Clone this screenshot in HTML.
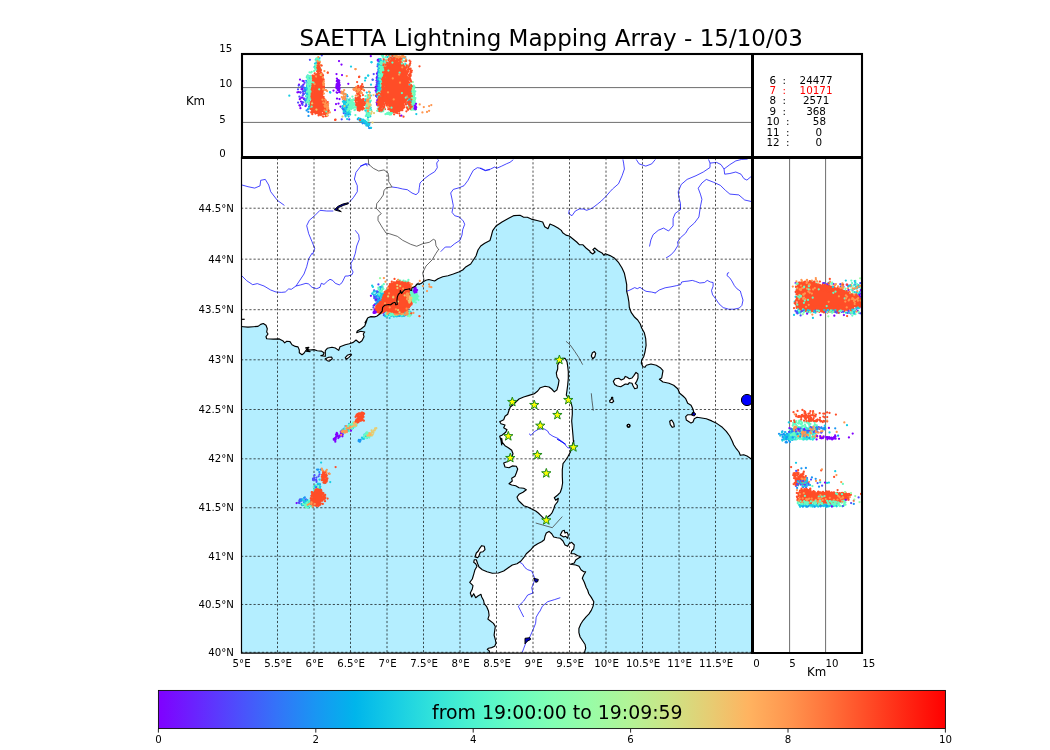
<!DOCTYPE html><html><head><meta charset="utf-8"><title>SAETTA Lightning Mapping Array</title>
<style>html,body{margin:0;padding:0;background:#fff}svg{display:block}text{font-family:"DejaVu Sans","Liberation Sans",sans-serif;fill:#000}.t{font-size:10.2px}.i{font-size:10.35px}.k{font-size:11.8px}</style></head><body>
<svg width="1050" height="750" viewBox="0 0 1050 750">
<defs><clipPath id="cm"><rect x="241" y="157.3" width="511" height="495.9"/></clipPath>
<clipPath id="ct"><rect x="242" y="54" width="510.5" height="103"/></clipPath>
<clipPath id="cr"><rect x="752.5" y="157.5" width="109.5" height="495"/></clipPath>
<linearGradient id="rb" x1="0" x2="1" y1="0" y2="0"><stop offset="0" stop-color="#8000ff"/><stop offset="0.05" stop-color="#6826fe"/><stop offset="0.1" stop-color="#4e4dfc"/><stop offset="0.15" stop-color="#3473f8"/><stop offset="0.2" stop-color="#1996f3"/><stop offset="0.25" stop-color="#00b5eb"/><stop offset="0.3" stop-color="#18cde4"/><stop offset="0.35" stop-color="#32e3da"/><stop offset="0.4" stop-color="#4df3ce"/><stop offset="0.45" stop-color="#67fcc2"/><stop offset="0.5" stop-color="#81ffb4"/><stop offset="0.55" stop-color="#99fca6"/><stop offset="0.6" stop-color="#b3f396"/><stop offset="0.65" stop-color="#cde385"/><stop offset="0.7" stop-color="#e6cd73"/><stop offset="0.75" stop-color="#ffb360"/><stop offset="0.8" stop-color="#ff964f"/><stop offset="0.85" stop-color="#ff733b"/><stop offset="0.9" stop-color="#ff4d27"/><stop offset="0.95" stop-color="#ff2613"/><stop offset="1" stop-color="#ff0000"/></linearGradient></defs>
<rect width="1050" height="750" fill="#fff"/>
<g clip-path="url(#cm)">
<rect x="241" y="157.3" width="511" height="495.9" fill="#b4eeff"/>
<path d="M230 326.4 240 326.4 243.3 326.7 248 327.1 253.3 326.7 258 326.4 260.7 324.4 263.3 323.5 266 325.3 267.3 328.7 266.7 332 268 334 266 336.7 266.7 338.7 273.3 339.1 279.3 338.9 282.7 340.7 284.7 342.9 286.7 341.3 290 341.6 292 344.7 295.3 346.4 298 346.9 299.3 350 299.3 352.7 302 354.7 304 353.3 305.3 351.3 306.7 349.3 310 350 314 349.6 317.3 350.7 321.3 351.1 324 352.7 323.3 354.9 320.7 355.7 325.3 356.3 325.3 350.7 327.3 348.3 332 347.3 335.3 348 338.7 350.4 340 346.7 345.3 344.7 349.3 343.7 353.3 342.4 356 340 359.3 342.7 362 340.7 364 336.7 363.3 334 364.7 332 360.7 331.3 356.7 332.7 357.3 330.9 361.3 328.7 364.7 326 366 322.7 367.3 318.7 365 322.8 367.9 317.7 370.9 316.6 374.5 316.9 376.7 316.2 379.7 314 382.2 311.1 382.6 307.4 384.8 305.2 388.5 304.5 390.7 304.8 392.9 303 395.1 302.3 395.8 304.8 397.3 304.5 396.9 300.8 397.3 297.1 398.4 294.2 400.2 292.7 400.3 290.5 401.7 293.5 403.1 291.3 404.6 289.8 407.5 289.2 409.7 288.7 410.1 290.2 411.6 290.5 411.9 288 415.6 286.1 416.3 284.7 417.8 283.9 419.3 284.3 421.5 283.2 423.7 281.4 425.9 280.3 428.8 279.5 434.6 281 438 278.7 442.7 276.7 448 275.7 453.3 274 458.7 272 462.7 270 465.3 267.3 470.7 264 473.3 260 476 256 478 250 480.7 246 484.7 243.3 490 240.4 491.3 236 492.7 230.7 496 226 502 222 508.7 218.3 514 215.6 520 215.3 523.3 217.1 527.3 217.3 531.3 219.1 538 220.7 542.7 222 544.7 226.7 548 228.7 550 224 554 225.7 558 228 561.3 230.4 562.7 232.7 566 235.1 569.3 236 572.7 238.7 576.7 242 579.3 244.7 582.7 244.7 586 248 590 251.3 590 252 592.7 254 595.1 252 592.9 249.7 594.7 248 598 250.7 602 252.9 604 255.3 605.3 253.7 610 255.6 614.7 258.3 618.7 262.7 622 268 624.4 273.3 625.7 279.3 626.7 284.7 626.7 291.3 628 296.7 628.9 302 629.3 307.3 631.3 312.7 634.7 317.3 637.7 320 640.3 324 641.7 328 644.3 332.7 645.7 338.7 646.1 345.3 645 352 643.7 356.7 641.7 360 641.3 363.3 643 366.7 645 367.3 646.3 365.3 651 364 656.3 365.3 660.3 367.7 663 370.7 662.3 374.7 661.7 378 659.4 379.3 663 382 669 383.3 673.7 385.3 677.7 388.7 678.3 390 679.7 393.3 683 396 685.7 398.7 687.7 403.3 691 405.3 693 409.3 693.7 412 691.7 414.7 687.7 414.7 685.7 416.7 686.3 420 689 421.7 691 423.1 693 422 694.3 418.7 697 417.3 701.7 418 706.3 418.7 711.7 420.9 717 423.6 722.3 427.3 726.3 431.3 729.7 436 732.3 441.3 733.7 444.7 736.3 448.7 739 452 740.3 455.3 743.7 454.7 747 456 753 460 770 460 770 140 230 140Z M501.7 445 501 440.3 499.7 436.3 502.3 435 505.7 432.3 507 429.7 503.7 427.7 505 425 501 423.7 499.7 421.7 503.7 419.7 505 416.3 507.7 414.3 509 410.3 510.3 407 513.7 404.3 516.3 401.7 519 399 523.7 397 529 395.4 534.3 393.7 537.7 391 540.3 387.7 545 386.3 549 387 551.7 389 554.3 391.9 557 389.7 558.3 385 559 380.3 557 377 556.3 373 557.7 369 557.7 365 559.7 361.7 562.3 358.3 565 358.3 567 361.7 567.7 366.3 568.3 371.7 568.3 378.3 567.7 385 567 390.3 566.3 395 568.3 398.3 571 402.3 572.3 407.7 572.3 414.3 571.7 421 572.3 427.7 573 435.7 573.7 445 573.7 440.3 571.7 447 570.3 452.3 567.7 457 565 461 563 463.7 562.3 469.7 562.3 476.3 562.6 483 561.7 488.3 560.3 492.3 557.7 495 554.3 497.7 555.7 500.3 558.3 498.3 557.7 501.7 555 505 553.7 509 552.3 512.3 550.3 515 547.7 517 545.7 519.7 543.7 518.3 541 515.7 538.3 513 535.7 511 531.7 509 527.7 507 523.7 505.7 521 503 518.3 500.3 517 497 519 494.3 523 492.3 526.3 489.7 523.7 488.3 519 487.7 515.7 485.7 511.7 485 509 483.7 512.3 481 511.7 478.3 515 476.3 516.3 473 517.7 469 516.3 466.3 512.3 465.9 509 467.7 505 467 503.7 463 507 461.7 510.3 460.3 513 453.7 511.7 450.3 508.3 447.7 505 445.7 502.3 442.3 501.7 438.3Z M489.8 656.9 489.8 652.5 489.1 650.7 487.3 649.4 488.5 648.2 491.6 647.6 494.7 646.3 496 643.2 495.3 639.5 494.1 635.2 494.7 630.9 495.3 626.5 493.5 623.4 490.4 621 487.9 619.1 489.1 615.4 488.5 611 486.7 606.7 484.2 603.6 483.6 600.5 481.7 597 481 594.3 478.3 595.7 475.7 597.7 473.7 593.7 471.7 597 470.3 593 472.3 589 473 585.7 469.7 582.3 472.3 579 473.7 574.3 475 569.7 477 566.3 475.7 563.7 473.7 562.3 474.3 559.7 476.3 559.7 477.7 563.7 479 567 482.3 569.7 487 571.7 492.3 573.3 498.3 573 503.7 571 508.3 567.7 512.3 565 517 563.7 521 561 523.7 557.7 526.3 553.7 530.3 550.3 533.7 546.3 537.7 543.7 541.7 541.7 544.3 539.7 545 536.3 546.3 533 549 531.4 551.7 533.7 553.7 537 557 537.7 560.3 538.3 563 541 565 545 567.7 546.3 569 543.7 571.7 542.3 574.3 545 573.7 549 571.7 551 571 553.7 574.3 553.7 577.7 555.7 581 556.7 578.3 558.3 575.7 559.9 574.3 563 570.3 564.3 575.7 565 579 566.3 581 569.7 583.7 571.7 585.7 571.7 583.7 575 582.3 578.3 584.3 582.3 586.3 587.7 587.6 590 588.8 593.7 591.3 597.4 593.8 601.8 593.1 606.1 591.3 610.4 588.8 614.1 586.3 616.6 583.2 620.3 580.8 624 578.9 628.4 578.9 632.7 580.1 637 582.6 640.8 585.1 644.5 585.7 648.2 584.5 652.5 584.5 656.9Z M613.3 381.3 615.3 378.7 618.7 378.3 621.3 380 624 378.7 625.3 376.4 627.3 377.3 629.3 378.7 632 378 634 375.3 636 372.4 638 374 638 378 636.7 381.3 635.3 383.3 637.3 385.3 637.3 388 634.7 388.7 633.1 386 632 383.3 629.3 382.7 628 384.4 625.3 384 623.3 385.3 620.7 386.7 617.3 386 614.7 384.4Z M591.3 356 592.4 352.7 594.4 351.6 595.7 353.3 594.9 356.7 592.7 358.7Z M609.6 400.7 611.3 399.3 611.6 397.3 612.7 397.3 612.7 399.3 613.7 401.3 612 402.7 610 402.3Z M669.7 421.3 671.7 420 673.7 423.3 674.3 426.7 672.3 427.3 670.3 424.7Z M475 557 476.3 553 478.3 551 479.7 548.3 481.7 545.7 484.3 546.3 485 549.7 483 551.7 480.3 552.3 479 555.7 477.7 557.7Z M560.3 535 562.3 531 564.3 530.3 565 533 567 532.3 568.3 535 567.7 538.3 565.7 536.3 563.7 537Z M325.3 358.7 328.7 357.3 331.7 357.1 332.3 358.7 329.3 361.1 327.3 360.7Z M345.3 357.6 347.3 355.3 350.7 354 351.5 354.9 348.7 357.6 346.3 359.3Z" fill="#fff"/>
<circle cx="628.5" cy="425.7" r="1.4" fill="#fff"/>
<circle cx="628.6" cy="425.7" r="1.4" fill="#fff"/>
<g fill="none" stroke="#0000ff" stroke-width="0.72" stroke-linejoin="round">
<path d="M242 185 248 186.7 254.7 188.1 260 185.9 260.7 180.3 265.3 179.4 268.7 185 270.7 191.7 277.3 200.3 284.4 205.4"/>
<path d="M370 165 366.7 163.7 360.7 166.3 356 172.3 354.4 179 357.3 185.7 357.3 191.7 353.3 197.7 349.3 202.3"/>
<path d="M333.3 211 326.7 211 320 210.3 314.7 215.7 309.3 220.3 306.7 225.7 308.7 233.7 312 241.7 314.7 248.3 312.7 254.3 312 253.3 308.7 258.7 306.7 266.7 304 274 300 280 296 286"/>
<path d="M242 276 246.7 280.7 252.7 284.7 257.3 283.6 264 286 270.7 290 276 292 281.3 292.4 285.3 292 288.7 288.9 291.3 289.3 296 286 300.7 284.9 306 283.3 308.7 284 312 287.3 316.7 288.7 320 287.3 321.3 283.3 324 284.4 327.3 281.3 330 279.3 332.7 280.4 335.3 283.3 339.3 284.9 342 282.7 345.3 276 348 276 352 274.7 353.1 272 351.3 268.7 350.9 263.3 353.3 259.3 355.3 253.3 356.7 246 359.3 239.3 358.7 234.7 356 231.3 355.3 230.3"/>
<path d="M360 166.3 364 164.3 366 163.7 367.3 166.3"/>
<path d="M392 187 397.3 187.7 402.7 189 407.3 189.7 412 193 416 194.7 418.7 192.3 419.3 187.7 420 183 424 179 429.3 175 434.7 171.7 437.3 167.7 436.7 163 438.7 160.3 437.3 159"/>
<path d="M490 169.7 485.3 170.3 481.3 168.3 477.3 167.7 473.3 170.3 470.7 175 468 180.3 464 185.7 459.3 187.7 453.3 189.4 450.7 193 452 199 453.3 205.7 452 212.3 454.7 215.7 459.3 217 463.3 221 464.7 224.3 462.7 229.7 462 235 460 240.3 454.7 243.7 450.7 247 445.3 247 440.7 251.7"/>
<path d="M480 168.3 485.3 170.7 490.7 169 494.7 167 496.7 168.3 501.3 166.3 506.7 163.7 510 162.3 513.3 159.7"/>
<path d="M569.3 209.7 568.7 213.7 572 215.7 575.3 211 579.3 209 583.3 209 586.7 210.3 592 208.3 597.3 204.3 601.3 201 606 196.3 610 191.7 612.5 189 618.5 183.8 622.1 175.7 624.4 169 623.6 163.1 622.9 159.4"/>
<path d="M636.2 159.4 639.1 163.9 645.8 166.1 651.7 163.9 655.4 159.4"/>
<path d="M708.5 159.4 710 163.1 710 167.5 703.3 172 696 175.7 687.1 179.4 681.2 184.5 678.2 191.9 679 197.8 680.5 203.7 680.5 209.6 675.3 213.3 673.1 218.5 673.1 225.9 668.6 231 663.5 228.1 658.3 230.3 653.1 234.7 650.9 239.9 649.5 246.5"/>
<path d="M710 163.1 716.6 162.4 721 164.6 724 169 729.9 164.6 735.8 160.9 741.7 159.4 747.6 159.1"/>
<path d="M724 169 724.7 174.2 729.9 173.5 735.8 172 741 174.2 743.9 178.6 746.9 180.1 751.3 176.4"/>
<path d="M751.3 201.5 744.7 200 738.8 194.9 729.9 194.1 725.5 190.4 720.3 185.3 713.7 182.3 706.3 179.4 701.9 183 698.2 188.2 700.4 194.1 701.9 199.3 700.4 206.7 698.9 217 694.5 222.9 688.6 228.1 685.6 233.2 680.5 237.7 677.5 242.1 678.2 245 674.5 251 670.9 254.9 666 258"/>
<path d="M626.7 291.3 630 290 634.7 287.6 637.3 288.7 640 287.3 642.7 289.3 646 291.3 651.3 292 655.3 292.9 655 293.2 659.3 290 665.1 287.8 671 286.8 676.3 285.7 680.6 284.6 681.7 282 684.9 281.4 688 281.1 692.3 280.4 695.5 281.4 699.8 283 704.6 282.5 707.2 280.4 710.4 282 713.1 282.5 713.1 286.2 711.5 290.5 712.6 294.8 715.8 299 719 303.8 723.2 307.6 728.6 309.2 733.9 309.2 739.2 308.1 741.9 305.4 743 300.1 741.4 294.8 740.3 291 737.1 288.9 734.4 285.7 731.8 280.9 729.6 277.7 727 275.6 727.5 273.2 729.1 272.6"/>
<path d="M529 433.7 531 435.4 534.3 431.7 538.3 429.3 543.7 428.7 547.7 431 549 433.7 553 436.3 557.7 438.3 562.3 441.7 565.7 444.3 557 439 563.7 443 567.7 447.7 571.7 448.3"/>
<path d="M519.7 562.3 522.3 563.7 525 567.7 527.7 569.7 531.7 571 533.7 575.7 535 579 533 585 531.7 587.7 533 593 527.7 595 523.7 601 518.3 606.3 521 611.7 523.7 617"/>
<path d="M560.3 597.7 554.3 599.7 547.7 601.7 542.3 606.3 539.7 611.7 539.3 611.7 536.2 617.2 535.6 623.4 533.1 629.6 530.6 635.2 528.8 638.9 525.7 643.2 523.8 648.2 522.2 652.5"/>
</g>
<g fill="none" stroke="#444" stroke-width="0.8" stroke-linejoin="round">
<path d="M368.3 159 368.7 164.3 373.3 168.3 378.7 171 384 169.9 388 173 388.7 177 388.7 181.7 392 187 386.7 187.7 384 190.3 383.3 195 380 199.7 376.7 203.7 376.3 208.3 381.3 213.7 378 216.3 378 220.3 382 227 386 233 389.3 233.7 397.3 236.3 402.7 240.3 410.7 244.3 416.7 246.3 422.7 243.7 429.3 242.3 433.3 239.3 435.3 240.3 436 245.7 438.7 249.7 438.7 249.3 436 253.3 432 260 426 266 422.7 272.7 424 280 422.7 282.7"/>
<path d="M416 286 416.7 283.7 418.7 282.9 419.7 284.7"/>
<path d="M566 341.3 570 344.7 574.7 351.3 578.7 357.3 582.7 364.7"/>
<path d="M591.3 393.3 592 400.7 593.3 410.7"/>
<path d="M535.7 523 552.3 527.7 562.3 516.6"/>
</g>
<g fill="#0000c8" stroke="#000" stroke-width="1" stroke-linejoin="round">
<path d="M348.3 202.7 342.7 204.1 338 206.3 334.4 209.7 336 210.3 341.3 211.7 338.7 209.9 336.7 209 339.3 207.3 343.3 205.4 348.3 203.8Z"/>
<path d="M533.7 578.3 538.3 579.4 537.7 581.7 535.7 582.3Z"/>
<path d="M525 638.3 530 637.7 530.6 639.5 526.9 641.4 525 643.9Z"/>
<path d="M692.3 412.7 693.7 412 695.7 414 694.3 416 691.7 415.1Z"/>
<circle cx="747" cy="400" r="5.6" fill="#0000ff"/>
</g>
<g fill="none" stroke="#000" stroke-width="0.68" stroke-dasharray="2.2 1.97">
<path d="M277.50 652.3 V157.3"/>
<path d="M314.00 652.3 V157.3"/>
<path d="M350.50 652.3 V157.3"/>
<path d="M387.00 652.3 V157.3"/>
<path d="M423.50 652.3 V157.3"/>
<path d="M460.00 652.3 V157.3"/>
<path d="M496.50 652.3 V157.3"/>
<path d="M533.00 652.3 V157.3"/>
<path d="M569.50 652.3 V157.3"/>
<path d="M606.00 652.3 V157.3"/>
<path d="M642.50 652.3 V157.3"/>
<path d="M679.00 652.3 V157.3"/>
<path d="M715.50 652.3 V157.3"/>
<path d="M241 652.30 H752"/>
<path d="M241 604.48 H752"/>
<path d="M241 556.30 H752"/>
<path d="M241 507.75 H752"/>
<path d="M241 458.82 H752"/>
<path d="M241 409.51 H752"/>
<path d="M241 359.81 H752"/>
<path d="M241 309.69 H752"/>
<path d="M241 259.17 H752"/>
<path d="M241 208.21 H752"/>
<path d="M241 156.81 H752"/>
</g>
<g fill="none" stroke-width="2.25" stroke-linecap="round"><path d="M384.6 308.4h.01M377.1 303.0h.01M376.4 299.8h.01M380.9 303.6h.01M378.2 295.6h.01M377.0 298.3h.01M376.2 296.0h.01M379.4 298.1h.01M379.7 296.5h.01M374.3 298.2h.01M374.9 297.1h.01M376.5 299.8h.01M380.7 299.7h.01M380.3 301.1h.01M373.4 307.6h.01M374.1 290.3h.01M380.9 306.9h.01M384.0 297.9h.01M378.1 292.1h.01M375.7 298.3h.01M382.2 299.9h.01M377.1 305.6h.01" stroke="#4e4dfc"/><path d="M375.8 300.5h.01M380.5 301.3h.01M380.1 300.0h.01M373.5 305.8h.01M375.3 303.8h.01M381.9 301.4h.01M382.2 293.9h.01M383.6 293.7h.01M381.6 286.7h.01M381.1 301.9h.01M380.1 287.2h.01M384.1 303.0h.01M376.6 308.7h.01M379.1 291.6h.01M381.1 293.8h.01M373.9 295.1h.01M384.5 302.7h.01M376.8 292.8h.01M379.4 297.1h.01M387.6 294.8h.01M376.6 296.4h.01M377.7 305.4h.01M385.4 292.2h.01M375.7 298.3h.01M378.1 299.5h.01M381.6 302.9h.01" stroke="#1996f3"/><path d="M375.3 294.3h.01M384.9 291.9h.01M382.1 293.5h.01M383.9 303.3h.01M380.7 296.3h.01M373.8 291.6h.01M377.8 295.0h.01M383.7 298.4h.01M380.5 288.7h.01M380.2 292.7h.01M387.6 302.7h.01M389.3 298.9h.01M380.2 293.9h.01M388.2 291.6h.01M372.4 293.3h.01M372.1 285.7h.01M383.9 299.4h.01M379.3 296.1h.01M382.7 295.0h.01M382.5 287.1h.01M380.0 290.3h.01M383.1 297.0h.01M381.0 295.6h.01M374.2 291.5h.01M381.3 297.0h.01M381.1 299.4h.01M387.8 290.5h.01M375.8 291.3h.01" stroke="#18cde4"/><path d="M379.3 294.6h.01M378.5 288.9h.01M384.2 294.6h.01M383.4 288.9h.01M382.9 288.4h.01M378.4 287.7h.01M378.8 293.6h.01M381.7 291.7h.01M380.7 291.3h.01M382.2 285.5h.01M379.8 291.2h.01M383.8 284.2h.01M387.1 297.0h.01M386.4 289.9h.01M386.6 291.4h.01M382.1 290.1h.01" stroke="#67fcc2"/><path d="M375.7 303.8h.01M376.0 299.4h.01M377.8 301.0h.01M379.8 303.1h.01M376.4 299.7h.01M376.9 300.3h.01M377.8 299.8h.01M375.6 299.7h.01M375.6 300.0h.01M377.3 301.8h.01M377.8 303.2h.01M377.3 303.5h.01M379.9 301.5h.01M377.6 298.9h.01M378.3 301.5h.01M379.9 301.1h.01" stroke="#1996f3"/><path d="M376.0 310.4h.01M375.5 312.5h.01M373.8 311.5h.01M376.1 312.2h.01M373.5 312.8h.01M374.9 310.2h.01M376.0 310.5h.01M376.0 310.7h.01M377.2 311.9h.01M375.2 310.6h.01M376.0 311.4h.01M376.3 312.1h.01M375.3 312.1h.01M376.3 311.2h.01M374.5 309.8h.01M376.3 308.9h.01M376.2 312.0h.01M374.6 311.2h.01M374.9 309.6h.01M375.4 310.1h.01M375.0 310.2h.01M376.7 308.7h.01M375.8 311.0h.01M377.0 309.8h.01M376.8 310.3h.01M375.7 311.6h.01M375.4 310.6h.01M374.7 311.3h.01M374.8 311.2h.01M374.8 310.7h.01M376.0 310.7h.01M374.7 312.9h.01M375.7 310.5h.01M375.8 312.6h.01M375.1 309.6h.01M375.4 311.5h.01M377.1 310.9h.01M377.3 309.8h.01M374.8 309.3h.01M375.4 312.6h.01" stroke="#8000ff"/><path d="M370.9 295.8h.01M376.0 299.7h.01M374.2 305.2h.01" stroke="#8000ff"/><path d="M408.8 312.5h.01M409.4 315.3h.01M402.3 313.1h.01M409.2 312.9h.01M388.1 312.3h.01M406.6 311.5h.01M400.1 314.1h.01M391.3 312.7h.01M399.5 315.2h.01M386.3 310.9h.01M404.8 315.2h.01M400.7 311.2h.01M386.2 314.9h.01M389.3 313.0h.01M391.2 314.5h.01M396.2 313.0h.01M389.6 311.5h.01M391.4 315.6h.01M398.3 314.0h.01M387.3 311.8h.01M403.8 313.8h.01M395.6 311.8h.01M394.4 312.8h.01M398.9 313.7h.01M387.6 313.8h.01M407.5 311.2h.01M386.5 311.7h.01M398.2 313.0h.01M409.5 313.3h.01M387.1 315.1h.01M402.3 313.6h.01M409.8 314.9h.01M410.3 312.6h.01M392.8 311.7h.01M400.3 312.1h.01M408.9 310.8h.01M400.3 312.6h.01M407.0 314.0h.01M402.3 315.0h.01M384.3 311.9h.01" stroke="#8000ff"/><path d="M402.5 313.7h.01M403.7 314.9h.01M402.1 315.4h.01M409.5 312.1h.01M399.1 315.9h.01M395.4 313.1h.01M397.9 311.4h.01M383.5 311.6h.01M383.5 313.1h.01M396.7 315.2h.01M393.5 311.1h.01M387.0 311.9h.01M392.9 315.1h.01M400.7 315.2h.01M397.5 311.8h.01M394.1 311.0h.01M404.2 314.3h.01M384.8 315.1h.01M407.4 311.0h.01M401.8 313.6h.01M394.7 311.5h.01M402.1 314.0h.01M408.8 311.3h.01M401.1 311.4h.01M401.5 313.7h.01M402.4 315.9h.01M408.2 310.8h.01M407.5 311.2h.01M390.9 311.8h.01M383.9 315.2h.01M390.9 312.0h.01M393.2 312.2h.01M390.0 313.1h.01M395.7 315.4h.01M408.8 312.2h.01M388.5 313.3h.01M393.7 313.3h.01M405.9 313.4h.01M386.9 313.1h.01M392.9 315.1h.01" stroke="#4e4dfc"/><path d="M388.8 313.6h.01M397.0 315.1h.01M386.9 312.7h.01M407.0 314.2h.01M394.9 312.1h.01M410.4 313.3h.01M401.3 315.9h.01M388.9 315.0h.01M408.4 312.8h.01M391.3 312.3h.01M400.6 314.2h.01M404.1 313.5h.01M386.1 316.5h.01M388.3 312.4h.01M394.9 316.1h.01M393.1 312.1h.01M391.9 315.4h.01M390.7 315.8h.01M393.1 311.8h.01M410.0 313.3h.01M395.8 314.9h.01M395.7 313.1h.01M390.1 311.3h.01M388.5 315.2h.01M390.3 313.5h.01M407.4 311.8h.01M407.4 311.0h.01M388.0 313.7h.01M394.1 312.4h.01M399.1 315.5h.01M398.3 311.6h.01M388.8 310.8h.01M385.0 316.0h.01M404.9 313.1h.01M386.9 315.7h.01M394.1 314.0h.01M404.0 315.9h.01M401.9 316.2h.01M394.4 311.2h.01M405.0 312.3h.01M410.3 311.8h.01M396.3 316.3h.01M407.3 314.8h.01M397.5 316.1h.01M393.9 316.5h.01M410.2 315.3h.01M404.3 315.8h.01M387.0 316.2h.01M398.0 314.3h.01M393.6 315.5h.01" stroke="#18cde4"/><path d="M411.2 314.6h.01M398.0 312.7h.01M391.2 314.3h.01M403.1 311.9h.01M387.0 311.0h.01M393.7 310.7h.01M395.5 314.9h.01M406.8 311.0h.01M386.2 310.8h.01M394.0 311.2h.01M393.6 313.2h.01M403.0 314.1h.01M408.6 313.0h.01M398.2 313.7h.01M407.8 313.1h.01M396.7 314.4h.01M398.8 313.6h.01M394.0 311.3h.01M390.7 312.2h.01M409.0 315.8h.01M401.4 312.8h.01M392.6 314.0h.01M399.7 311.3h.01M396.2 314.0h.01M386.5 314.2h.01M403.9 311.2h.01M408.4 315.5h.01M401.6 312.5h.01M389.4 312.2h.01M396.6 314.1h.01M390.9 315.4h.01M390.0 314.9h.01M393.3 313.4h.01M409.2 310.6h.01M407.8 313.0h.01M406.5 313.7h.01M410.0 314.9h.01M388.4 311.4h.01M391.3 312.9h.01M386.7 313.8h.01M385.6 314.1h.01M402.5 310.6h.01M396.3 315.1h.01M400.5 310.9h.01M408.5 315.0h.01M393.1 315.1h.01M392.0 313.7h.01M407.2 313.3h.01M386.2 312.2h.01M410.0 312.5h.01M394.7 315.4h.01M386.4 313.9h.01M391.3 312.9h.01M387.7 312.3h.01M407.8 315.8h.01M387.0 315.5h.01M386.9 315.4h.01M401.8 315.4h.01M391.1 312.3h.01M394.4 314.9h.01" stroke="#67fcc2"/><path d="M401.7 312.0h.01M406.9 314.6h.01M402.8 312.9h.01M405.1 314.5h.01M404.3 311.2h.01M399.1 313.2h.01M401.9 312.1h.01M387.3 311.1h.01M394.6 312.8h.01M404.4 314.5h.01M387.7 312.7h.01M393.3 311.8h.01M400.2 313.6h.01M396.1 314.3h.01M387.2 313.8h.01M389.5 312.0h.01M401.2 313.9h.01M398.4 313.9h.01M399.3 312.7h.01M406.8 313.8h.01M407.4 311.2h.01M392.4 311.8h.01M406.3 312.5h.01M397.8 314.5h.01M400.6 313.6h.01M387.9 313.5h.01M394.9 314.1h.01M407.8 313.7h.01M407.6 311.3h.01M395.3 314.3h.01" stroke="#ff964f"/><path d="M411.3 294.2h.01M411.8 295.0h.01M414.9 294.9h.01M410.9 300.6h.01M418.3 296.4h.01M416.0 299.7h.01M410.1 301.4h.01M408.8 295.0h.01M416.3 296.4h.01M411.6 299.3h.01M414.7 298.1h.01M410.6 296.2h.01M413.6 301.0h.01M412.0 298.3h.01M414.8 299.0h.01M412.7 296.0h.01M416.7 298.3h.01M411.8 294.7h.01M416.2 297.8h.01M413.4 296.7h.01M414.6 297.4h.01M409.9 299.2h.01M409.6 298.7h.01M415.7 298.0h.01M410.7 293.5h.01M412.7 294.5h.01M412.7 296.5h.01M411.4 298.9h.01M413.9 300.6h.01M410.3 295.9h.01M410.8 296.7h.01M415.4 296.0h.01M411.6 296.8h.01M415.0 297.6h.01M414.9 295.0h.01M416.7 293.9h.01M414.4 299.5h.01M409.4 298.9h.01M412.0 296.1h.01M412.5 296.8h.01M416.1 295.4h.01M414.2 293.7h.01M412.3 298.6h.01M414.3 295.5h.01M412.6 294.4h.01M414.6 295.6h.01M413.7 301.0h.01M415.8 298.1h.01M414.1 297.6h.01M415.6 297.3h.01M413.4 299.2h.01M415.0 298.8h.01M413.1 294.0h.01M414.8 296.5h.01M413.9 295.5h.01M413.1 297.6h.01M412.5 296.9h.01M412.8 292.3h.01M414.4 299.8h.01M408.3 297.7h.01M416.1 292.9h.01M413.0 299.8h.01M413.0 297.4h.01M412.7 298.2h.01M415.0 297.1h.01M413.9 297.4h.01M413.3 295.8h.01M413.6 293.1h.01M415.5 295.6h.01M411.5 297.5h.01M414.2 297.1h.01M408.9 298.6h.01M412.5 296.8h.01M414.3 300.8h.01M410.7 298.8h.01M411.7 295.1h.01M412.6 293.8h.01M414.6 296.2h.01M414.1 293.7h.01M410.5 297.8h.01M415.5 294.8h.01M410.5 301.6h.01M412.8 296.4h.01M416.3 295.6h.01M410.5 295.4h.01M412.6 291.8h.01M417.1 294.9h.01M412.8 295.1h.01M411.1 296.2h.01M412.1 295.7h.01M415.2 297.1h.01M409.9 300.0h.01M412.0 295.9h.01M410.2 296.8h.01M410.8 298.0h.01M416.2 295.1h.01M413.2 295.9h.01M412.4 299.3h.01M414.3 297.4h.01M411.8 294.1h.01M410.7 292.7h.01M415.9 302.5h.01M415.3 298.1h.01M411.5 293.2h.01M414.9 297.4h.01M416.6 298.7h.01M414.5 297.3h.01M414.5 292.6h.01M410.7 301.4h.01M413.1 298.5h.01M409.3 296.6h.01M415.8 298.7h.01M413.0 296.5h.01M416.3 296.3h.01M411.7 299.2h.01M415.3 292.4h.01M409.9 299.5h.01M412.5 298.0h.01M414.6 298.9h.01M414.2 299.3h.01M413.3 300.8h.01M409.7 300.6h.01M416.3 299.2h.01M414.8 296.2h.01M415.9 298.8h.01M415.9 296.0h.01M412.6 294.9h.01M414.3 298.2h.01M414.7 298.0h.01M411.5 300.0h.01M414.3 292.1h.01M412.1 298.6h.01M417.3 298.8h.01M413.8 297.5h.01M411.1 300.7h.01M412.0 295.1h.01M410.3 298.0h.01M409.4 296.3h.01M415.2 297.2h.01M411.8 294.9h.01M410.9 296.9h.01M413.7 298.8h.01M411.5 297.5h.01M413.9 298.0h.01M417.3 295.4h.01M410.8 301.0h.01M410.7 295.6h.01M415.6 297.3h.01M411.9 298.6h.01M411.4 296.8h.01M409.6 299.0h.01M412.7 297.7h.01M412.5 301.3h.01M415.0 298.5h.01M411.0 298.2h.01M412.8 295.3h.01M412.7 298.3h.01M409.9 299.6h.01M409.9 298.2h.01M414.4 295.0h.01M414.6 295.9h.01M411.6 296.7h.01M416.9 297.3h.01M415.5 293.9h.01M414.4 301.7h.01M414.7 297.0h.01M414.2 297.5h.01M415.0 296.2h.01M415.3 297.1h.01M413.5 301.8h.01" stroke="#67fcc2"/><path d="M408.9 296.6h.01M406.4 295.7h.01M409.1 290.9h.01M410.2 290.1h.01M408.9 291.6h.01M409.0 300.5h.01M411.2 290.8h.01M410.7 292.1h.01M409.6 297.8h.01M408.3 293.3h.01M407.0 290.6h.01M412.9 299.5h.01M406.9 295.5h.01M411.0 291.7h.01M409.4 292.9h.01M408.4 297.7h.01M411.4 292.9h.01M408.4 295.3h.01M412.1 297.6h.01M407.9 298.0h.01M410.7 287.5h.01M412.1 292.5h.01M408.0 293.1h.01M413.6 294.7h.01M411.3 297.2h.01M405.7 298.6h.01M412.3 292.7h.01M413.3 290.3h.01M409.3 295.1h.01M409.4 292.2h.01M410.5 300.7h.01M406.3 295.7h.01M410.1 294.6h.01M411.5 298.1h.01M408.7 292.0h.01M411.8 293.1h.01M413.8 293.7h.01M406.1 296.8h.01M406.4 299.2h.01M408.5 297.3h.01" stroke="#67fcc2"/><path d="M416.1 292.2h.01M415.0 289.6h.01M415.7 290.4h.01M415.0 292.3h.01M416.5 291.9h.01M414.6 291.3h.01M415.2 291.7h.01M415.5 287.7h.01M416.1 290.2h.01M414.5 288.6h.01M415.0 289.7h.01M414.4 290.0h.01M413.9 291.2h.01M416.4 292.1h.01M415.8 291.6h.01M413.7 290.9h.01M414.3 290.0h.01M415.8 292.2h.01M414.6 290.9h.01M414.2 288.1h.01M416.6 290.4h.01M414.8 291.1h.01M414.9 289.2h.01M415.8 290.8h.01M414.5 292.5h.01M415.3 290.1h.01M415.4 290.4h.01M416.0 290.4h.01M414.5 289.2h.01M416.4 289.8h.01M415.6 289.1h.01M417.1 290.1h.01M415.5 289.4h.01M414.7 291.7h.01M414.7 290.3h.01M414.1 291.6h.01M415.3 288.8h.01M415.2 290.4h.01M416.2 291.2h.01M415.3 291.4h.01M414.4 289.6h.01M416.3 290.3h.01M414.8 290.6h.01M415.5 290.0h.01M416.7 289.9h.01" stroke="#8000ff"/><path d="M404.4 282.8h.01M399.4 281.8h.01M397.5 281.9h.01M401.5 283.0h.01M403.8 282.0h.01M404.2 283.2h.01M406.9 283.2h.01M403.2 281.3h.01M404.6 282.3h.01M400.4 280.6h.01M402.8 281.8h.01M408.3 284.2h.01M408.4 279.9h.01M404.8 282.3h.01M402.1 283.2h.01M402.6 283.2h.01M406.9 282.2h.01M400.8 283.6h.01M400.2 283.2h.01M402.5 282.5h.01M405.6 283.1h.01M399.8 280.9h.01M404.0 281.6h.01M404.0 284.5h.01M403.3 282.2h.01M402.4 282.3h.01M405.6 281.3h.01M404.6 284.2h.01M398.6 279.9h.01M407.6 281.6h.01" stroke="#67fcc2"/><path d="M409.6 285.1h.01M411.5 287.2h.01M408.4 285.8h.01M408.6 283.5h.01M409.4 287.7h.01M405.6 285.9h.01M411.5 287.0h.01M407.2 284.0h.01M411.0 285.3h.01M411.6 284.2h.01M410.8 283.8h.01M409.3 285.7h.01M407.7 283.1h.01M405.0 284.0h.01M410.0 283.3h.01M408.5 285.6h.01M412.1 284.0h.01M408.4 287.4h.01M410.1 286.5h.01M408.2 286.6h.01M409.7 285.0h.01M408.3 285.7h.01M408.6 286.7h.01M405.4 284.1h.01M407.6 287.2h.01" stroke="#ff964f"/><path d="M384.0 303.7 385.2 298.1 387.0 293.2 389.5 288.9 392.6 286.1 396.9 284.9 401.8 285.8 405.5 285.5 408.0 288.0 407.4 290.7 406.1 293.2 406.7 296.9 408.0 300.6 408.6 303.7 406.1 306.1 403.0 309.2 398.7 310.5 394.4 310.1 390.1 309.2 387.0 308.0 384.6 309.8 381.5 310.5 379.0 308.0 379.6 304.9 382.1 303.7Z" fill="#ff4d27" stroke="none"/><path d="M409.2 304.7h.01M407.3 290.2h.01M409.6 305.6h.01M407.7 289.2h.01M394.2 283.6h.01M391.4 309.7h.01M407.8 298.4h.01M395.7 283.3h.01M381.1 310.2h.01M408.5 294.9h.01M389.2 309.5h.01M391.8 309.7h.01M398.7 286.6h.01M398.3 282.0h.01M400.6 284.9h.01M408.4 299.5h.01M406.6 295.0h.01M405.4 283.4h.01M378.2 306.7h.01M404.5 310.3h.01M388.2 309.9h.01M406.4 306.9h.01M379.5 306.6h.01M397.7 285.2h.01M393.8 283.8h.01M408.4 300.5h.01M406.9 292.4h.01M386.2 308.1h.01M378.0 304.9h.01M380.0 309.2h.01M407.7 289.2h.01M407.3 307.0h.01M386.4 296.2h.01M408.6 287.3h.01M408.6 299.5h.01M389.5 289.4h.01M405.8 306.8h.01M388.4 308.1h.01M404.8 309.6h.01M391.4 285.0h.01M378.2 312.2h.01M409.4 284.8h.01M382.0 303.5h.01M407.2 307.5h.01M397.6 311.4h.01M382.1 304.3h.01M408.1 290.7h.01M396.6 311.2h.01M388.3 309.8h.01M408.4 305.9h.01M408.2 291.2h.01M407.9 286.6h.01M409.4 285.2h.01M379.0 307.3h.01M403.2 283.8h.01M409.3 287.9h.01M378.8 311.2h.01M407.5 305.5h.01M398.9 309.9h.01M380.9 310.6h.01M392.1 310.7h.01M388.9 288.1h.01M401.6 285.1h.01M387.2 309.1h.01M407.7 298.2h.01M404.9 309.1h.01M391.3 311.7h.01M408.1 290.2h.01M390.7 310.4h.01M387.6 308.4h.01M399.3 311.1h.01M382.6 303.6h.01M401.0 309.4h.01M395.7 309.6h.01M407.8 305.7h.01M379.6 311.2h.01M378.1 311.3h.01M408.5 306.4h.01M385.6 309.4h.01M376.3 306.0h.01M400.9 284.3h.01M396.9 285.5h.01M402.7 310.4h.01M409.8 286.8h.01M388.8 310.0h.01M409.3 289.5h.01M385.9 292.9h.01M389.5 310.6h.01M390.4 286.0h.01M377.0 308.7h.01M377.7 309.8h.01M386.3 294.6h.01M388.9 286.3h.01M405.5 282.6h.01M387.5 289.4h.01M392.6 310.4h.01M379.2 310.8h.01M379.1 309.5h.01M376.5 308.2h.01M376.7 309.2h.01M385.5 293.9h.01M383.4 310.7h.01M383.7 311.4h.01M407.7 306.6h.01M408.6 292.7h.01M384.5 301.9h.01M406.4 309.0h.01M408.8 305.3h.01M383.0 298.0h.01M384.0 304.3h.01M408.9 290.6h.01M384.5 301.1h.01M388.5 307.7h.01M395.2 284.5h.01M390.3 308.9h.01M396.7 311.0h.01M406.5 308.9h.01M376.7 307.7h.01M409.1 287.2h.01M408.3 305.6h.01M402.7 311.1h.01M395.1 285.4h.01M396.0 310.9h.01M384.3 310.1h.01M380.3 301.8h.01M392.8 284.8h.01M383.2 310.1h.01M409.6 301.6h.01M409.9 302.4h.01M409.4 305.0h.01M395.7 312.1h.01M405.0 284.1h.01M383.4 303.1h.01M382.5 299.4h.01M408.6 286.4h.01M376.4 309.8h.01M399.2 282.1h.01M407.3 291.6h.01M387.6 290.9h.01M405.6 286.3h.01M376.2 306.6h.01M376.4 309.8h.01M378.3 307.8h.01M387.5 309.9h.01M402.5 310.7h.01M390.5 310.2h.01M379.7 304.5h.01M407.6 293.7h.01M408.5 297.7h.01M411.4 302.9h.01M381.1 312.1h.01M386.0 291.7h.01M391.0 287.5h.01M386.3 310.2h.01M379.2 307.9h.01M409.2 287.1h.01M409.8 302.6h.01M392.2 310.1h.01M386.8 293.8h.01M378.1 307.3h.01M379.2 304.7h.01M390.9 286.6h.01M405.5 293.3h.01M382.1 312.4h.01M407.5 295.5h.01M405.0 285.2h.01M386.1 295.1h.01M379.2 304.5h.01M385.0 301.6h.01M407.6 291.4h.01M389.8 288.3h.01M409.4 285.9h.01M382.1 304.3h.01M407.5 291.5h.01M405.2 307.6h.01M405.5 294.5h.01M403.6 311.2h.01M398.5 310.2h.01M389.1 309.2h.01M404.1 286.6h.01M403.5 310.3h.01M403.7 283.7h.01M401.9 286.4h.01M387.0 290.8h.01M387.9 292.0h.01M387.1 296.0h.01M396.1 311.7h.01M408.4 295.4h.01M410.2 303.2h.01M406.9 283.8h.01M391.1 285.7h.01M395.2 286.2h.01M389.0 310.1h.01M377.5 309.9h.01M407.4 287.8h.01M404.1 283.2h.01M386.0 293.1h.01M395.7 285.7h.01M408.1 290.0h.01M398.4 310.4h.01M400.1 309.8h.01M408.9 307.5h.01M399.3 283.3h.01M406.0 285.3h.01M402.5 285.1h.01M396.3 309.6h.01M382.9 300.7h.01M409.2 300.1h.01M399.9 286.0h.01M402.4 284.3h.01M398.9 311.8h.01M397.3 282.2h.01M383.7 303.8h.01M403.9 308.6h.01M384.7 297.3h.01M400.8 283.5h.01M399.0 285.9h.01M405.3 307.2h.01M384.5 295.1h.01M403.2 282.2h.01M409.6 288.4h.01M408.3 290.9h.01M387.9 308.4h.01M388.4 290.8h.01M389.8 286.0h.01M386.3 307.8h.01M392.1 286.2h.01M380.2 304.3h.01M393.9 282.3h.01M408.8 291.8h.01M407.9 297.5h.01M406.3 309.5h.01M379.7 307.7h.01M393.5 283.0h.01M376.8 309.4h.01M401.2 310.8h.01M384.2 297.0h.01M399.4 284.6h.01M407.5 292.4h.01M383.3 296.9h.01M375.5 308.4h.01M403.5 284.8h.01M384.2 299.2h.01M409.2 300.5h.01M399.6 310.8h.01M402.5 308.9h.01M395.4 310.4h.01M409.3 299.1h.01M395.1 311.9h.01M399.4 283.0h.01M408.7 302.5h.01M378.9 305.3h.01M403.0 283.6h.01M380.7 310.1h.01M395.4 283.9h.01M407.6 293.7h.01M391.4 288.0h.01M408.4 306.2h.01M400.9 286.2h.01M378.5 307.6h.01M406.8 306.8h.01M383.5 310.7h.01M382.8 310.7h.01M389.1 288.8h.01M383.9 303.2h.01M399.7 286.1h.01M386.2 294.0h.01M388.9 288.6h.01M378.7 305.2h.01M378.2 306.2h.01M381.6 309.9h.01M384.5 309.7h.01M389.6 310.1h.01M395.4 310.0h.01M402.3 286.4h.01M397.3 285.5h.01M407.8 297.6h.01M384.8 295.0h.01M401.4 286.0h.01M408.1 301.0h.01M390.9 287.5h.01M395.0 283.8h.01M380.8 311.8h.01M396.4 283.5h.01M389.6 309.6h.01M390.2 310.1h.01M389.7 289.9h.01M395.0 311.7h.01M407.2 309.4h.01M408.7 302.9h.01M380.9 311.5h.01M393.3 285.1h.01M407.0 293.9h.01M395.7 312.0h.01M402.6 285.1h.01M401.7 311.1h.01M379.1 312.9h.01M385.6 295.3h.01M401.9 282.4h.01M408.8 297.9h.01M388.5 289.9h.01M393.4 311.6h.01M398.4 284.6h.01M401.6 283.4h.01M385.3 296.1h.01M377.7 304.7h.01M381.0 309.6h.01M382.2 303.2h.01M394.3 311.4h.01M389.6 287.3h.01M408.7 285.5h.01M403.9 285.0h.01M409.8 306.2h.01M410.3 299.9h.01M405.7 292.2h.01M388.6 289.9h.01M397.1 311.2h.01M405.0 308.8h.01M390.7 308.3h.01M382.0 301.7h.01M378.4 308.3h.01M383.7 304.7h.01M409.0 286.5h.01M385.1 293.1h.01M384.4 301.3h.01M410.7 304.5h.01M391.1 311.4h.01M384.9 292.9h.01M389.9 308.6h.01M411.7 303.4h.01M409.0 299.1h.01M410.7 301.4h.01M408.8 289.4h.01M400.5 284.4h.01M407.8 306.3h.01M408.5 293.4h.01M378.0 307.0h.01M400.6 310.0h.01M386.6 294.2h.01M380.5 312.7h.01M399.6 282.3h.01M403.9 309.7h.01M378.0 304.3h.01M402.8 310.0h.01M386.6 309.2h.01M405.8 285.2h.01M403.4 286.7h.01M378.9 312.4h.01M390.1 285.0h.01M387.9 308.2h.01M385.6 308.6h.01M407.0 292.5h.01M408.0 294.7h.01M384.6 299.5h.01M377.8 310.0h.01M381.2 303.5h.01M409.4 305.7h.01M383.0 298.8h.01M410.0 304.8h.01M393.6 288.0h.01M379.9 304.6h.01M384.4 301.9h.01M380.3 313.2h.01M381.2 312.9h.01M386.5 295.8h.01M409.0 287.9h.01M384.1 301.1h.01M391.6 283.3h.01M407.9 301.4h.01M385.8 294.3h.01M378.1 306.1h.01M403.9 310.6h.01M407.8 305.2h.01M408.1 291.6h.01M388.8 309.2h.01M406.4 293.4h.01M397.1 282.6h.01M382.8 303.5h.01M406.2 296.3h.01M408.0 288.1h.01M404.3 283.9h.01M410.0 299.5h.01M401.9 309.8h.01M408.4 298.6h.01M411.0 302.4h.01M401.4 285.9h.01M384.6 295.4h.01M390.9 284.6h.01M391.1 311.4h.01M388.1 287.8h.01M406.6 298.0h.01M378.3 305.8h.01M384.7 310.0h.01M402.1 308.6h.01M385.3 308.8h.01M379.6 304.6h.01M404.9 309.8h.01M399.1 285.0h.01M388.2 287.4h.01M388.0 289.4h.01M408.3 305.4h.01M387.3 293.6h.01M393.7 312.3h.01M404.1 285.2h.01M380.9 311.4h.01M380.7 310.7h.01M407.6 303.3h.01M394.7 311.9h.01M396.5 311.7h.01M383.3 310.7h.01M392.0 285.9h.01M389.7 286.9h.01M383.2 312.1h.01M385.8 291.3h.01M394.4 310.2h.01M410.2 301.7h.01M409.6 295.0h.01M405.1 308.1h.01M408.5 292.3h.01M401.8 310.8h.01M407.8 303.7h.01M378.9 305.3h.01M385.6 309.1h.01M408.5 282.7h.01M396.4 310.8h.01M401.7 287.0h.01M383.5 310.1h.01M409.3 295.1h.01M408.5 299.9h.01M406.2 294.9h.01M391.5 287.7h.01M377.0 306.2h.01M392.4 284.3h.01M402.3 309.7h.01M403.9 283.6h.01M388.8 289.9h.01M408.1 285.8h.01M393.3 311.2h.01M385.0 311.0h.01M404.7 309.4h.01M411.5 304.3h.01M384.0 310.0h.01M386.3 291.8h.01M406.7 285.7h.01M402.1 311.8h.01M407.4 291.3h.01M408.3 285.1h.01M407.3 290.9h.01M406.9 291.6h.01M402.9 285.2h.01M379.7 304.0h.01M405.1 309.6h.01M400.4 311.5h.01M379.0 307.8h.01M406.9 298.3h.01M408.5 293.7h.01M391.2 311.2h.01M408.0 285.8h.01M407.0 294.3h.01M405.6 310.6h.01M400.2 310.5h.01M376.4 310.0h.01M408.9 305.4h.01M393.0 285.1h.01M403.4 310.7h.01M391.2 286.0h.01M388.4 309.0h.01M393.0 311.3h.01M386.1 309.4h.01M395.7 284.7h.01M395.0 283.8h.01M407.6 287.4h.01M395.8 285.0h.01M408.6 307.2h.01M408.9 289.0h.01M406.4 289.7h.01M397.4 312.1h.01M376.3 306.8h.01M390.8 287.2h.01M399.9 283.3h.01M381.3 303.5h.01M389.1 309.8h.01M387.0 308.5h.01M391.6 286.0h.01M406.7 304.3h.01M406.5 307.4h.01M406.8 290.6h.01M379.3 309.0h.01M391.6 285.9h.01M378.0 310.2h.01M380.4 304.8h.01M401.9 311.0h.01M410.4 299.8h.01M401.6 310.3h.01M381.8 304.0h.01M407.4 294.3h.01M389.6 307.7h.01M379.6 308.5h.01M398.0 310.9h.01M410.7 304.2h.01M379.5 308.7h.01M382.6 310.3h.01M396.3 283.1h.01M408.4 300.8h.01M380.7 304.9h.01M380.3 305.7h.01M379.0 308.1h.01M391.4 285.9h.01M382.8 301.5h.01M407.9 291.1h.01M399.0 284.1h.01M387.4 292.8h.01M393.3 286.8h.01M384.6 295.3h.01M379.6 310.3h.01M406.9 307.9h.01M404.2 307.1h.01M381.0 311.5h.01M381.4 311.4h.01M411.5 304.5h.01M378.4 307.8h.01M390.1 290.6h.01M406.4 284.0h.01M384.9 302.7h.01M379.6 303.9h.01M389.6 310.4h.01M407.0 294.6h.01M408.9 306.3h.01M385.0 300.6h.01M408.7 301.8h.01M392.4 309.6h.01M377.9 304.5h.01M385.5 308.5h.01M407.0 291.0h.01M408.7 290.2h.01M398.4 311.4h.01M408.4 287.8h.01M387.7 309.1h.01M407.3 308.8h.01M407.5 298.9h.01M382.4 301.5h.01M400.2 309.3h.01M407.0 287.0h.01M377.8 308.6h.01M381.6 312.5h.01M388.0 293.3h.01M389.0 309.3h.01M392.9 284.7h.01M397.1 281.1h.01M400.0 312.5h.01M392.6 286.8h.01M381.0 311.7h.01M398.3 311.1h.01M390.0 310.7h.01M384.6 296.9h.01M391.6 309.8h.01M406.3 305.3h.01M396.3 312.7h.01M407.2 307.3h.01M388.9 287.8h.01M382.6 302.6h.01M408.6 303.0h.01M399.1 312.7h.01M405.5 292.0h.01M380.5 303.7h.01M408.0 296.3h.01M399.0 283.8h.01M379.1 305.3h.01M392.7 285.4h.01M400.5 311.4h.01M406.6 307.0h.01M395.3 284.2h.01M393.4 311.3h.01M410.1 305.1h.01M407.3 294.1h.01M383.6 295.0h.01M392.0 285.3h.01M380.8 304.6h.01M392.9 285.1h.01M390.9 310.2h.01M392.5 285.6h.01M401.1 285.6h.01M390.0 310.5h.01M402.1 282.2h.01M387.2 308.2h.01M408.8 296.5h.01M385.5 291.6h.01M396.6 283.6h.01M388.0 291.9h.01M408.3 293.2h.01M403.4 284.3h.01M408.5 301.3h.01M399.3 312.5h.01M389.2 310.6h.01M381.1 309.2h.01M389.3 310.6h.01M395.6 284.1h.01M395.9 310.8h.01M384.8 298.3h.01M405.3 283.8h.01M388.6 290.6h.01M390.9 310.3h.01M394.8 311.3h.01M391.7 309.4h.01M410.8 301.1h.01M404.6 284.2h.01M388.6 289.9h.01M408.1 295.0h.01M390.8 311.2h.01M394.9 285.1h.01M384.2 298.8h.01M409.1 301.0h.01M390.6 310.3h.01M399.7 287.2h.01M408.6 285.6h.01M410.2 304.6h.01M384.2 310.8h.01M404.6 309.1h.01M410.1 288.8h.01M394.7 311.5h.01M404.5 310.5h.01M386.7 292.6h.01M408.8 300.6h.01M397.6 312.6h.01M395.4 285.9h.01M395.5 310.8h.01M406.5 307.2h.01M385.5 295.3h.01M378.6 306.9h.01M381.3 304.4h.01M407.9 288.9h.01M406.2 284.8h.01M398.2 311.1h.01M406.3 294.4h.01M392.1 287.3h.01M394.9 312.1h.01M407.8 300.0h.01M404.6 308.8h.01M383.3 311.6h.01M400.3 310.7h.01M397.0 312.3h.01M382.8 309.2h.01M402.8 310.3h.01M409.7 304.6h.01M393.1 311.4h.01M378.7 310.7h.01M408.8 286.0h.01M409.6 303.2h.01M409.2 299.0h.01M403.8 309.6h.01M408.0 296.6h.01M408.0 291.1h.01M383.7 301.4h.01M392.6 310.5h.01M396.2 282.1h.01M385.6 296.5h.01M378.7 305.2h.01M388.2 289.8h.01M384.7 310.5h.01M383.8 310.5h.01M380.1 310.5h.01M407.5 297.5h.01M380.6 304.3h.01M391.6 285.8h.01M401.4 308.7h.01M409.2 299.8h.01M392.4 284.2h.01M382.1 299.7h.01M398.8 310.4h.01M409.1 288.8h.01M384.6 292.0h.01M379.3 306.7h.01M379.8 310.5h.01M387.9 308.7h.01M400.4 311.6h.01M388.1 310.7h.01M385.5 309.5h.01M402.0 283.8h.01M392.7 287.4h.01M397.9 311.8h.01M382.7 310.7h.01M398.5 310.4h.01M408.1 290.2h.01M393.7 286.6h.01M409.6 305.1h.01M409.1 298.7h.01M403.5 309.7h.01M385.9 308.5h.01M408.0 295.0h.01M405.4 308.7h.01M388.1 287.9h.01M385.7 300.3h.01M388.6 308.9h.01M404.3 283.4h.01M385.3 296.9h.01M378.0 305.3h.01M386.1 295.7h.01M382.0 302.2h.01M407.5 288.2h.01M405.7 285.9h.01M409.7 302.1h.01M399.8 285.9h.01M402.2 283.7h.01M408.4 288.6h.01M408.2 294.0h.01M378.7 307.2h.01M380.0 308.8h.01M396.7 284.0h.01M389.2 287.1h.01M380.5 311.6h.01M394.0 282.3h.01M406.0 283.6h.01M402.4 285.3h.01M384.1 299.4h.01M397.8 310.1h.01M408.3 282.8h.01M408.5 298.9h.01M385.2 292.7h.01M400.5 312.2h.01M409.9 302.1h.01M380.3 304.4h.01M376.3 308.4h.01M398.4 283.1h.01M380.3 310.4h.01M392.5 284.9h.01M409.2 298.6h.01M407.7 293.7h.01M409.5 306.0h.01M409.0 302.1h.01M380.4 304.6h.01M392.9 283.9h.01M393.5 284.8h.01M384.2 295.3h.01M407.7 298.4h.01M388.8 289.9h.01M383.5 301.7h.01M395.4 283.1h.01M380.4 303.8h.01M380.0 308.3h.01M404.4 310.5h.01M408.9 288.1h.01M398.1 282.8h.01M386.3 292.6h.01M380.5 305.3h.01M380.4 303.3h.01M407.7 285.0h.01M410.0 302.3h.01M391.6 310.9h.01M382.4 301.8h.01M409.1 286.6h.01M380.4 311.5h.01M384.3 296.9h.01M389.8 284.0h.01M400.1 284.7h.01M408.6 306.4h.01M401.9 286.5h.01M410.1 303.5h.01M383.3 302.6h.01M409.3 288.0h.01M407.0 306.1h.01M394.3 285.1h.01M379.4 303.0h.01M383.3 303.6h.01M376.7 308.4h.01M406.3 290.9h.01M381.0 303.8h.01M392.6 285.6h.01M409.2 287.8h.01M378.9 307.8h.01M406.2 306.9h.01M403.4 309.8h.01M409.8 303.0h.01M385.5 309.1h.01M385.7 309.1h.01M408.4 298.8h.01M382.3 304.8h.01M382.3 303.7h.01M406.5 308.7h.01M396.3 311.9h.01M406.4 294.8h.01M403.3 310.7h.01M406.1 305.5h.01M380.1 310.7h.01M405.6 308.2h.01M379.2 305.6h.01M383.5 304.2h.01M383.6 301.5h.01M393.3 308.7h.01M386.8 294.1h.01M402.2 284.6h.01M401.2 284.8h.01M383.0 297.4h.01M393.2 283.8h.01M401.7 285.4h.01M399.8 308.8h.01M377.7 312.2h.01M408.1 291.7h.01M407.8 304.7h.01M406.7 284.3h.01M403.3 309.8h.01M376.7 307.9h.01M392.0 308.1h.01M387.3 307.7h.01M409.0 303.8h.01M379.7 311.0h.01M409.5 299.4h.01M408.2 298.0h.01M407.0 284.4h.01M409.0 302.2h.01M408.2 305.8h.01M407.6 307.8h.01M377.3 306.3h.01M408.6 298.6h.01M407.3 308.7h.01M408.8 288.7h.01M407.9 290.8h.01M385.8 309.0h.01M406.1 307.6h.01M384.8 302.7h.01M408.0 289.5h.01M384.8 294.7h.01M408.2 290.5h.01M390.8 284.8h.01M390.2 310.2h.01M388.1 310.8h.01M386.4 310.2h.01M390.2 285.7h.01M387.4 292.6h.01M385.9 294.7h.01M395.3 283.5h.01M388.3 291.6h.01M408.3 303.0h.01M384.5 302.5h.01M408.4 294.7h.01M402.7 310.2h.01M395.7 284.7h.01M388.7 310.3h.01M402.2 283.7h.01M391.6 311.2h.01M385.9 296.6h.01M408.9 291.2h.01M403.6 311.8h.01M394.8 285.1h.01M400.4 310.9h.01M407.3 283.5h.01M401.7 283.3h.01M386.4 296.0h.01M405.1 308.7h.01M408.4 290.0h.01M386.8 295.3h.01M400.7 286.1h.01M407.7 293.0h.01M409.5 286.8h.01M394.4 309.9h.01M399.9 311.6h.01M409.3 286.3h.01M391.5 284.3h.01M388.0 309.4h.01M408.6 296.2h.01M401.5 311.3h.01M407.4 299.3h.01M402.5 309.8h.01M395.8 311.8h.01M395.1 310.5h.01M392.1 285.4h.01M379.2 310.1h.01M408.2 301.8h.01M400.9 283.6h.01M389.0 308.7h.01M406.6 291.5h.01M385.8 295.0h.01M385.8 296.8h.01M402.1 283.9h.01M392.8 309.1h.01M399.7 281.4h.01M384.6 302.5h.01M408.8 286.2h.01M382.5 303.3h.01M400.0 309.7h.01M408.6 293.7h.01M408.1 282.8h.01M391.9 309.7h.01M400.2 286.0h.01M408.3 301.9h.01M378.9 310.0h.01M378.0 310.3h.01M409.5 300.0h.01M407.5 288.0h.01M391.4 308.7h.01M383.0 300.8h.01M407.6 287.6h.01M408.0 291.0h.01M387.3 293.1h.01M410.0 303.4h.01M408.2 294.5h.01M409.4 305.2h.01M394.0 285.9h.01M408.0 284.5h.01M382.4 301.6h.01M386.4 292.3h.01" stroke="#ff4d27"/><path d="M395.1 302.6h.01M389.0 293.4h.01M387.9 288.1h.01M393.3 296.7h.01M395.9 309.3h.01M403.7 290.9h.01M385.0 303.3h.01M389.7 307.4h.01M406.6 308.7h.01M403.1 288.6h.01" stroke="#ff964f"/><path d="M388.1 296.4h.01M398.1 310.1h.01M398.0 301.5h.01M397.4 288.1h.01M404.7 295.4h.01M397.2 285.1h.01M407.7 294.6h.01M400.2 286.1h.01M393.2 297.4h.01M399.5 312.3h.01" stroke="#e6cd73"/><path d="M410.3 299.0h.01M408.6 300.7h.01M411.5 297.8h.01M409.1 296.4h.01M409.4 298.2h.01M411.1 297.8h.01M409.3 302.5h.01M410.6 300.8h.01M409.9 299.2h.01M409.9 298.2h.01M409.6 298.3h.01M410.0 301.8h.01M410.4 297.8h.01M410.7 300.5h.01M409.7 298.6h.01M411.2 298.6h.01" stroke="#e6cd73"/><path d="M406.7 296.1h.01M408.1 296.2h.01M408.2 295.8h.01M408.0 297.1h.01M406.9 293.6h.01M407.0 299.0h.01M406.9 294.4h.01M408.1 293.5h.01M407.2 298.3h.01M407.1 293.3h.01" stroke="#ff964f"/><path d="M380.0 278.2h.01M409.4 316.3h.01" stroke="#99fca6"/><path d="M383.9 278.1h.01M398.0 279.9h.01M385.5 281.7h.01M419.8 280.9h.01M422.9 286.1h.01M429.1 284.3h.01M429.5 286.7h.01M431.3 287.2h.01M427.0 291.1h.01M413.4 312.9h.01M401.7 314.0h.01M406.8 313.3h.01" stroke="#ff964f"/><path d="M394.5 278.9h.01M411.2 313.3h.01M419.4 316.2h.01M391.8 281.7h.01" stroke="#ff4d27"/><path d="M378.4 284.4h.01M377.1 291.3h.01M374.2 296.8h.01" stroke="#4e4dfc"/><path d="M372.9 286.9h.01M372.3 293.8h.01M389.6 318.0h.01" stroke="#18cde4"/><path d="M403.5 280.6h.01M418.5 300.1h.01" stroke="#67fcc2"/><path d="M336.8 432.9h.01M336.0 437.2h.01M341.5 434.2h.01M339.6 436.1h.01M340.9 433.3h.01M337.7 435.4h.01M335.8 438.9h.01M342.5 434.0h.01M341.2 433.1h.01M338.4 436.7h.01M339.6 436.7h.01M338.3 438.1h.01M335.4 440.0h.01M336.0 434.4h.01M335.2 437.8h.01M337.3 433.8h.01M338.1 436.2h.01M340.1 435.3h.01M342.7 434.5h.01M340.3 435.5h.01M337.0 435.1h.01M336.3 436.2h.01M342.0 435.3h.01M338.6 437.4h.01M333.8 438.8h.01M335.3 441.7h.01M340.8 431.7h.01M333.8 439.7h.01M336.8 433.5h.01M342.4 436.3h.01" stroke="#8000ff"/><path d="M344.9 430.6h.01M345.5 426.1h.01M344.3 428.6h.01M348.5 427.9h.01M342.1 430.6h.01M348.9 425.3h.01M349.4 427.2h.01M347.8 430.8h.01M348.6 429.9h.01M349.1 423.9h.01M352.2 426.0h.01M347.9 426.7h.01" stroke="#1996f3"/><path d="M352.5 426.2h.01M348.0 429.2h.01M349.1 427.1h.01M350.7 427.9h.01M347.9 430.9h.01M342.7 429.7h.01M343.1 432.5h.01M351.0 426.2h.01M346.9 430.3h.01M347.5 428.1h.01M352.9 428.1h.01M350.0 427.9h.01M352.7 424.8h.01M344.7 429.5h.01M354.6 424.6h.01M351.2 428.1h.01M352.2 426.9h.01M352.2 428.6h.01M351.4 425.9h.01M348.9 427.7h.01" stroke="#18cde4"/><path d="M354.7 426.9h.01M355.7 424.6h.01M352.1 425.8h.01M356.5 425.6h.01M356.7 424.1h.01M346.1 428.8h.01M350.9 427.4h.01M352.0 424.2h.01M351.7 426.5h.01M353.1 422.4h.01M353.9 424.7h.01M349.3 431.1h.01M347.6 426.8h.01M348.5 426.8h.01M353.7 424.3h.01M344.7 430.7h.01M350.1 424.4h.01M348.9 425.8h.01M345.3 428.7h.01M348.5 426.6h.01M349.0 424.7h.01M349.9 428.5h.01M356.0 424.9h.01M352.2 428.4h.01" stroke="#67fcc2"/><path d="M346.5 428.6h.01M342.6 432.1h.01M341.5 431.7h.01M342.9 430.6h.01M341.2 434.9h.01M343.4 430.7h.01M346.1 426.2h.01M346.9 432.0h.01M345.2 431.1h.01M342.9 430.3h.01M350.2 426.7h.01M346.7 430.5h.01M348.0 428.0h.01M349.1 428.5h.01M344.9 432.7h.01M350.2 427.6h.01" stroke="#ff964f"/><path d="M355.0 422.1h.01M354.7 422.5h.01M356.0 425.7h.01M353.3 426.0h.01M356.5 421.5h.01M353.6 425.8h.01M354.7 423.7h.01M351.6 426.8h.01M353.8 423.2h.01M355.4 424.0h.01" stroke="#ffb360"/><path d="M357.5 416.3h.01M362.7 419.8h.01M358.5 414.8h.01M357.9 413.8h.01M359.9 413.3h.01M360.0 413.8h.01M357.7 419.4h.01M357.8 418.6h.01M361.4 418.4h.01M360.2 417.9h.01M358.3 418.3h.01M359.6 417.0h.01M357.7 419.8h.01M359.0 414.8h.01M360.8 416.8h.01M357.7 416.1h.01M360.4 419.1h.01M358.9 414.4h.01M360.7 413.9h.01M358.2 417.6h.01M361.7 418.8h.01M358.7 418.9h.01M359.2 420.6h.01M360.2 417.8h.01M358.4 420.6h.01M357.6 415.9h.01M359.0 413.4h.01M358.0 416.8h.01M357.6 414.8h.01M363.0 417.5h.01M358.8 415.2h.01M362.0 418.9h.01M362.2 419.5h.01M356.3 415.7h.01M363.2 416.4h.01M358.4 416.4h.01M358.1 414.3h.01M357.9 416.4h.01M360.9 416.1h.01M359.0 414.4h.01M363.5 416.9h.01M357.8 418.6h.01M359.8 417.5h.01M362.0 415.7h.01M357.7 415.2h.01M360.7 420.8h.01M362.7 416.3h.01M359.4 416.5h.01M360.7 416.9h.01M361.9 418.2h.01M356.8 414.6h.01M359.0 414.0h.01M361.6 420.4h.01M361.5 416.4h.01M362.2 416.0h.01M358.4 420.5h.01M362.5 417.0h.01M361.4 417.4h.01M358.2 414.1h.01M357.2 415.0h.01" stroke="#ff4d27"/><path d="M357.4 422.3h.01M356.0 421.4h.01M358.7 419.5h.01M356.4 419.6h.01M358.8 421.3h.01M358.5 421.4h.01M358.7 421.7h.01M355.7 421.5h.01M357.8 418.6h.01M358.7 421.6h.01M358.9 420.2h.01M357.5 422.5h.01M356.0 420.6h.01M358.6 422.0h.01M356.5 420.7h.01M356.9 419.8h.01" stroke="#ff4d27"/><path d="M361.3 413.9h.01M361.1 413.3h.01M363.1 414.5h.01M360.2 414.1h.01M363.6 413.1h.01M361.7 412.6h.01M362.9 415.3h.01M362.9 414.6h.01M362.3 413.0h.01M364.1 413.8h.01M361.7 415.1h.01M361.6 414.9h.01M362.3 412.6h.01M361.3 415.2h.01" stroke="#ff4d27"/><path d="M351.0 430.7h.01" stroke="#8000ff"/><path d="M363.9 420.7h.01M355.6 416.9h.01" stroke="#ff4d27"/><path d="M358.6 440.9h.01M358.9 439.8h.01M360.6 439.9h.01M360.1 441.6h.01M359.3 441.5h.01" stroke="#1996f3"/><path d="M366.6 433.2h.01M370.4 434.9h.01M366.3 436.2h.01M365.8 435.2h.01M364.5 434.6h.01M362.6 438.7h.01M362.0 437.7h.01M365.0 435.3h.01M363.8 438.9h.01M364.4 436.4h.01M370.3 434.7h.01M367.1 437.7h.01M364.5 436.6h.01M367.2 435.4h.01M366.2 436.0h.01M364.4 436.7h.01" stroke="#18cde4"/><path d="M368.3 433.4h.01M365.8 434.4h.01M367.4 437.2h.01M366.2 438.0h.01M366.8 432.3h.01M369.8 434.9h.01M370.7 434.5h.01M369.2 437.6h.01M367.2 435.7h.01M364.1 436.6h.01M368.2 434.4h.01M370.3 434.9h.01M367.9 432.8h.01M368.7 435.5h.01M371.8 432.3h.01M367.3 434.4h.01M364.6 435.1h.01M367.0 435.5h.01M370.2 435.6h.01M368.9 435.7h.01M370.7 435.5h.01M366.4 432.7h.01" stroke="#67fcc2"/><path d="M371.6 430.3h.01M372.7 434.5h.01M374.0 430.4h.01M373.4 432.7h.01M375.7 428.7h.01M370.8 433.7h.01M372.0 431.6h.01M374.7 430.4h.01M376.3 428.2h.01M371.9 435.6h.01M371.3 434.9h.01M372.6 431.5h.01M375.1 428.4h.01M370.9 433.3h.01" stroke="#e6cd73"/><path d="M369.2 435.4h.01M370.1 434.6h.01M369.5 433.2h.01M369.2 434.0h.01M369.3 435.7h.01M370.3 434.9h.01M367.4 435.6h.01" stroke="#ffb360"/><path d="M302.7 504.1h.01M301.9 500.4h.01M303.6 504.5h.01M305.0 502.8h.01M300.0 501.4h.01M296.6 503.0h.01" stroke="#8000ff"/><path d="M306.0 499.3h.01M303.7 504.8h.01M300.1 499.4h.01M299.2 503.0h.01M298.5 502.6h.01M299.4 500.4h.01M306.2 501.4h.01M305.2 500.2h.01" stroke="#4e4dfc"/><path d="M304.8 497.3h.01M308.4 504.8h.01M302.1 499.4h.01M307.3 500.2h.01M301.5 499.4h.01M311.0 500.3h.01M301.5 504.0h.01M300.6 500.9h.01M304.1 502.4h.01M304.1 497.9h.01M304.2 504.2h.01M306.0 502.7h.01" stroke="#1996f3"/><path d="M310.7 502.6h.01M310.8 501.2h.01M306.7 500.7h.01M302.1 505.2h.01M307.7 505.9h.01M304.6 504.0h.01M311.7 501.4h.01M309.3 503.0h.01M308.9 503.5h.01M304.8 504.2h.01M304.0 500.9h.01M311.2 504.0h.01M311.9 505.5h.01M312.1 499.6h.01M308.2 501.5h.01M307.9 503.7h.01M309.6 501.6h.01M302.8 500.2h.01M308.4 507.4h.01M305.0 502.0h.01M311.7 504.7h.01M302.9 504.0h.01M305.0 502.9h.01M306.5 500.5h.01M309.0 502.4h.01M307.2 503.7h.01" stroke="#18cde4"/><path d="M315.5 503.5h.01M310.0 502.8h.01M310.2 505.5h.01M309.2 500.5h.01M307.5 505.1h.01M313.0 504.3h.01M313.7 501.1h.01M311.2 506.4h.01M311.4 502.8h.01M310.6 503.5h.01M307.5 502.2h.01M315.6 501.5h.01M307.0 505.0h.01M312.9 503.2h.01M312.5 500.7h.01M306.5 504.7h.01M312.7 502.3h.01M305.0 506.4h.01M312.9 501.7h.01M304.2 504.7h.01M313.2 498.8h.01M311.7 506.3h.01M302.9 503.9h.01M306.3 507.4h.01M306.4 503.1h.01M307.7 504.7h.01M307.6 504.5h.01M308.1 504.0h.01M309.9 503.4h.01M305.6 504.5h.01M309.0 505.1h.01M310.5 506.0h.01M316.0 504.8h.01M310.6 503.0h.01M307.9 507.9h.01M310.6 502.5h.01" stroke="#67fcc2"/><path d="M314.6 489.9h.01M319.4 490.0h.01M319.1 489.2h.01M314.5 488.1h.01M319.9 484.7h.01M320.0 488.5h.01M319.9 487.4h.01M318.7 491.5h.01M315.6 493.2h.01M314.6 490.9h.01" stroke="#18cde4"/><path d="M318.1 487.4h.01M317.2 486.0h.01M316.4 487.0h.01M314.3 489.9h.01M314.7 490.0h.01M316.3 487.7h.01M313.6 487.1h.01M318.4 488.5h.01M316.0 485.0h.01M316.7 487.5h.01" stroke="#67fcc2"/><path d="M313.1 480.0h.01M314.5 479.7h.01M318.1 484.2h.01M316.5 477.6h.01M313.4 478.4h.01M314.2 477.9h.01M316.4 480.3h.01M313.2 478.5h.01M316.0 487.1h.01M319.5 474.3h.01M316.5 481.8h.01M318.6 476.3h.01M316.1 479.9h.01M319.5 484.2h.01" stroke="#4e4dfc"/><path d="M317.1 469.5h.01M318.2 469.6h.01M319.3 472.0h.01M320.7 469.6h.01" stroke="#1996f3"/><path d="M314.8 486.1h.01M317.9 483.7h.01M319.5 483.9h.01M319.5 479.6h.01M320.3 486.6h.01M321.9 478.4h.01M324.5 483.0h.01M316.3 490.1h.01" stroke="#18cde4"/><path d="M323.2 471.6h.01M326.6 473.1h.01M322.2 470.2h.01M321.9 477.7h.01M325.9 471.1h.01M326.2 471.9h.01M323.1 470.5h.01M321.8 468.6h.01" stroke="#ff964f"/><path d="M326.9 480.0h.01M324.8 475.5h.01M326.8 475.4h.01M322.9 474.4h.01M323.9 473.0h.01M326.9 478.9h.01M324.1 481.6h.01M323.6 480.4h.01M323.7 476.2h.01M324.6 479.9h.01M325.3 480.2h.01M324.8 477.5h.01M323.1 476.1h.01M325.2 482.1h.01M323.4 477.1h.01M322.1 474.8h.01M326.1 474.5h.01M327.4 478.4h.01M324.4 472.8h.01M326.1 480.5h.01M323.5 478.9h.01M324.3 473.6h.01M323.7 479.1h.01M322.2 474.8h.01M323.1 472.4h.01M323.6 482.5h.01M322.9 474.1h.01M323.4 479.3h.01M326.7 481.5h.01M325.2 476.5h.01M324.7 474.5h.01M326.3 480.7h.01M326.6 481.3h.01M323.8 477.8h.01M322.6 478.0h.01M326.8 475.4h.01M323.4 482.5h.01M322.9 474.9h.01M322.9 477.5h.01M322.3 479.9h.01M325.9 477.9h.01M323.2 480.0h.01M326.9 478.6h.01M324.3 480.8h.01M324.3 476.4h.01M324.9 477.0h.01M322.5 479.4h.01M322.4 480.1h.01M326.1 476.3h.01M325.4 482.9h.01M326.5 476.0h.01M326.2 478.7h.01M321.7 480.0h.01M327.0 479.9h.01M324.9 472.4h.01M326.1 479.5h.01M321.8 476.6h.01M323.6 478.4h.01M324.3 473.3h.01M326.8 479.4h.01" stroke="#ff4d27"/><path d="M312.1 498.1 313.2 493.7 316.5 492.0 320.3 492.6 322.9 495.9 322.5 499.7 320.3 502.5 316.5 503.8 313.2 502.5Z" fill="#ff4d27" stroke="none"/><path d="M322.3 500.3h.01M322.4 499.0h.01M323.4 498.1h.01M312.1 494.5h.01M323.4 493.2h.01M321.4 494.7h.01M312.9 503.2h.01M311.6 500.8h.01M319.2 502.7h.01M318.1 490.6h.01M324.1 495.9h.01M316.9 492.4h.01M319.4 505.0h.01M323.9 499.3h.01M317.1 504.9h.01M319.5 491.7h.01M320.0 504.7h.01M316.2 491.3h.01M318.2 506.1h.01M319.2 504.9h.01M312.2 498.6h.01M312.7 495.6h.01M320.6 501.1h.01M313.5 493.9h.01M315.3 491.7h.01M314.7 491.9h.01M316.6 491.2h.01M321.4 491.4h.01M319.5 489.9h.01M315.2 504.7h.01M320.9 491.6h.01M320.1 503.8h.01M322.9 497.0h.01M319.9 492.4h.01M311.8 499.6h.01M312.3 492.5h.01M311.7 503.0h.01M311.9 496.4h.01M311.7 492.2h.01M312.2 494.2h.01M312.0 494.8h.01M316.3 490.2h.01M312.0 500.7h.01M315.5 489.9h.01M322.3 500.7h.01M311.3 495.8h.01M312.9 499.7h.01M318.7 489.9h.01M317.5 490.4h.01M321.2 494.4h.01M317.0 505.4h.01M320.2 504.7h.01M323.7 495.0h.01M311.3 500.4h.01M312.8 495.0h.01M318.4 504.4h.01M320.5 493.5h.01M320.0 503.1h.01M319.4 503.2h.01M311.6 496.2h.01M317.7 490.4h.01M324.2 495.4h.01M322.9 494.2h.01M311.2 501.0h.01M323.9 495.6h.01M314.4 499.4h.01M314.9 492.0h.01M315.2 491.0h.01M321.3 490.5h.01M315.2 504.8h.01M323.6 497.8h.01M320.6 491.0h.01M320.7 490.6h.01M312.6 502.7h.01M317.3 489.6h.01M319.5 505.0h.01M321.7 500.2h.01M325.2 494.9h.01M325.3 497.3h.01M316.7 503.5h.01M322.8 503.9h.01M319.1 491.9h.01M322.7 499.1h.01M321.4 491.7h.01M312.0 492.1h.01M313.6 505.2h.01M320.7 503.4h.01M316.2 505.9h.01M312.2 500.1h.01M312.7 502.7h.01M314.1 493.0h.01M318.4 491.2h.01M311.0 504.1h.01M310.7 503.4h.01M319.0 493.5h.01M312.2 501.4h.01M311.9 493.6h.01M325.1 498.5h.01M318.7 503.6h.01M313.6 500.8h.01M318.9 501.7h.01M317.1 504.9h.01M322.5 493.0h.01M311.6 504.4h.01M310.7 498.3h.01M321.5 494.1h.01M319.9 503.6h.01M320.4 493.8h.01M321.8 495.1h.01M310.8 498.4h.01" stroke="#ff4d27"/><path d="M316.5 489.7h.01M320.3 490.0h.01M317.8 489.3h.01M317.3 491.2h.01M318.3 491.9h.01M320.8 489.8h.01M321.0 489.8h.01M315.9 489.7h.01M316.9 490.3h.01M316.8 489.4h.01M317.5 490.9h.01M316.2 491.1h.01M316.9 489.8h.01M318.4 492.5h.01" stroke="#ff4d27"/><path d="M307.7 504.8h.01M309.3 503.8h.01M311.5 503.8h.01M311.6 502.4h.01M314.7 504.1h.01M312.8 506.6h.01" stroke="#ff964f"/><path d="M335.6 467.0h.01M327.6 498.5h.01M329.1 473.6h.01M325.0 501.2h.01" stroke="#ff4d27"/><path d="M321.1 462.6h.01M330.2 482.1h.01" stroke="#18cde4"/><path d="M313.0 479.0h.01M314.5 475.2h.01" stroke="#4e4dfc"/><path d="M326.8 469.8h.01M329.6 473.9h.01" stroke="#ff964f"/></g>
<g fill="none" stroke="#000" stroke-width="1.15" stroke-linejoin="round">
<path d="M240 326.4 243.3 326.7 248 327.1 253.3 326.7 258 326.4 260.7 324.4 263.3 323.5 266 325.3 267.3 328.7 266.7 332 268 334 266 336.7 266.7 338.7 273.3 339.1 279.3 338.9 282.7 340.7 284.7 342.9 286.7 341.3 290 341.6 292 344.7 295.3 346.4 298 346.9 299.3 350 299.3 352.7 302 354.7 304 353.3 305.3 351.3 306.7 349.3 310 350 314 349.6 317.3 350.7 321.3 351.1 324 352.7 323.3 354.9 320.7 355.7 325.3 356.3 325.3 350.7 327.3 348.3 332 347.3 335.3 348 338.7 350.4 340 346.7 345.3 344.7 349.3 343.7 353.3 342.4 356 340 359.3 342.7 362 340.7 364 336.7 363.3 334 364.7 332 360.7 331.3 356.7 332.7 357.3 330.9 361.3 328.7 364.7 326 366 322.7 367.3 318.7 365 322.8 367.9 317.7 370.9 316.6 374.5 316.9 376.7 316.2 379.7 314 382.2 311.1 382.6 307.4 384.8 305.2 388.5 304.5 390.7 304.8 392.9 303 395.1 302.3 395.8 304.8 397.3 304.5 396.9 300.8 397.3 297.1 398.4 294.2 400.2 292.7 400.3 290.5 401.7 293.5 403.1 291.3 404.6 289.8 407.5 289.2 409.7 288.7 410.1 290.2 411.6 290.5 411.9 288 415.6 286.1 416.3 284.7 417.8 283.9 419.3 284.3 421.5 283.2 423.7 281.4 425.9 280.3 428.8 279.5 434.6 281 438 278.7 442.7 276.7 448 275.7 453.3 274 458.7 272 462.7 270 465.3 267.3 470.7 264 473.3 260 476 256 478 250 480.7 246 484.7 243.3 490 240.4 491.3 236 492.7 230.7 496 226 502 222 508.7 218.3 514 215.6 520 215.3 523.3 217.1 527.3 217.3 531.3 219.1 538 220.7 542.7 222 544.7 226.7 548 228.7 550 224 554 225.7 558 228 561.3 230.4 562.7 232.7 566 235.1 569.3 236 572.7 238.7 576.7 242 579.3 244.7 582.7 244.7 586 248 590 251.3 590 252 592.7 254 595.1 252 592.9 249.7 594.7 248 598 250.7 602 252.9 604 255.3 605.3 253.7 610 255.6 614.7 258.3 618.7 262.7 622 268 624.4 273.3 625.7 279.3 626.7 284.7 626.7 291.3 628 296.7 628.9 302 629.3 307.3 631.3 312.7 634.7 317.3 637.7 320 640.3 324 641.7 328 644.3 332.7 645.7 338.7 646.1 345.3 645 352 643.7 356.7 641.7 360 641.3 363.3 643 366.7 645 367.3 646.3 365.3 651 364 656.3 365.3 660.3 367.7 663 370.7 662.3 374.7 661.7 378 659.4 379.3 663 382 669 383.3 673.7 385.3 677.7 388.7 678.3 390 679.7 393.3 683 396 685.7 398.7 687.7 403.3 691 405.3 693 409.3 693.7 412 691.7 414.7 687.7 414.7 685.7 416.7 686.3 420 689 421.7 691 423.1 693 422 694.3 418.7 697 417.3 701.7 418 706.3 418.7 711.7 420.9 717 423.6 722.3 427.3 726.3 431.3 729.7 436 732.3 441.3 733.7 444.7 736.3 448.7 739 452 740.3 455.3 743.7 454.7 747 456 753 460"/>
<path d="M501.7 445 501 440.3 499.7 436.3 502.3 435 505.7 432.3 507 429.7 503.7 427.7 505 425 501 423.7 499.7 421.7 503.7 419.7 505 416.3 507.7 414.3 509 410.3 510.3 407 513.7 404.3 516.3 401.7 519 399 523.7 397 529 395.4 534.3 393.7 537.7 391 540.3 387.7 545 386.3 549 387 551.7 389 554.3 391.9 557 389.7 558.3 385 559 380.3 557 377 556.3 373 557.7 369 557.7 365 559.7 361.7 562.3 358.3 565 358.3 567 361.7 567.7 366.3 568.3 371.7 568.3 378.3 567.7 385 567 390.3 566.3 395 568.3 398.3 571 402.3 572.3 407.7 572.3 414.3 571.7 421 572.3 427.7 573 435.7 573.7 445 573.7 440.3 571.7 447 570.3 452.3 567.7 457 565 461 563 463.7 562.3 469.7 562.3 476.3 562.6 483 561.7 488.3 560.3 492.3 557.7 495 554.3 497.7 555.7 500.3 558.3 498.3 557.7 501.7 555 505 553.7 509 552.3 512.3 550.3 515 547.7 517 545.7 519.7 543.7 518.3 541 515.7 538.3 513 535.7 511 531.7 509 527.7 507 523.7 505.7 521 503 518.3 500.3 517 497 519 494.3 523 492.3 526.3 489.7 523.7 488.3 519 487.7 515.7 485.7 511.7 485 509 483.7 512.3 481 511.7 478.3 515 476.3 516.3 473 517.7 469 516.3 466.3 512.3 465.9 509 467.7 505 467 503.7 463 507 461.7 510.3 460.3 513 453.7 511.7 450.3 508.3 447.7 505 445.7 502.3 442.3 501.7 438.3Z"/>
<path d="M489.8 656.9 489.8 652.5 489.1 650.7 487.3 649.4 488.5 648.2 491.6 647.6 494.7 646.3 496 643.2 495.3 639.5 494.1 635.2 494.7 630.9 495.3 626.5 493.5 623.4 490.4 621 487.9 619.1 489.1 615.4 488.5 611 486.7 606.7 484.2 603.6 483.6 600.5 481.7 597 481 594.3 478.3 595.7 475.7 597.7 473.7 593.7 471.7 597 470.3 593 472.3 589 473 585.7 469.7 582.3 472.3 579 473.7 574.3 475 569.7 477 566.3 475.7 563.7 473.7 562.3 474.3 559.7 476.3 559.7 477.7 563.7 479 567 482.3 569.7 487 571.7 492.3 573.3 498.3 573 503.7 571 508.3 567.7 512.3 565 517 563.7 521 561 523.7 557.7 526.3 553.7 530.3 550.3 533.7 546.3 537.7 543.7 541.7 541.7 544.3 539.7 545 536.3 546.3 533 549 531.4 551.7 533.7 553.7 537 557 537.7 560.3 538.3 563 541 565 545 567.7 546.3 569 543.7 571.7 542.3 574.3 545 573.7 549 571.7 551 571 553.7 574.3 553.7 577.7 555.7 581 556.7 578.3 558.3 575.7 559.9 574.3 563 570.3 564.3 575.7 565 579 566.3 581 569.7 583.7 571.7 585.7 571.7 583.7 575 582.3 578.3 584.3 582.3 586.3 587.7 587.6 590 588.8 593.7 591.3 597.4 593.8 601.8 593.1 606.1 591.3 610.4 588.8 614.1 586.3 616.6 583.2 620.3 580.8 624 578.9 628.4 578.9 632.7 580.1 637 582.6 640.8 585.1 644.5 585.7 648.2 584.5 652.5 584.5 656.9"/>
<path d="M613.3 381.3 615.3 378.7 618.7 378.3 621.3 380 624 378.7 625.3 376.4 627.3 377.3 629.3 378.7 632 378 634 375.3 636 372.4 638 374 638 378 636.7 381.3 635.3 383.3 637.3 385.3 637.3 388 634.7 388.7 633.1 386 632 383.3 629.3 382.7 628 384.4 625.3 384 623.3 385.3 620.7 386.7 617.3 386 614.7 384.4Z"/>
<path d="M591.3 356 592.4 352.7 594.4 351.6 595.7 353.3 594.9 356.7 592.7 358.7Z"/>
<path d="M609.6 400.7 611.3 399.3 611.6 397.3 612.7 397.3 612.7 399.3 613.7 401.3 612 402.7 610 402.3Z"/>
<path d="M669.7 421.3 671.7 420 673.7 423.3 674.3 426.7 672.3 427.3 670.3 424.7Z"/>
<path d="M475 557 476.3 553 478.3 551 479.7 548.3 481.7 545.7 484.3 546.3 485 549.7 483 551.7 480.3 552.3 479 555.7 477.7 557.7Z"/>
<path d="M560.3 535 562.3 531 564.3 530.3 565 533 567 532.3 568.3 535 567.7 538.3 565.7 536.3 563.7 537Z"/>
<path d="M325.3 358.7 328.7 357.3 331.7 357.1 332.3 358.7 329.3 361.1 327.3 360.7Z"/>
<path d="M345.3 357.6 347.3 355.3 350.7 354 351.5 354.9 348.7 357.6 346.3 359.3Z"/>
<circle cx="628.5" cy="425.7" r="1.4"/>
<circle cx="628.6" cy="425.7" r="1.4"/>
<path d="M241.5 319.3h3.2" stroke-width="1.2"/>
<path d="M305.3 348l3.5 -.7l-2 2.5l3.2 1.8l-4 -.5" stroke-width="1.3"/>
</g>
<g fill="#ffff00" stroke="#1e8a1e" stroke-width="1.0" stroke-linejoin="miter">
<path d="M559.4 355 560.55 358.32 564.06 358.39 561.25 360.5 562.28 363.86 559.4 361.85 556.52 363.86 557.55 360.5 554.74 358.39 558.25 358.32Z"/>
<path d="M512.3 397.1 513.45 400.42 516.96 400.49 514.15 402.6 515.18 405.96 512.3 403.95 509.42 405.96 510.45 402.6 507.64 400.49 511.15 400.42Z"/>
<path d="M534.3 400.1 535.45 403.42 538.96 403.49 536.15 405.6 537.18 408.96 534.3 406.95 531.42 408.96 532.45 405.6 529.64 403.49 533.15 403.42Z"/>
<path d="M568.3 395.1 569.45 398.42 572.96 398.49 570.15 400.6 571.18 403.96 568.3 401.95 565.42 403.96 566.45 400.6 563.64 398.49 567.15 398.42Z"/>
<path d="M557.4 410.1 558.55 413.42 562.06 413.49 559.25 415.6 560.28 418.96 557.4 416.95 554.52 418.96 555.55 415.6 552.74 413.49 556.25 413.42Z"/>
<path d="M540.3 420.8 541.45 424.12 544.96 424.19 542.15 426.3 543.18 429.66 540.3 427.65 537.42 429.66 538.45 426.3 535.64 424.19 539.15 424.12Z"/>
<path d="M508.3 431.3 509.45 434.62 512.96 434.69 510.15 436.8 511.18 440.16 508.3 438.15 505.42 440.16 506.45 436.8 503.64 434.69 507.15 434.62Z"/>
<path d="M573.4 442.4 574.55 445.72 578.06 445.79 575.25 447.9 576.28 451.26 573.4 449.25 570.52 451.26 571.55 447.9 568.74 445.79 572.25 445.72Z"/>
<path d="M537.4 450.1 538.55 453.42 542.06 453.49 539.25 455.6 540.28 458.96 537.4 456.95 534.52 458.96 535.55 455.6 532.74 453.49 536.25 453.42Z"/>
<path d="M510.3 453.1 511.45 456.42 514.96 456.49 512.15 458.6 513.18 461.96 510.3 459.95 507.42 461.96 508.45 458.6 505.64 456.49 509.15 456.42Z"/>
<path d="M546.3 468.4 547.45 471.72 550.96 471.79 548.15 473.9 549.18 477.26 546.3 475.25 543.42 477.26 544.45 473.9 541.64 471.79 545.15 471.72Z"/>
<path d="M546.3 515.4 547.45 518.72 550.96 518.79 548.15 520.9 549.18 524.26 546.3 522.25 543.42 524.26 544.45 520.9 541.64 518.79 545.15 518.72Z"/>
</g>
</g>
<g stroke="#6e6e6e" stroke-width="1">
<path d="M242 87.6H752M242 122.4H752"/>
<path d="M789.6 158V652M825.6 158V652"/>
</g>
<g clip-path="url(#ct)"><g fill="none" stroke-width="2.25" stroke-linecap="round"><path d="M301.3 97.7h.01M301.9 103.5h.01M298.7 92.0h.01M304.8 90.4h.01M300.0 79.6h.01M304.0 99.2h.01M307.6 94.9h.01M300.4 92.3h.01M307.6 89.3h.01M303.3 93.3h.01M299.8 99.2h.01M307.5 98.3h.01M297.4 92.3h.01M305.0 91.3h.01M302.6 97.6h.01M302.4 88.4h.01M303.5 84.5h.01M299.0 84.6h.01M302.5 89.6h.01M300.4 108.2h.01M306.3 101.5h.01M306.5 88.4h.01M301.0 101.6h.01M305.4 106.1h.01M300.0 105.5h.01M301.5 89.2h.01" stroke="#8000ff"/><path d="M306.0 93.1h.01M298.1 102.5h.01M302.9 91.5h.01M306.1 104.1h.01M307.6 83.7h.01M304.2 87.8h.01M302.5 104.8h.01M305.9 88.5h.01M304.6 82.8h.01M301.3 86.7h.01M305.4 90.5h.01M304.6 87.8h.01M298.0 89.3h.01M302.6 85.5h.01M307.8 86.1h.01M298.7 85.6h.01M302.5 102.0h.01M306.2 105.3h.01M299.4 96.7h.01M308.4 101.7h.01M303.9 94.1h.01M303.3 102.4h.01M306.9 93.4h.01M307.4 88.0h.01M306.5 102.3h.01M302.7 95.4h.01M310.5 104.9h.01M302.7 86.8h.01M304.6 98.7h.01M303.2 91.4h.01" stroke="#4e4dfc"/><path d="M305.0 88.4h.01M308.2 77.2h.01M307.4 82.8h.01M306.8 90.1h.01M306.9 85.1h.01M308.1 78.6h.01M308.4 99.0h.01M307.3 87.3h.01M310.3 85.2h.01M309.0 106.5h.01M308.5 91.7h.01M304.3 90.5h.01M308.5 115.9h.01M305.1 100.4h.01M306.7 93.2h.01M307.6 76.5h.01M311.6 88.4h.01M308.2 96.5h.01M306.6 110.4h.01M309.5 90.7h.01M307.6 92.1h.01M309.9 98.4h.01M308.5 96.2h.01M306.9 94.2h.01M306.8 87.2h.01M306.9 100.4h.01M308.8 100.7h.01M307.5 94.1h.01M308.6 94.0h.01M308.1 109.0h.01M307.6 75.9h.01M307.8 75.5h.01M306.3 100.4h.01M307.8 85.9h.01M309.8 105.7h.01M308.7 82.3h.01M308.9 88.3h.01M310.7 88.5h.01M306.2 80.8h.01M308.4 111.9h.01" stroke="#1996f3"/><path d="M309.4 87.5h.01M311.8 88.7h.01M309.9 102.7h.01M310.5 97.8h.01M307.3 86.2h.01M310.5 86.7h.01M310.2 91.9h.01M309.2 87.7h.01M308.4 93.2h.01M310.5 87.8h.01M307.3 98.5h.01M308.3 90.3h.01M308.8 84.3h.01M308.9 95.6h.01M310.9 98.0h.01M309.2 101.4h.01M310.1 97.9h.01M311.2 94.4h.01M308.1 97.4h.01M307.8 91.7h.01M309.8 78.6h.01M309.5 97.2h.01M312.8 93.6h.01M311.8 94.0h.01M308.9 93.3h.01M309.8 81.3h.01M306.5 96.4h.01M306.6 92.1h.01M310.4 104.8h.01M310.2 89.1h.01M309.6 76.6h.01M312.2 85.9h.01M311.4 96.4h.01M309.9 82.1h.01M308.1 98.7h.01M308.6 91.9h.01M309.3 94.1h.01M307.9 99.5h.01M307.3 89.1h.01M311.3 99.5h.01M309.4 108.3h.01M306.5 93.1h.01M307.7 83.2h.01M308.1 89.3h.01M309.5 103.5h.01M308.8 104.0h.01M307.9 84.6h.01M309.8 96.5h.01M312.1 103.9h.01M311.8 98.5h.01M311.0 97.5h.01M311.1 81.6h.01M307.8 95.0h.01M308.5 79.6h.01M309.5 108.2h.01M308.5 97.0h.01M308.8 91.8h.01M310.3 91.0h.01M308.0 94.1h.01M309.8 87.5h.01M307.6 94.9h.01M310.9 96.9h.01M310.2 82.3h.01M306.2 96.2h.01M307.9 77.6h.01M309.1 87.8h.01M308.1 96.1h.01M308.1 92.1h.01M306.5 88.4h.01M311.7 77.7h.01M308.6 108.3h.01M309.4 76.3h.01M308.7 100.1h.01M308.6 81.8h.01M306.8 77.2h.01M312.0 93.0h.01M310.3 97.1h.01M311.9 94.3h.01M309.3 101.5h.01M312.8 89.4h.01" stroke="#18cde4"/><path d="M309.2 102.1h.01M309.7 96.8h.01M308.6 89.3h.01M309.3 90.4h.01M309.7 94.1h.01M310.4 75.9h.01M307.5 83.8h.01M310.9 92.3h.01M312.3 88.6h.01M310.7 88.9h.01M306.8 101.6h.01M311.4 99.1h.01M311.1 107.3h.01M313.7 87.9h.01M308.6 90.3h.01M311.2 84.8h.01M311.3 106.4h.01M308.0 86.8h.01M308.9 79.8h.01M309.4 89.0h.01M310.5 94.2h.01M311.4 96.0h.01M311.2 90.2h.01M308.6 91.6h.01M308.9 103.6h.01M309.5 99.3h.01M312.8 86.4h.01M307.8 78.8h.01M307.2 76.9h.01M311.4 102.3h.01M308.4 101.7h.01M310.3 93.1h.01M307.9 100.0h.01M311.7 71.9h.01M312.9 106.3h.01M308.6 81.5h.01M306.6 95.8h.01M309.9 81.6h.01M311.1 82.3h.01M312.8 86.2h.01M312.1 96.2h.01M309.1 97.7h.01M311.4 94.3h.01M307.9 78.8h.01M310.8 91.6h.01M311.1 87.6h.01M312.3 95.8h.01M311.7 105.1h.01M311.2 81.6h.01M311.8 109.4h.01M310.0 92.4h.01M312.0 84.9h.01M310.2 94.5h.01M311.8 83.5h.01M306.9 91.7h.01M311.1 90.2h.01M311.5 95.2h.01M308.5 98.9h.01M311.4 104.3h.01M310.7 98.1h.01M311.7 94.2h.01M310.9 105.3h.01M309.5 93.7h.01M309.5 72.3h.01M307.4 77.9h.01M308.2 84.8h.01M311.7 99.0h.01M309.5 96.5h.01M308.9 76.6h.01M309.7 99.2h.01M308.3 91.2h.01M313.9 87.7h.01M309.2 92.8h.01M311.5 91.2h.01M309.7 82.9h.01M308.8 97.1h.01M307.8 86.1h.01M312.4 82.9h.01M310.8 96.3h.01M310.9 103.5h.01M311.3 77.5h.01M310.1 84.4h.01M309.1 93.8h.01M310.0 96.6h.01M309.3 93.9h.01M311.0 72.5h.01M306.3 102.5h.01M310.5 90.5h.01M308.4 82.0h.01M312.0 105.2h.01M310.9 102.5h.01M309.5 87.5h.01M312.3 95.8h.01M311.6 88.4h.01M309.8 89.7h.01M312.4 84.0h.01M309.4 94.2h.01M308.2 79.9h.01M310.5 79.1h.01M310.5 84.7h.01M311.6 86.2h.01M311.2 96.3h.01M308.8 88.0h.01M310.8 92.6h.01M310.7 95.4h.01M307.7 75.6h.01M310.0 97.4h.01M311.5 105.2h.01M312.2 109.8h.01M311.2 86.4h.01M311.8 88.1h.01M312.5 96.2h.01M307.1 84.6h.01M309.4 98.4h.01M311.4 86.1h.01M312.1 99.6h.01M311.3 78.9h.01M311.3 98.2h.01M309.2 95.5h.01M307.5 84.7h.01" stroke="#67fcc2"/><path d="M318.0 66.7h.01M316.5 62.4h.01M316.4 68.1h.01M316.2 65.8h.01M315.1 68.2h.01M317.4 59.5h.01M318.8 65.5h.01M318.7 62.0h.01M315.8 59.5h.01M315.0 66.6h.01M318.4 70.1h.01M314.4 67.1h.01M317.2 74.3h.01M317.4 63.5h.01M316.4 69.3h.01M319.5 58.1h.01M315.0 63.5h.01M316.7 66.8h.01" stroke="#18cde4"/><path d="M318.0 64.5h.01M315.6 65.9h.01M316.4 64.7h.01M315.2 65.6h.01M319.5 60.3h.01M318.3 59.6h.01M318.7 65.9h.01M320.4 68.8h.01M320.3 69.2h.01M315.8 60.3h.01M319.3 65.4h.01M318.1 68.7h.01M318.9 61.0h.01M318.2 63.7h.01M316.3 68.0h.01M319.2 70.9h.01M315.5 69.5h.01M317.3 68.4h.01M318.3 74.4h.01M317.1 70.3h.01M317.3 66.3h.01M315.0 68.2h.01M317.8 57.8h.01M314.1 71.0h.01M316.3 58.6h.01M316.8 69.4h.01M317.9 66.9h.01M317.4 73.9h.01M319.1 62.7h.01M318.0 64.9h.01" stroke="#67fcc2"/><path d="M320.4 65.0h.01M320.2 69.4h.01M317.2 65.5h.01M320.8 73.5h.01M318.3 57.2h.01M319.3 63.7h.01M318.3 62.0h.01M318.2 69.0h.01M318.2 63.7h.01M316.9 74.0h.01M318.0 72.5h.01M320.8 65.2h.01M317.5 61.0h.01M320.4 69.6h.01M320.0 62.0h.01M319.3 63.2h.01M318.8 72.8h.01M321.5 75.6h.01" stroke="#ff964f"/><path d="M321.7 65.5h.01M318.2 70.4h.01M319.0 63.4h.01M317.9 71.6h.01M317.8 63.4h.01M317.9 69.1h.01M321.2 72.5h.01M320.2 70.6h.01M319.2 66.5h.01M317.3 67.7h.01M318.6 71.2h.01M319.6 70.5h.01M318.8 63.3h.01M318.1 67.0h.01M318.2 67.7h.01M318.1 72.5h.01M317.9 65.8h.01M318.1 68.3h.01M317.1 71.3h.01M319.4 69.0h.01M317.6 68.4h.01M320.0 68.1h.01M320.7 72.6h.01M320.6 72.1h.01M318.6 65.7h.01M319.4 66.3h.01M320.9 70.2h.01M318.4 67.4h.01M318.0 68.5h.01M319.4 74.0h.01" stroke="#ff4d27"/><path d="M314.2 79.4 317.5 78.0 321.7 78.6 322.4 85.0 321.7 91.8 321.3 96.9 323.5 100.3 326.0 102.0 326.4 110.6 324.7 113.0 320.9 111.9 316.6 110.6 313.2 109.7 312.8 102.0 313.2 93.5 314.2 86.7Z" fill="#ff4d27" stroke="none"/><path d="M314.4 88.5h.01M313.6 97.8h.01M327.4 112.1h.01M312.6 92.1h.01M314.0 80.1h.01M322.5 94.4h.01M311.4 104.2h.01M313.4 85.9h.01M312.3 112.5h.01M317.3 75.7h.01M315.3 79.5h.01M322.0 78.5h.01M312.1 109.6h.01M312.4 93.1h.01M312.9 96.1h.01M321.9 96.3h.01M322.8 78.9h.01M327.1 103.5h.01M312.9 78.2h.01M324.9 107.8h.01M317.3 76.4h.01M326.5 109.9h.01M322.7 74.7h.01M322.1 88.4h.01M326.4 114.6h.01M322.6 78.0h.01M321.9 97.2h.01M326.8 104.8h.01M321.0 95.6h.01M321.2 89.2h.01M313.0 99.2h.01M322.8 116.3h.01M315.5 76.7h.01M321.2 90.3h.01M312.4 105.4h.01M321.9 90.3h.01M322.4 78.1h.01M327.6 113.1h.01M313.0 107.4h.01M322.4 82.0h.01M311.9 100.8h.01M319.4 111.2h.01M314.3 83.4h.01M314.4 78.4h.01M321.0 112.9h.01M312.5 93.9h.01M323.5 85.9h.01M322.6 88.8h.01M324.4 101.8h.01M312.9 76.5h.01M321.9 98.4h.01M313.9 78.6h.01M321.2 94.9h.01M315.3 112.9h.01M321.9 83.6h.01M312.5 75.5h.01M313.3 99.9h.01M312.7 106.7h.01M312.2 104.3h.01M312.6 105.1h.01M313.1 78.9h.01M322.2 84.8h.01M312.2 99.8h.01M321.1 91.1h.01M312.6 89.5h.01M321.2 90.7h.01M323.6 113.9h.01M322.5 98.4h.01M313.7 80.9h.01M321.0 97.8h.01M323.2 90.1h.01M321.2 96.2h.01M318.9 76.8h.01M313.0 91.9h.01M312.0 103.6h.01M313.8 107.0h.01M327.8 102.0h.01M313.4 107.1h.01M318.6 115.4h.01M312.4 90.7h.01M315.2 111.0h.01M313.0 87.9h.01M327.3 112.8h.01M313.1 78.6h.01M314.7 85.7h.01M311.7 93.4h.01M322.4 80.6h.01M315.9 112.1h.01M318.1 78.2h.01M313.2 88.7h.01M312.7 99.3h.01M312.8 89.5h.01M322.8 78.9h.01M321.9 82.1h.01M323.5 81.1h.01M312.8 91.6h.01M322.8 87.9h.01M327.7 105.4h.01M323.7 97.1h.01M311.2 104.6h.01M311.7 94.9h.01M313.6 78.5h.01M325.2 106.1h.01M323.2 90.6h.01M319.3 76.5h.01M326.2 107.4h.01M322.2 77.0h.01M312.2 107.2h.01M322.5 88.2h.01M311.6 89.6h.01M311.8 102.2h.01M321.7 93.8h.01M316.4 111.3h.01M322.4 90.8h.01M327.7 112.8h.01M322.6 92.1h.01M321.1 95.6h.01M312.4 83.8h.01M313.7 99.1h.01M314.2 97.4h.01M323.2 80.7h.01M321.5 79.9h.01M311.7 97.9h.01M327.7 104.0h.01M321.6 83.4h.01M313.7 94.2h.01M320.6 114.6h.01M312.3 114.2h.01M315.5 77.8h.01M313.9 99.5h.01M322.0 78.3h.01M323.5 83.7h.01M317.2 74.3h.01M321.9 114.1h.01M313.0 80.5h.01M321.1 96.6h.01M325.8 102.4h.01M323.8 88.4h.01M328.2 111.9h.01M316.7 75.4h.01M313.2 85.6h.01M312.1 87.6h.01M311.7 111.3h.01M315.1 84.0h.01M320.8 112.6h.01M312.2 109.4h.01M319.8 76.3h.01M324.4 99.9h.01M327.3 110.9h.01M310.6 108.9h.01M321.6 78.1h.01M318.4 73.9h.01M313.8 84.5h.01M325.0 112.3h.01M311.3 106.2h.01M322.2 96.0h.01M321.7 90.3h.01M321.0 78.0h.01M322.5 89.4h.01M321.4 91.7h.01M314.7 78.8h.01M318.7 112.5h.01M314.1 78.8h.01M312.2 106.5h.01M324.9 101.4h.01M318.1 113.3h.01M319.0 114.9h.01M321.8 94.5h.01M323.1 81.9h.01M322.5 79.2h.01M326.8 103.4h.01M315.4 75.0h.01M314.2 76.5h.01M324.0 86.9h.01M326.8 110.2h.01M311.5 111.7h.01M312.3 100.2h.01M311.6 95.1h.01M320.7 76.6h.01M312.2 88.3h.01M321.8 99.7h.01M322.2 82.3h.01M327.6 103.2h.01M327.3 112.0h.01M319.0 113.0h.01M315.7 78.4h.01M313.5 96.2h.01M322.4 98.4h.01M321.8 114.0h.01M315.7 75.1h.01M322.1 90.8h.01M312.5 106.7h.01M313.6 110.9h.01M313.3 87.6h.01M310.8 104.8h.01M323.6 83.7h.01M312.9 105.7h.01M323.0 86.3h.01M323.2 87.0h.01M313.3 109.7h.01M318.3 77.5h.01M325.1 101.2h.01M323.9 100.1h.01M322.4 99.4h.01M326.5 106.1h.01M325.7 100.7h.01M312.9 102.7h.01M313.1 110.6h.01M321.1 98.9h.01M315.7 112.5h.01M321.0 79.6h.01M321.8 93.0h.01M317.2 76.2h.01M326.6 105.1h.01M319.8 111.5h.01M313.4 91.3h.01M315.3 78.0h.01M327.6 110.7h.01M314.7 84.3h.01M322.7 82.9h.01M322.9 81.3h.01M323.6 85.2h.01M320.7 95.5h.01M323.0 101.3h.01M315.5 78.0h.01M321.7 93.8h.01M312.3 109.4h.01M321.6 96.8h.01M323.0 75.5h.01M322.1 94.7h.01M321.4 78.4h.01M325.9 116.2h.01M323.1 99.9h.01M320.9 115.0h.01M311.2 101.5h.01M327.4 111.5h.01M325.9 112.2h.01M322.5 94.3h.01M326.5 102.7h.01M318.5 113.0h.01M312.9 95.2h.01M313.1 91.5h.01M311.7 96.9h.01M322.3 82.6h.01M314.3 84.8h.01M312.8 112.5h.01M317.4 77.9h.01M312.9 90.8h.01M314.8 78.9h.01M318.5 110.4h.01M312.7 92.2h.01M326.1 111.3h.01M313.0 86.0h.01M322.7 89.1h.01M315.2 84.5h.01M321.6 88.7h.01M312.9 110.1h.01M326.2 102.7h.01M312.2 100.6h.01M326.5 109.8h.01M320.5 83.2h.01M325.6 111.3h.01M314.6 79.4h.01M310.7 103.0h.01M311.3 106.6h.01M327.5 115.6h.01M325.5 102.5h.01M312.9 94.6h.01M322.5 84.8h.01M312.0 88.6h.01M311.2 112.4h.01M313.6 103.0h.01M317.3 111.9h.01M316.2 79.2h.01M313.5 83.8h.01M315.8 78.6h.01M327.4 105.4h.01M325.6 113.1h.01M323.6 79.4h.01M312.3 85.8h.01M313.2 98.3h.01M313.1 103.5h.01M311.0 106.2h.01M324.1 112.8h.01M311.5 101.3h.01M322.6 100.3h.01M315.4 111.5h.01M321.8 90.4h.01M320.7 95.8h.01M326.4 108.1h.01M312.5 110.2h.01M312.2 107.7h.01M314.3 79.2h.01M319.3 79.0h.01M322.8 93.3h.01M312.6 91.7h.01M321.5 90.5h.01M320.7 78.4h.01M322.7 81.8h.01M323.2 82.8h.01M322.2 85.3h.01M312.5 112.3h.01M320.2 78.8h.01M325.0 100.8h.01M322.1 89.1h.01M312.7 109.2h.01M327.2 114.5h.01M311.2 104.9h.01M324.3 99.1h.01M328.1 112.6h.01M327.8 109.0h.01M312.4 99.3h.01M314.0 81.4h.01M315.7 110.4h.01M323.2 84.7h.01M320.6 114.8h.01M328.7 110.6h.01M313.1 99.8h.01M314.1 96.0h.01M320.6 112.0h.01M318.7 77.9h.01M313.6 77.2h.01M325.0 101.5h.01M328.0 108.1h.01M317.9 74.9h.01M312.9 80.5h.01M326.6 108.7h.01M312.7 105.3h.01M326.0 115.8h.01M314.5 78.7h.01M314.2 78.7h.01M322.3 82.7h.01M327.4 104.6h.01M311.6 105.3h.01M314.2 77.5h.01M312.1 110.7h.01M312.0 96.8h.01M327.5 111.3h.01M325.1 101.2h.01M313.3 111.4h.01M327.9 110.2h.01M327.3 109.9h.01M323.4 83.9h.01M315.8 75.6h.01M314.5 84.5h.01M317.0 79.0h.01M324.8 114.1h.01M314.7 73.3h.01M316.2 74.8h.01M321.9 77.7h.01M322.7 85.4h.01M321.8 83.3h.01M314.6 84.8h.01M312.3 112.8h.01M317.1 113.1h.01M321.5 73.6h.01M313.0 97.3h.01M312.9 105.8h.01M314.3 80.5h.01M313.2 88.2h.01M313.2 95.0h.01M316.7 112.6h.01M320.1 110.5h.01M328.2 109.8h.01M313.1 85.7h.01M321.4 93.8h.01M321.5 80.0h.01M312.1 96.9h.01M327.6 110.6h.01M319.8 77.8h.01M314.0 111.8h.01M313.1 92.0h.01M319.5 75.1h.01M313.2 78.9h.01M321.1 92.1h.01M312.8 95.7h.01M311.9 101.3h.01M322.2 77.9h.01M311.5 107.0h.01M327.3 110.4h.01M322.2 80.6h.01M323.5 116.6h.01M312.6 112.6h.01M321.0 94.5h.01M322.0 77.1h.01M322.0 90.0h.01M320.9 90.1h.01M311.8 94.9h.01M312.2 89.8h.01M315.4 113.5h.01M312.0 108.9h.01M313.9 79.9h.01M321.8 92.6h.01M322.0 87.8h.01M314.0 85.7h.01M314.1 79.6h.01M321.6 95.2h.01M312.3 97.0h.01M321.8 97.1h.01M313.1 111.8h.01M323.0 86.1h.01M313.1 75.7h.01M327.3 102.4h.01M326.2 106.5h.01M313.5 106.7h.01M322.0 80.3h.01M313.1 85.6h.01M322.9 75.3h.01M323.3 85.6h.01M324.7 113.6h.01M313.0 84.7h.01M312.2 88.7h.01M311.4 96.7h.01M314.7 88.5h.01M312.3 109.0h.01M321.9 94.7h.01M327.0 114.5h.01M323.2 81.1h.01M321.7 97.3h.01M312.9 92.3h.01" stroke="#ff4d27"/><path d="M319.2 89.3h.01M313.4 82.6h.01M311.7 106.6h.01M326.2 111.6h.01" stroke="#67fcc2"/><path d="M316.0 76.4h.01M324.6 110.4h.01M322.5 99.7h.01M314.6 84.0h.01" stroke="#ff964f"/><path d="M320.7 74.8h.01M327.0 115.2h.01M316.4 109.5h.01M312.1 103.4h.01" stroke="#e6cd73"/><path d="M326.9 108.0h.01M326.5 104.7h.01M327.8 113.0h.01M327.8 106.4h.01M325.0 106.8h.01M325.7 106.4h.01M327.2 109.7h.01M324.5 105.8h.01M325.0 103.7h.01M328.2 103.5h.01M328.2 108.2h.01M325.7 102.1h.01" stroke="#ff964f"/><path d="M321.6 73.8h.01M323.1 83.0h.01M323.3 89.1h.01M323.3 89.4h.01M322.8 77.3h.01M323.3 102.7h.01M325.2 99.8h.01M323.4 84.9h.01M324.4 71.1h.01M323.7 81.3h.01M323.9 93.5h.01M324.0 83.7h.01" stroke="#ff964f"/><path d="M327.7 72.7h.01M326.1 90.0h.01M327.1 91.1h.01M329.8 112.4h.01" stroke="#ff964f"/><path d="M335.1 119.9h.01" stroke="#ff4d27"/><path d="M289.3 95.7h.01M330.3 92.5h.01" stroke="#18cde4"/><path d="M300.5 92.5h.01M302.6 80.9h.01" stroke="#4e4dfc"/><path d="M303.7 81.1h.01M299.4 105.3h.01" stroke="#8000ff"/><path d="M317.0 58.5h.01" stroke="#67fcc2"/><path d="M321.8 55.3h.01M309.9 59.8h.01" stroke="#4e4dfc"/><path d="M336.9 80.9h.01M339.1 85.1h.01M338.7 87.5h.01M337.9 82.8h.01M336.6 92.3h.01M338.6 86.2h.01M337.5 89.8h.01M336.7 84.2h.01M338.4 89.3h.01M338.4 82.5h.01M339.3 89.9h.01M338.8 85.3h.01M338.3 87.7h.01M338.9 84.0h.01M337.1 92.8h.01M339.3 82.8h.01M338.5 86.5h.01M337.8 86.7h.01M336.8 81.2h.01M336.1 87.1h.01M336.4 87.9h.01M337.1 85.6h.01M337.9 84.5h.01M338.5 87.3h.01M337.5 85.2h.01M338.6 86.7h.01M336.7 86.4h.01M337.9 88.4h.01M337.3 88.8h.01M339.1 86.2h.01M337.4 88.8h.01M338.1 80.1h.01M339.6 85.5h.01M339.8 85.0h.01M337.5 86.1h.01M338.1 84.9h.01M338.6 86.5h.01M339.1 84.0h.01M339.2 80.7h.01M337.5 85.1h.01M339.1 92.0h.01M338.8 85.5h.01M339.0 83.8h.01M337.6 82.0h.01M336.7 86.5h.01M338.4 89.9h.01M338.0 82.6h.01M337.1 88.2h.01M338.8 87.7h.01M336.9 78.5h.01M338.2 84.9h.01M338.4 83.8h.01M339.0 85.1h.01M337.8 89.1h.01M338.5 87.9h.01M338.9 87.7h.01M337.0 85.9h.01M339.7 88.1h.01M337.3 88.3h.01M336.5 85.2h.01" stroke="#8000ff"/><path d="M339.0 61.0h.01M341.5 64.5h.01M336.5 74.0h.01M342.0 75.0h.01M348.3 83.8h.01M337.0 98.5h.01M339.5 99.0h.01M336.0 104.0h.01M338.5 103.5h.01M340.5 106.5h.01M335.0 110.0h.01M333.5 90.5h.01M340.0 92.0h.01M341.0 92.5h.01" stroke="#8000ff"/><path d="M345.0 106.6h.01M346.3 108.0h.01M343.0 109.0h.01M345.3 109.1h.01M344.3 109.2h.01M344.2 104.9h.01M347.3 108.3h.01M345.3 99.3h.01M344.8 98.3h.01M344.7 111.1h.01M343.7 113.0h.01M347.3 107.0h.01M348.5 111.3h.01M348.9 114.0h.01M341.7 119.3h.01M344.9 105.9h.01M346.0 110.2h.01M345.7 106.5h.01M342.6 108.6h.01M346.3 109.6h.01M346.9 114.6h.01M345.1 104.7h.01M346.1 102.8h.01M346.0 111.3h.01M347.0 106.3h.01M349.2 119.4h.01M345.8 109.9h.01M346.4 110.4h.01M344.6 105.0h.01M347.5 100.7h.01" stroke="#4e4dfc"/><path d="M345.9 99.4h.01M346.7 109.1h.01M346.6 101.1h.01M347.4 99.7h.01M344.2 106.5h.01M347.7 101.1h.01M346.6 101.1h.01M348.4 105.4h.01M347.2 100.4h.01M345.6 101.6h.01M343.7 110.5h.01M346.8 108.7h.01M350.0 100.9h.01M346.4 107.2h.01M344.1 100.6h.01M348.0 114.6h.01M345.1 97.5h.01M344.1 111.2h.01M348.5 109.0h.01M347.3 107.4h.01M344.9 106.5h.01M345.3 113.5h.01M345.2 109.5h.01M348.2 105.9h.01M347.8 104.9h.01M345.6 102.8h.01M347.1 113.0h.01M345.2 101.5h.01M348.9 99.9h.01M348.6 107.9h.01M347.5 96.3h.01M342.5 108.2h.01M346.4 113.3h.01M349.0 113.1h.01M348.4 109.9h.01M345.3 108.5h.01M344.9 111.6h.01M348.7 106.5h.01M344.4 106.4h.01M346.6 104.3h.01" stroke="#1996f3"/><path d="M348.6 109.8h.01M346.2 110.1h.01M347.1 119.0h.01M348.0 110.2h.01M348.2 111.9h.01M346.9 94.8h.01M347.3 105.3h.01M345.9 109.3h.01M350.3 107.8h.01M349.2 110.2h.01M343.8 111.7h.01M347.2 112.2h.01M348.7 101.0h.01M348.0 112.9h.01M346.7 105.4h.01M346.0 101.9h.01M344.0 105.6h.01M348.1 104.8h.01M347.1 105.0h.01M348.6 116.6h.01M347.1 111.6h.01M344.5 102.9h.01M345.0 108.0h.01M346.8 109.9h.01M344.0 101.8h.01M347.0 114.0h.01M349.5 103.2h.01M350.0 112.4h.01M350.1 114.5h.01M344.0 105.9h.01M346.7 104.7h.01M348.1 112.6h.01M342.9 101.7h.01M347.0 104.7h.01M348.1 103.8h.01M345.0 106.8h.01M345.2 115.0h.01M345.3 105.9h.01M343.8 93.6h.01M346.2 94.7h.01M347.7 109.8h.01M349.2 112.3h.01M348.2 101.2h.01M342.5 106.2h.01M345.6 116.4h.01M345.3 104.1h.01M345.3 96.9h.01M344.0 103.3h.01M345.8 99.5h.01M349.6 102.0h.01M345.3 105.5h.01M347.2 108.9h.01M347.0 112.0h.01M349.3 106.8h.01M345.8 105.6h.01" stroke="#18cde4"/><path d="M349.5 107.1h.01M349.9 102.3h.01M351.4 103.6h.01M350.3 104.3h.01M351.3 100.1h.01M351.4 109.0h.01M352.1 105.7h.01M353.2 105.2h.01M350.6 103.3h.01M352.7 106.0h.01M348.9 102.7h.01M356.2 99.1h.01M350.8 102.2h.01M347.5 99.5h.01M352.8 107.9h.01M351.1 108.3h.01M350.6 104.4h.01M352.9 100.8h.01M350.4 111.8h.01M352.5 102.8h.01M353.9 100.0h.01M351.7 101.3h.01M351.5 105.3h.01M353.0 107.4h.01M350.9 107.8h.01M351.6 103.8h.01M348.8 109.7h.01M353.5 103.1h.01M349.5 101.6h.01M354.8 107.2h.01M346.8 104.1h.01M351.1 109.1h.01M354.4 110.1h.01M347.4 110.7h.01M351.7 107.9h.01M352.1 104.1h.01M351.9 105.5h.01M347.5 101.1h.01M348.6 106.6h.01M353.1 107.4h.01M356.5 107.1h.01M352.2 103.2h.01M351.5 106.2h.01M355.3 109.5h.01M352.0 107.1h.01M350.7 105.7h.01M351.0 103.6h.01M354.6 103.5h.01M348.1 102.5h.01M355.4 115.0h.01M350.7 106.4h.01M351.9 106.2h.01M350.1 106.1h.01M348.3 108.7h.01M351.0 101.3h.01M354.8 107.4h.01M352.1 104.9h.01M353.1 107.9h.01M352.4 105.3h.01M350.7 106.9h.01M349.6 108.7h.01M355.3 105.1h.01M353.8 99.3h.01M349.9 98.5h.01M352.9 99.5h.01M352.9 104.0h.01M352.4 96.6h.01M352.0 103.4h.01M353.5 105.1h.01M352.7 107.0h.01" stroke="#67fcc2"/><path d="M343.3 92.1h.01M345.0 93.8h.01M343.6 94.5h.01M341.6 91.5h.01M342.8 99.0h.01M342.2 92.2h.01M344.7 98.2h.01M341.8 97.2h.01M345.2 97.2h.01M342.1 93.3h.01M345.3 99.7h.01M345.8 94.7h.01M344.1 96.6h.01M341.3 93.1h.01M344.2 90.2h.01M343.0 97.9h.01" stroke="#ff964f"/><path d="M367.1 101.0h.01M368.9 95.9h.01M365.7 99.3h.01M369.6 116.3h.01M368.8 98.3h.01M369.2 105.6h.01M367.2 104.0h.01M367.0 100.6h.01M368.0 116.7h.01M366.6 101.0h.01M368.0 117.6h.01M369.3 116.4h.01M371.1 110.0h.01M368.5 104.4h.01M365.4 110.5h.01M367.9 107.1h.01M369.5 114.7h.01M365.5 110.5h.01M365.0 101.1h.01M366.8 104.9h.01M369.2 109.3h.01M370.3 105.2h.01M367.6 115.7h.01M369.2 101.4h.01M366.8 105.8h.01M370.8 95.5h.01M367.4 115.6h.01M367.3 101.5h.01M367.9 103.3h.01M368.5 110.7h.01M366.7 101.7h.01M367.9 96.0h.01M366.8 92.5h.01M367.3 114.4h.01M366.5 115.2h.01M367.8 98.2h.01M369.6 102.6h.01M368.5 97.1h.01M370.9 109.7h.01M370.3 116.3h.01M365.9 110.2h.01M369.5 95.9h.01M365.8 108.7h.01M370.1 101.5h.01M370.6 107.7h.01M368.9 107.6h.01M369.0 95.5h.01M366.7 110.5h.01M369.5 97.7h.01M369.2 113.7h.01M368.4 106.1h.01M368.9 109.3h.01M369.8 109.1h.01M368.5 112.8h.01M368.6 114.1h.01M366.8 115.7h.01M369.8 92.5h.01M366.3 110.6h.01M368.4 114.8h.01M369.9 115.2h.01" stroke="#18cde4"/><path d="M367.9 104.0h.01M369.7 114.4h.01M369.4 115.6h.01M367.3 113.9h.01M366.4 106.5h.01M368.6 100.9h.01M367.0 107.7h.01M368.3 120.0h.01M368.7 104.6h.01M369.2 105.8h.01M368.6 113.7h.01M369.7 106.9h.01M367.9 96.6h.01M369.1 116.0h.01M368.5 105.9h.01M367.9 102.1h.01M367.4 98.3h.01M369.8 113.1h.01M367.6 119.2h.01M366.9 112.5h.01M367.3 104.4h.01M367.4 110.9h.01M368.1 104.5h.01M369.0 104.4h.01M368.4 108.9h.01M366.3 104.9h.01M368.3 115.0h.01M368.4 101.3h.01M369.2 110.0h.01M368.3 99.3h.01M365.5 96.0h.01M367.8 114.8h.01M368.7 102.4h.01M368.6 105.6h.01M366.4 106.8h.01M367.3 108.7h.01M370.5 110.1h.01M367.2 103.8h.01M367.8 108.7h.01M366.6 112.9h.01M368.4 97.2h.01M368.3 109.3h.01M369.7 109.4h.01M368.0 106.6h.01M367.8 103.4h.01M367.7 115.7h.01M369.7 109.8h.01M369.0 106.6h.01M366.3 105.4h.01M365.4 108.9h.01M369.1 97.2h.01M367.7 95.0h.01M368.2 99.3h.01M369.1 105.1h.01M370.9 100.5h.01M369.9 106.9h.01M367.7 98.3h.01M365.8 116.0h.01M366.2 108.8h.01M368.5 106.8h.01M368.4 98.9h.01M369.4 113.7h.01M367.9 114.6h.01M368.5 120.6h.01M367.1 101.8h.01M367.1 100.7h.01M367.4 102.1h.01M370.4 114.4h.01M368.8 99.8h.01M369.1 103.5h.01" stroke="#67fcc2"/><path d="M369.2 106.3h.01M368.0 111.0h.01M368.9 95.1h.01M368.5 108.4h.01M366.5 102.0h.01M370.0 104.8h.01M369.0 91.7h.01M368.0 100.9h.01M367.0 100.0h.01M368.2 100.6h.01M368.2 99.3h.01M369.5 95.8h.01M367.7 102.9h.01M370.0 97.9h.01M368.0 101.3h.01M366.8 108.1h.01M367.9 111.2h.01M368.3 103.1h.01" stroke="#ff964f"/><path d="M369.7 94.5h.01M370.6 105.1h.01M367.3 103.0h.01M368.7 104.9h.01M369.4 96.6h.01M369.9 104.0h.01M371.2 113.6h.01M371.8 111.7h.01M368.5 103.9h.01M368.3 105.7h.01" stroke="#e6cd73"/><path d="M368.3 126.0h.01M360.2 118.8h.01M360.8 121.3h.01M360.7 120.8h.01M367.6 124.3h.01M364.3 120.7h.01M365.7 123.7h.01M370.7 127.9h.01M367.1 123.8h.01M360.1 120.5h.01M365.1 123.3h.01M362.6 121.3h.01M363.2 121.7h.01M360.3 119.7h.01M366.6 124.1h.01M362.6 123.3h.01M364.6 123.3h.01M361.4 120.8h.01M369.1 128.0h.01M360.8 119.3h.01M362.3 120.9h.01M357.8 119.2h.01M367.8 125.6h.01M369.4 123.8h.01M363.3 122.1h.01M365.7 123.2h.01" stroke="#1996f3"/><path d="M366.3 125.6h.01M367.4 123.6h.01M366.0 122.7h.01M358.6 118.0h.01M360.7 121.2h.01M366.7 122.3h.01M364.1 120.9h.01M369.2 125.0h.01M368.9 124.1h.01M363.4 121.4h.01M365.2 122.1h.01M365.6 121.6h.01M363.8 121.2h.01M363.1 119.7h.01M371.1 127.8h.01M361.4 119.5h.01M365.6 122.7h.01M362.6 120.2h.01M359.6 120.5h.01M367.7 124.3h.01M363.5 120.6h.01M365.2 120.8h.01" stroke="#18cde4"/><path d="M362.2 84.2h.01M353.7 89.5h.01M360.4 89.5h.01M359.8 96.1h.01M357.0 88.5h.01M359.0 93.9h.01M361.0 88.3h.01M359.6 91.8h.01M361.6 88.5h.01M355.4 88.0h.01M357.3 95.0h.01M357.4 87.7h.01M357.5 90.9h.01M358.7 93.0h.01M364.1 90.3h.01M363.0 86.5h.01M360.1 91.5h.01M358.1 85.9h.01M358.3 89.5h.01M362.9 95.0h.01M362.0 89.2h.01M357.2 93.5h.01M360.6 86.3h.01M358.0 89.7h.01M356.7 88.7h.01M357.4 87.4h.01M360.6 100.0h.01M359.3 94.8h.01M356.2 89.4h.01M361.3 86.1h.01M358.5 92.4h.01M357.1 82.1h.01M359.0 87.5h.01M360.7 87.1h.01M356.4 91.3h.01" stroke="#ff4d27"/><path d="M358.4 91.3h.01M363.1 89.4h.01M360.9 92.2h.01M356.3 86.8h.01M355.8 89.5h.01M360.5 93.3h.01M355.8 95.7h.01M357.2 92.1h.01M359.3 89.7h.01M358.0 95.8h.01M353.6 88.8h.01M359.6 89.3h.01M358.0 90.2h.01M354.8 90.1h.01M358.4 89.1h.01M356.2 89.2h.01M362.0 93.0h.01M355.0 89.2h.01" stroke="#ff964f"/><path d="M357.7 100.0 359.6 99.4 361.7 100.3 362.3 103.9 362.0 107.5 359.9 108.1 358.0 107.2 357.4 103.3Z" fill="#ff4d27" stroke="none"/><path d="M358.2 98.2h.01M362.5 105.2h.01M356.7 103.7h.01M362.2 105.5h.01M364.9 103.7h.01M362.7 108.1h.01M357.7 107.0h.01M358.1 107.3h.01M361.9 101.6h.01M356.4 104.7h.01M358.2 98.3h.01M363.8 108.4h.01M359.4 108.9h.01M357.8 104.8h.01M364.7 102.3h.01M357.9 110.2h.01M362.4 102.6h.01M362.7 99.3h.01M357.6 97.9h.01M362.3 102.1h.01M355.6 98.1h.01M362.8 108.6h.01M364.8 103.4h.01M359.4 107.2h.01M361.2 109.3h.01M362.3 101.4h.01M364.2 105.0h.01M363.4 104.5h.01M362.7 106.9h.01M357.4 104.7h.01M357.9 100.8h.01M357.0 103.4h.01M356.2 104.9h.01M361.3 107.3h.01M356.7 104.6h.01M360.0 108.9h.01M360.8 104.2h.01M359.8 100.8h.01M363.2 108.1h.01M361.6 102.6h.01M360.2 96.1h.01M362.5 108.0h.01M357.1 103.2h.01M358.1 99.8h.01M363.9 104.6h.01M359.3 101.5h.01M357.2 105.0h.01M355.4 100.3h.01M357.1 105.5h.01M361.9 108.6h.01M360.2 99.6h.01M362.7 104.7h.01M357.6 105.9h.01M362.5 109.6h.01M358.3 105.5h.01M356.4 103.9h.01M361.1 99.8h.01M362.9 107.5h.01M357.1 98.9h.01M362.1 99.6h.01M363.6 99.2h.01M363.4 104.7h.01M357.7 100.3h.01M357.8 109.0h.01M360.3 107.7h.01M359.3 96.8h.01M359.7 97.8h.01M362.2 100.9h.01M358.2 103.7h.01M360.2 109.8h.01M356.0 99.9h.01M360.9 109.1h.01M362.8 103.3h.01M358.6 98.0h.01M357.4 98.7h.01M362.3 106.8h.01M357.9 108.9h.01M359.0 99.6h.01M363.1 108.7h.01M360.7 99.6h.01M355.8 101.9h.01M357.9 106.7h.01M363.2 101.2h.01M357.5 108.7h.01M359.4 110.7h.01M359.0 97.9h.01M358.0 105.7h.01M356.7 98.7h.01M358.4 108.3h.01M359.9 98.7h.01" stroke="#ff4d27"/><path d="M342.5 116.5h.01M373.5 95.0h.01M374.0 113.0h.01M372.5 122.5h.01M344.5 106.0h.01" stroke="#e6cd73"/><path d="M327.8 72.7h.01M359.0 77.0h.01M335.5 119.7h.01M360.0 120.0h.01" stroke="#ff4d27"/><path d="M351.0 66.5h.01M371.5 62.2h.01M368.0 75.5h.01M365.5 78.0h.01M365.0 80.5h.01M372.8 79.8h.01M330.0 92.2h.01" stroke="#18cde4"/><path d="M355.5 69.0h.01M346.8 76.0h.01M325.0 90.0h.01" stroke="#ff964f"/><path d="M376.8 84.3h.01M378.1 104.3h.01M378.6 81.6h.01M379.6 102.1h.01M378.9 82.4h.01M379.8 102.9h.01M378.7 99.0h.01M378.2 94.1h.01M377.2 76.6h.01M379.6 78.5h.01M378.2 82.0h.01M378.6 65.0h.01M375.6 87.1h.01M379.3 108.4h.01M378.3 91.8h.01M378.0 75.0h.01M377.9 77.4h.01M376.9 94.3h.01M377.8 99.9h.01M380.0 78.2h.01M378.7 74.0h.01M377.2 80.0h.01M377.7 77.9h.01M379.0 64.2h.01M380.0 76.4h.01M377.0 104.2h.01M377.3 100.7h.01M377.4 80.5h.01M377.3 105.0h.01M378.7 98.5h.01M376.6 87.2h.01M377.3 79.2h.01M378.0 81.4h.01M379.2 85.1h.01M378.7 93.2h.01M377.5 85.7h.01M377.3 100.2h.01M379.7 96.6h.01M378.3 76.1h.01M379.8 73.4h.01M376.6 92.7h.01M380.7 84.7h.01M378.2 82.7h.01M379.0 85.0h.01M379.2 96.2h.01M377.6 72.7h.01M378.3 75.5h.01M375.6 90.5h.01M377.9 95.5h.01M378.5 71.1h.01M376.5 80.6h.01M379.9 75.5h.01M379.6 76.7h.01M376.9 73.7h.01M376.4 91.7h.01M378.6 95.4h.01M376.3 88.8h.01M378.6 69.6h.01M378.9 77.1h.01M376.0 95.8h.01M378.0 87.6h.01M376.9 87.7h.01M377.9 104.2h.01M376.5 89.3h.01M376.7 85.5h.01M379.2 79.9h.01M379.1 98.3h.01M378.8 93.3h.01M379.1 84.7h.01M378.5 85.9h.01M379.3 78.6h.01M379.0 91.6h.01M377.4 78.3h.01M377.4 79.2h.01M376.6 102.6h.01M377.5 93.5h.01M378.6 77.5h.01M378.2 72.5h.01M376.7 77.9h.01M377.2 88.8h.01" stroke="#8000ff"/><path d="M379.3 81.6h.01M378.9 91.7h.01M380.9 80.7h.01M379.4 64.8h.01M378.7 75.2h.01M380.1 72.2h.01M379.2 80.0h.01M380.2 93.7h.01M379.0 90.5h.01M379.4 81.1h.01M380.0 101.9h.01M380.5 90.5h.01M379.1 94.1h.01M379.2 95.4h.01M378.0 78.7h.01M377.7 60.6h.01M378.7 92.7h.01M380.1 77.1h.01M377.2 76.6h.01M377.0 96.9h.01M379.6 93.8h.01M379.3 85.5h.01M378.7 87.8h.01M377.7 82.7h.01M380.5 84.0h.01M380.4 86.5h.01M377.6 97.4h.01M378.8 100.8h.01M377.7 105.1h.01M378.6 105.3h.01M379.7 80.2h.01M381.0 65.8h.01M378.2 96.2h.01M379.4 96.3h.01M379.1 82.6h.01M379.9 78.4h.01M379.4 84.1h.01M378.2 83.4h.01M380.3 94.9h.01M381.2 81.1h.01M381.2 88.0h.01M377.0 90.5h.01M379.0 78.1h.01M379.5 81.3h.01M377.2 94.9h.01M379.8 88.2h.01M379.7 63.4h.01M378.2 91.6h.01M377.8 90.3h.01M378.9 98.8h.01M378.0 80.1h.01M378.3 97.3h.01M377.7 80.1h.01M379.5 76.2h.01M378.2 73.6h.01M376.0 95.7h.01M376.8 82.5h.01M379.2 81.9h.01M377.1 93.2h.01M378.2 92.8h.01M379.9 94.8h.01M376.8 84.9h.01M379.9 108.6h.01M380.3 111.2h.01M378.4 61.3h.01M378.2 85.0h.01M378.0 93.2h.01M380.2 87.0h.01M379.6 79.8h.01M379.4 86.3h.01M378.5 71.9h.01M379.9 84.6h.01M378.4 101.3h.01M380.1 76.6h.01M377.5 66.3h.01M378.9 91.4h.01M379.2 80.8h.01M377.8 95.8h.01M378.9 84.9h.01M379.9 73.4h.01" stroke="#4e4dfc"/><path d="M379.4 84.1h.01M378.7 75.7h.01M381.2 93.9h.01M381.6 77.3h.01M380.5 96.1h.01M380.8 75.3h.01M380.3 92.6h.01M376.9 92.7h.01M381.7 76.3h.01M380.1 91.5h.01M379.1 84.4h.01M380.6 87.8h.01M378.8 88.7h.01M377.9 74.5h.01M381.4 75.9h.01M378.1 85.0h.01M380.1 99.1h.01M378.8 92.0h.01M380.0 72.9h.01M379.2 83.0h.01M379.7 95.8h.01M380.5 59.1h.01M378.8 76.3h.01M379.6 102.7h.01M379.7 80.6h.01M380.5 73.1h.01M380.8 98.0h.01M379.0 102.2h.01M379.4 65.1h.01M379.9 61.2h.01M380.7 86.8h.01M380.1 91.8h.01M379.0 66.7h.01M380.6 76.5h.01M382.1 102.0h.01M380.7 69.3h.01M378.1 90.9h.01M378.6 82.9h.01M381.4 94.0h.01M380.6 78.3h.01M377.4 79.8h.01M380.0 73.4h.01M381.1 86.3h.01M380.2 71.1h.01M381.2 93.8h.01M378.8 79.0h.01M380.2 90.3h.01M377.8 64.4h.01M380.6 60.9h.01M382.5 76.1h.01M379.2 73.3h.01M380.2 96.8h.01M380.4 100.6h.01M379.2 69.2h.01M379.6 94.8h.01M379.5 96.4h.01M378.9 84.2h.01M379.8 77.2h.01M378.8 79.0h.01M379.7 83.7h.01M378.5 72.7h.01M381.4 101.4h.01M378.9 72.3h.01M379.3 83.0h.01M379.9 94.2h.01M377.3 87.5h.01M380.6 61.2h.01M380.3 76.7h.01M381.1 65.6h.01M380.4 85.3h.01" stroke="#1996f3"/><path d="M380.6 93.5h.01M378.1 63.5h.01M378.6 68.1h.01M381.0 72.6h.01M380.0 77.9h.01M380.7 98.2h.01M378.8 59.1h.01M381.5 74.7h.01M381.2 77.2h.01M380.5 69.1h.01M379.7 66.2h.01M380.7 81.4h.01M379.1 73.7h.01M381.8 69.9h.01M380.4 88.9h.01M381.5 61.3h.01M383.2 65.3h.01M382.3 83.1h.01M383.0 79.4h.01M380.2 74.2h.01M379.9 95.0h.01M381.9 69.5h.01M380.4 86.7h.01M379.2 87.7h.01M380.6 90.8h.01M382.6 91.8h.01M381.3 65.8h.01M379.9 66.1h.01M378.4 69.6h.01M379.4 74.8h.01M380.5 81.1h.01M380.2 75.9h.01M381.9 88.7h.01M380.7 77.7h.01M384.3 64.6h.01M382.4 71.6h.01M381.5 73.3h.01M382.8 86.5h.01M380.2 84.8h.01M380.6 89.0h.01M378.9 87.4h.01M382.9 55.9h.01M379.8 59.2h.01M383.5 61.4h.01M379.6 82.1h.01M382.7 71.2h.01M379.7 66.4h.01M380.3 63.0h.01M380.1 76.5h.01M380.7 85.4h.01M382.2 75.1h.01M382.6 80.9h.01M383.0 78.7h.01M381.1 75.6h.01M381.0 85.7h.01M382.5 70.8h.01M383.2 84.2h.01M380.7 92.5h.01M380.8 71.8h.01M381.9 83.2h.01M380.4 96.9h.01M380.6 67.0h.01M381.9 76.9h.01M382.7 77.6h.01M382.7 83.8h.01M381.3 72.2h.01M380.1 94.6h.01M379.7 100.1h.01M382.0 69.4h.01M378.9 72.5h.01M381.6 76.3h.01M378.7 89.9h.01M382.2 87.5h.01M383.4 71.7h.01M381.2 68.6h.01M383.1 75.7h.01M381.1 60.5h.01M382.8 89.2h.01M383.2 85.0h.01M380.3 86.6h.01M379.8 79.1h.01M381.4 72.3h.01M379.2 78.1h.01M380.3 86.2h.01M378.4 78.5h.01M380.9 82.5h.01M380.8 64.7h.01M379.6 77.9h.01M379.9 79.3h.01M382.3 77.8h.01M378.5 87.9h.01M384.6 64.3h.01M380.6 88.4h.01M378.2 94.7h.01M379.4 85.7h.01M378.9 70.8h.01M379.0 85.4h.01" stroke="#18cde4"/><path d="M381.9 77.5h.01M383.9 73.7h.01M382.6 89.6h.01M383.5 85.9h.01M384.4 84.1h.01M381.8 71.5h.01M382.1 73.3h.01M383.8 76.1h.01M383.1 64.1h.01M383.0 56.2h.01M385.3 75.2h.01M381.9 77.9h.01M382.1 67.6h.01M385.6 77.9h.01M383.9 84.5h.01M382.2 83.2h.01M381.8 70.8h.01M382.5 77.3h.01M385.1 73.4h.01M381.9 89.5h.01M381.1 64.1h.01M382.2 77.1h.01M383.2 82.7h.01M383.6 61.1h.01M382.6 56.5h.01M383.9 81.2h.01M381.3 80.6h.01M383.2 76.0h.01M381.3 68.4h.01M381.6 84.5h.01M383.3 57.8h.01M383.3 69.2h.01M382.3 71.6h.01M383.0 82.3h.01M382.5 66.3h.01M381.8 55.2h.01M380.9 63.9h.01M382.5 66.5h.01M382.8 72.3h.01M384.6 72.9h.01M384.5 88.8h.01M380.6 76.7h.01M381.9 73.1h.01M382.2 82.7h.01M383.0 79.7h.01M384.2 71.7h.01M383.5 89.7h.01M383.1 83.0h.01M380.9 83.1h.01M382.1 76.6h.01M382.5 72.4h.01M382.8 64.2h.01M381.3 68.4h.01M382.8 71.1h.01M384.1 81.9h.01M380.2 74.8h.01M383.0 76.9h.01M383.2 68.6h.01M384.1 65.0h.01M382.4 88.2h.01M379.7 79.7h.01M383.3 66.3h.01M383.9 66.9h.01M381.8 80.0h.01M383.0 81.6h.01M381.7 90.0h.01M381.9 73.5h.01M384.3 76.6h.01M382.7 85.7h.01M383.1 69.9h.01M380.4 66.5h.01M383.4 69.2h.01M379.1 74.2h.01M381.8 80.7h.01M383.1 69.1h.01M380.4 71.8h.01M382.6 74.0h.01M382.8 66.8h.01M384.0 68.8h.01M380.9 85.9h.01M382.6 78.1h.01M381.0 74.2h.01M383.1 81.0h.01M382.8 74.2h.01M379.1 76.4h.01M381.0 85.2h.01M384.4 84.1h.01M384.3 76.9h.01M382.9 86.0h.01M382.4 89.5h.01M385.2 66.2h.01M380.0 69.8h.01M383.3 78.3h.01M380.9 75.5h.01M382.3 77.7h.01M382.2 68.3h.01M382.8 84.2h.01M382.4 69.6h.01M383.6 67.8h.01M381.0 75.7h.01M384.4 72.0h.01M381.7 72.2h.01M383.3 81.1h.01M382.3 80.1h.01M384.6 72.1h.01M381.9 73.3h.01M380.2 63.4h.01M382.7 77.2h.01M383.2 61.7h.01M383.0 92.6h.01M381.4 76.7h.01M383.1 65.1h.01M383.4 75.8h.01M382.4 61.5h.01M382.8 83.5h.01M379.3 66.4h.01M380.7 70.1h.01M382.5 76.7h.01M381.0 80.4h.01M382.4 78.3h.01M384.9 71.3h.01M382.8 75.4h.01M381.0 62.2h.01M382.8 62.3h.01M381.3 80.2h.01M381.1 68.2h.01M381.6 71.7h.01M382.8 77.2h.01M385.0 59.9h.01M382.7 62.5h.01" stroke="#67fcc2"/><path d="M411.7 95.3h.01M413.5 90.0h.01M412.9 102.7h.01M412.9 103.9h.01M412.9 96.4h.01M413.3 97.6h.01M412.1 106.1h.01M410.5 99.3h.01M414.7 94.7h.01M409.6 93.9h.01M411.5 86.5h.01M411.7 100.9h.01M410.3 95.9h.01M414.0 105.0h.01M412.8 101.9h.01M414.4 95.0h.01M410.8 99.6h.01M413.6 95.5h.01M410.0 100.7h.01M413.5 97.0h.01M415.1 109.6h.01M410.2 87.8h.01M414.1 96.1h.01M412.6 86.6h.01M414.7 109.5h.01M412.0 92.8h.01M412.4 93.4h.01M412.4 107.0h.01M411.4 96.5h.01M412.8 90.1h.01M410.3 91.8h.01M411.3 85.6h.01M409.7 103.6h.01M413.4 95.9h.01M413.4 99.3h.01M411.2 103.1h.01M409.1 90.5h.01M410.5 103.6h.01M411.3 91.6h.01M413.2 98.9h.01M410.1 92.8h.01M408.8 96.8h.01M411.8 94.2h.01M415.4 98.0h.01M414.2 99.5h.01M411.5 89.0h.01M413.5 86.8h.01M412.2 101.7h.01M411.2 109.1h.01M412.3 88.4h.01M410.9 107.4h.01M409.4 93.9h.01M412.0 104.6h.01M410.6 99.3h.01M415.0 99.7h.01M412.1 90.5h.01M411.9 100.2h.01M411.4 102.3h.01M411.4 104.4h.01M411.4 91.8h.01M413.4 105.7h.01M413.2 105.5h.01M414.5 98.2h.01M413.2 107.6h.01M415.5 109.7h.01M412.4 87.4h.01M411.2 98.9h.01M411.0 94.3h.01M412.4 101.8h.01M413.3 95.5h.01M411.2 97.6h.01M412.2 100.9h.01M411.7 95.1h.01M410.3 105.4h.01M413.0 102.1h.01M413.8 103.0h.01M410.8 108.6h.01M410.8 97.6h.01M412.7 105.9h.01M414.5 93.0h.01M412.3 95.7h.01M411.3 94.3h.01M411.5 88.3h.01M411.3 109.2h.01M410.3 108.2h.01M414.4 86.7h.01M414.3 88.3h.01M408.5 99.6h.01M408.9 106.4h.01M410.5 98.0h.01M413.5 95.8h.01M411.3 88.4h.01M411.6 90.3h.01M410.9 102.7h.01M410.2 96.6h.01M411.3 95.6h.01M411.3 94.8h.01M408.7 88.4h.01M411.1 109.5h.01M413.6 94.9h.01M410.6 104.8h.01M414.1 96.0h.01M414.4 91.4h.01M411.5 87.4h.01M412.6 98.1h.01M413.4 100.4h.01M413.3 101.0h.01M412.0 100.2h.01M411.4 100.0h.01M411.6 109.6h.01M413.5 106.2h.01M411.9 100.3h.01M410.6 85.8h.01M414.3 101.4h.01M412.2 106.3h.01M414.0 96.8h.01M413.0 95.9h.01M413.7 89.6h.01M413.1 109.5h.01M413.1 87.5h.01M411.7 97.3h.01M412.9 93.6h.01M413.0 101.6h.01M411.3 100.6h.01M412.9 93.4h.01M411.7 93.2h.01M410.1 100.6h.01M412.3 91.2h.01M409.8 97.3h.01M414.2 101.2h.01M412.7 96.1h.01M411.8 90.8h.01M414.4 108.6h.01M413.0 94.7h.01M411.1 106.5h.01M409.5 94.9h.01M412.8 108.3h.01M413.7 85.5h.01M409.9 93.8h.01M410.5 102.8h.01M409.9 87.4h.01M412.1 103.2h.01M415.0 102.2h.01M410.9 87.8h.01M415.4 103.3h.01M411.8 91.0h.01M411.6 100.4h.01M410.9 104.4h.01M412.0 100.6h.01M410.5 100.4h.01M414.6 98.6h.01M412.2 94.7h.01M410.8 93.5h.01M412.7 102.7h.01M410.6 102.9h.01M411.4 100.9h.01M415.3 91.3h.01M410.9 101.6h.01M411.1 91.5h.01M411.9 90.5h.01M413.1 88.5h.01M410.2 91.1h.01M413.2 91.0h.01M413.3 96.3h.01M410.7 97.0h.01M413.2 93.1h.01M409.0 97.2h.01M413.8 90.8h.01M412.0 102.1h.01M412.5 90.8h.01" stroke="#67fcc2"/><path d="M409.6 99.8h.01M410.6 101.1h.01M411.6 106.9h.01M411.9 92.7h.01M411.5 94.9h.01M411.3 86.0h.01M412.1 98.7h.01M407.6 97.3h.01M411.3 99.7h.01M409.5 101.5h.01M411.6 90.9h.01M410.8 100.6h.01M411.5 109.4h.01M412.0 95.8h.01M410.8 91.9h.01M411.0 87.7h.01M410.7 89.8h.01M410.1 88.4h.01M407.6 95.7h.01M408.4 98.9h.01M411.1 94.4h.01M410.2 104.4h.01M413.7 99.3h.01M408.0 96.0h.01M410.3 102.2h.01M410.8 88.9h.01M411.7 108.7h.01M409.5 88.8h.01M410.1 88.2h.01M411.5 97.6h.01M409.8 92.1h.01M412.9 82.0h.01M408.8 95.3h.01M408.7 107.8h.01M411.0 100.5h.01M411.4 90.9h.01M412.9 93.5h.01M410.5 91.3h.01M409.9 103.0h.01M409.3 89.9h.01M407.7 108.4h.01M411.8 97.7h.01M408.8 104.6h.01M408.6 108.7h.01M410.6 102.8h.01M411.1 92.9h.01M409.2 89.6h.01M410.3 83.3h.01M412.8 89.1h.01M409.8 92.5h.01" stroke="#99fca6"/><path d="M406.7 88.9h.01M409.3 104.9h.01M408.7 93.6h.01M409.2 91.9h.01M408.4 87.7h.01M408.4 88.7h.01M408.1 79.4h.01M409.7 90.4h.01M409.5 84.5h.01M407.6 103.7h.01M410.7 101.9h.01M409.5 100.0h.01M410.7 91.3h.01M409.7 89.6h.01M409.5 98.5h.01M406.8 91.3h.01M407.1 84.7h.01M409.7 98.2h.01M408.2 102.2h.01M411.1 100.9h.01M408.6 100.6h.01M410.5 96.3h.01M410.4 95.4h.01M408.7 100.2h.01" stroke="#18cde4"/><path d="M399.7 63.4h.01M386.1 61.7h.01M393.8 67.6h.01M387.2 57.0h.01M393.1 68.1h.01M400.5 63.7h.01M391.3 55.0h.01M396.9 65.2h.01M390.0 59.0h.01M398.7 65.5h.01M406.3 59.9h.01M386.7 64.4h.01M398.2 59.5h.01M396.4 61.6h.01M383.7 61.0h.01M393.6 58.9h.01M402.9 65.6h.01M390.6 60.6h.01M395.5 57.8h.01M403.6 65.3h.01M395.9 58.3h.01M391.8 57.9h.01M405.4 57.0h.01M400.1 61.4h.01M391.7 70.7h.01M402.5 58.1h.01M395.7 69.8h.01M399.8 66.1h.01M389.7 58.2h.01M400.0 65.9h.01M403.7 67.8h.01M396.9 66.4h.01M394.2 60.6h.01M390.6 65.1h.01M405.5 64.1h.01M396.6 62.1h.01M405.4 61.3h.01M396.4 60.7h.01M383.4 63.3h.01M404.3 66.6h.01M401.0 66.1h.01M393.0 72.6h.01M393.8 58.5h.01M390.5 62.6h.01M397.1 62.2h.01M389.2 63.4h.01M391.9 64.0h.01M388.7 55.5h.01M406.5 73.8h.01M383.4 62.0h.01M398.9 62.6h.01M404.5 57.7h.01M401.1 71.5h.01M402.9 64.6h.01M396.7 63.7h.01M394.3 57.8h.01M396.2 61.6h.01M389.9 65.6h.01" stroke="#18cde4"/><path d="M392.4 60.5h.01M398.6 65.5h.01M392.5 73.0h.01M400.1 64.1h.01M387.6 67.8h.01M393.4 63.2h.01M402.4 68.1h.01M408.7 65.8h.01M395.9 74.4h.01M398.4 60.2h.01M393.6 61.2h.01M396.4 74.5h.01M395.9 61.0h.01M395.4 61.1h.01M385.2 61.9h.01M392.0 66.2h.01M393.9 62.9h.01M392.4 63.1h.01M387.2 62.4h.01M382.5 62.7h.01M403.7 70.0h.01M396.1 58.3h.01M399.1 58.7h.01M399.2 60.0h.01M381.8 67.5h.01M398.5 63.8h.01M398.1 60.3h.01M389.1 69.3h.01M387.4 73.2h.01M384.1 68.5h.01M404.5 64.4h.01M395.5 61.6h.01M385.5 57.2h.01M396.2 60.6h.01M394.2 63.6h.01M391.1 70.0h.01M386.5 59.6h.01M409.4 65.2h.01M395.3 57.8h.01M394.2 55.7h.01M395.6 58.2h.01M394.9 56.7h.01M389.4 57.0h.01M393.7 60.0h.01M401.9 67.4h.01M385.3 62.6h.01M402.8 60.7h.01M392.8 61.6h.01M384.6 70.1h.01M391.6 64.9h.01M394.4 56.8h.01M390.2 69.2h.01M395.0 60.9h.01M396.3 64.3h.01M392.5 66.3h.01M394.7 60.1h.01M391.9 64.3h.01M392.7 61.6h.01M401.3 59.4h.01M390.3 59.1h.01M394.0 63.2h.01M398.5 59.1h.01M399.6 72.4h.01M394.7 60.9h.01M400.9 62.8h.01M394.1 62.1h.01" stroke="#67fcc2"/><path d="M392.9 69.7h.01M400.7 56.5h.01M392.3 71.7h.01M397.7 72.7h.01M392.0 60.0h.01M386.2 60.7h.01M398.8 61.0h.01M391.0 61.5h.01M398.0 65.7h.01M402.5 66.7h.01M389.9 62.0h.01M399.5 70.4h.01M397.2 58.7h.01M389.7 57.5h.01M401.9 67.6h.01M396.4 57.9h.01M396.4 60.3h.01M391.9 54.7h.01M383.7 63.6h.01M392.5 59.7h.01M406.7 65.2h.01M399.8 68.0h.01M393.9 65.0h.01M389.7 57.6h.01M397.9 67.2h.01M405.0 57.1h.01M400.2 59.0h.01M399.6 64.4h.01M400.2 66.6h.01M389.8 60.4h.01M406.8 66.4h.01M396.8 72.3h.01M394.2 60.9h.01M398.2 57.6h.01M400.5 64.0h.01M400.3 58.4h.01M396.3 55.1h.01M400.4 59.9h.01M402.5 71.2h.01M408.0 70.8h.01M403.1 55.5h.01M399.8 57.3h.01M399.7 60.2h.01M400.7 64.8h.01M399.9 71.5h.01M395.9 64.6h.01M392.3 70.3h.01M393.9 60.2h.01M392.4 58.9h.01M391.4 67.8h.01M398.5 70.3h.01M401.1 65.1h.01M405.9 59.4h.01M385.5 65.2h.01M403.6 56.7h.01M394.5 57.5h.01M386.5 68.6h.01M400.2 65.1h.01M399.2 58.1h.01M389.3 68.4h.01M398.2 66.1h.01M401.7 56.3h.01M404.3 61.3h.01M397.2 56.6h.01M392.3 61.2h.01M386.5 66.6h.01M402.7 56.9h.01M393.7 54.7h.01M394.4 65.2h.01M395.3 70.1h.01M397.1 71.2h.01M402.0 56.4h.01M396.6 55.2h.01M389.4 55.0h.01M400.7 60.9h.01M395.6 55.8h.01M401.7 59.0h.01M385.4 66.4h.01M387.0 71.7h.01M399.1 56.4h.01M390.8 65.8h.01" stroke="#ff964f"/><path d="M386.4 54.8h.01M389.5 74.1h.01M393.4 100.4h.01M392.7 93.7h.01M389.8 71.4h.01M389.7 103.1h.01M398.8 92.7h.01M406.0 104.6h.01M395.4 69.8h.01M394.1 114.3h.01M401.9 74.5h.01M394.2 101.0h.01M403.0 93.8h.01M406.8 67.7h.01M407.4 108.6h.01M394.9 78.5h.01M399.3 113.6h.01M400.7 87.4h.01M397.3 83.0h.01M399.0 93.9h.01M404.4 107.1h.01M404.6 88.7h.01M386.2 89.4h.01M408.8 86.9h.01M399.6 83.2h.01M404.6 80.0h.01M387.2 97.2h.01M393.6 62.7h.01M403.7 74.4h.01M390.3 75.0h.01M398.3 73.9h.01M383.4 65.2h.01M394.7 82.8h.01M397.2 76.7h.01M382.9 95.4h.01M385.5 88.9h.01M396.9 85.8h.01M399.4 85.3h.01M394.8 94.7h.01M398.2 74.8h.01M398.0 94.6h.01M397.4 60.0h.01M393.5 100.3h.01M386.1 73.4h.01M399.1 104.9h.01M393.6 102.4h.01M384.9 109.2h.01M398.3 88.8h.01M390.5 73.1h.01M397.3 66.0h.01M393.1 84.1h.01M390.8 57.5h.01M396.6 90.5h.01M389.1 85.2h.01M387.4 96.7h.01M397.4 110.7h.01M397.3 86.5h.01M401.4 91.6h.01M383.2 93.9h.01M399.8 97.8h.01M386.4 85.3h.01M393.0 89.1h.01M400.9 88.0h.01M388.9 83.4h.01M385.2 84.3h.01M397.5 91.0h.01M394.3 99.6h.01M389.8 70.0h.01M396.3 73.2h.01M393.8 103.5h.01M396.4 79.2h.01M391.7 96.0h.01M398.4 96.7h.01M398.4 78.5h.01M393.6 78.9h.01M386.4 79.2h.01M401.2 85.8h.01M396.0 98.9h.01M393.1 110.7h.01M399.3 76.5h.01M384.2 78.0h.01M389.3 74.7h.01M384.6 67.5h.01M395.9 76.9h.01M395.2 86.8h.01M388.8 59.0h.01M394.6 107.8h.01M391.2 78.1h.01M396.6 78.2h.01M396.9 78.6h.01M391.2 87.5h.01M400.1 82.9h.01M389.3 103.6h.01M396.4 85.6h.01M393.8 82.1h.01M396.8 95.2h.01M406.4 111.3h.01M407.4 72.9h.01M394.0 85.0h.01M405.7 79.5h.01M389.7 104.0h.01M404.1 99.9h.01M394.5 95.6h.01M400.3 85.1h.01M396.8 63.0h.01M394.4 99.5h.01M398.8 75.2h.01M385.1 67.9h.01M392.4 91.1h.01M402.2 74.2h.01M392.5 96.1h.01M393.3 110.8h.01M392.4 83.6h.01M399.5 68.6h.01M395.7 73.3h.01M407.9 94.1h.01M395.7 94.1h.01M388.6 73.3h.01M406.7 65.6h.01M404.6 89.3h.01M394.3 79.7h.01M392.5 56.0h.01M386.8 87.4h.01M393.4 101.8h.01M404.0 78.4h.01M400.7 67.6h.01M396.4 88.3h.01M385.7 64.6h.01M396.1 89.3h.01M399.7 82.5h.01M393.8 74.2h.01M398.0 76.7h.01M392.4 71.6h.01M391.8 88.3h.01M398.0 87.2h.01M402.3 82.4h.01M391.4 80.8h.01M399.7 85.6h.01M396.1 85.4h.01M400.2 80.8h.01M389.7 80.3h.01M394.1 77.4h.01M397.1 63.0h.01M391.6 82.5h.01M394.5 84.9h.01M397.0 84.8h.01M395.3 103.3h.01M397.2 74.6h.01M394.4 102.2h.01M393.4 83.7h.01M405.8 78.4h.01M399.4 97.1h.01M403.7 79.4h.01M390.2 75.1h.01M393.5 80.0h.01M390.5 85.2h.01M394.1 74.8h.01M389.7 83.1h.01M393.5 64.8h.01M399.5 77.8h.01M392.1 96.0h.01M398.6 81.3h.01M395.2 85.3h.01M404.3 84.2h.01M399.3 60.1h.01M394.2 84.7h.01M397.9 91.4h.01M396.0 91.2h.01M398.9 85.4h.01M393.5 71.5h.01M388.3 84.7h.01M401.8 81.4h.01M398.0 75.2h.01M392.6 101.3h.01M389.9 113.1h.01M384.3 89.5h.01M395.7 97.1h.01M398.5 76.4h.01M386.3 94.6h.01M386.4 94.7h.01M394.3 93.0h.01M396.3 99.1h.01M405.3 100.9h.01M396.2 106.6h.01M399.8 89.2h.01M391.0 71.0h.01M383.4 86.7h.01M404.3 86.8h.01M392.1 76.2h.01M403.7 99.3h.01M394.4 93.0h.01M396.5 103.6h.01M396.4 89.0h.01M405.6 93.5h.01M397.1 80.5h.01M387.7 95.5h.01M387.9 81.4h.01M387.9 91.1h.01M386.7 69.7h.01M399.6 71.9h.01M391.8 86.6h.01M396.0 78.9h.01M400.0 85.5h.01M392.5 79.4h.01M403.0 99.4h.01M389.9 86.6h.01M398.8 82.2h.01M392.7 102.0h.01M404.1 81.3h.01M386.3 94.3h.01M397.5 77.5h.01M398.8 83.9h.01M386.8 94.4h.01M399.3 98.8h.01M396.5 99.3h.01M394.7 76.8h.01M400.6 86.0h.01M389.5 80.9h.01M393.4 66.1h.01M394.2 92.9h.01M389.2 101.3h.01M388.7 85.4h.01M390.5 108.6h.01M391.5 101.4h.01M397.2 90.8h.01M390.7 94.5h.01M393.0 78.0h.01M408.0 69.5h.01M391.2 82.7h.01M397.6 88.4h.01M394.9 82.5h.01M400.9 58.7h.01M395.4 102.7h.01M392.0 96.1h.01M388.7 84.1h.01M399.1 101.2h.01M384.5 75.1h.01M387.2 64.3h.01M400.7 64.0h.01M387.3 90.7h.01M396.1 96.8h.01M397.9 74.3h.01M407.6 86.9h.01M403.5 90.7h.01M398.1 100.2h.01M394.3 80.4h.01M396.0 90.8h.01M391.7 108.4h.01M395.0 77.6h.01M390.3 92.7h.01M391.0 84.0h.01M396.1 88.2h.01M393.4 73.9h.01M398.5 82.9h.01M391.0 89.9h.01M401.0 79.9h.01M391.1 72.6h.01M400.8 101.3h.01M399.3 59.8h.01M392.1 100.0h.01M394.0 84.7h.01M396.2 88.3h.01M387.6 64.2h.01M399.0 88.2h.01M385.4 74.8h.01M398.9 69.0h.01M401.8 67.4h.01M398.9 106.4h.01M400.0 91.0h.01M388.2 76.2h.01M386.4 92.6h.01M384.6 92.4h.01M389.8 76.4h.01M394.2 89.9h.01M396.8 82.9h.01M399.1 85.4h.01M397.7 79.5h.01M383.7 59.3h.01M387.7 75.3h.01M395.7 66.2h.01M391.6 90.0h.01M397.4 79.5h.01M390.3 80.4h.01M395.3 83.1h.01M396.9 86.5h.01M395.2 80.1h.01M395.0 62.8h.01M392.5 72.8h.01M397.4 69.0h.01M400.2 98.6h.01M394.9 71.0h.01M400.3 97.7h.01M394.9 79.3h.01M400.0 105.9h.01M386.1 71.0h.01M392.2 99.3h.01M394.3 85.5h.01M398.2 84.9h.01M394.1 97.3h.01M403.1 80.3h.01M400.4 100.0h.01M403.2 79.8h.01M399.8 79.3h.01M404.8 78.6h.01M397.2 80.2h.01M401.3 98.3h.01M386.5 90.0h.01M395.8 75.8h.01M400.0 115.8h.01M392.9 76.4h.01M386.6 83.7h.01M405.8 103.0h.01M391.6 84.8h.01M392.8 68.5h.01M399.7 96.3h.01M401.7 65.8h.01M398.9 108.3h.01M397.1 104.9h.01M400.1 77.1h.01M406.1 61.1h.01M406.9 107.3h.01M393.5 82.7h.01M403.0 88.9h.01M393.9 111.5h.01M398.8 100.8h.01M396.6 87.0h.01M393.8 74.6h.01M401.9 72.3h.01M400.1 82.4h.01M398.0 72.4h.01M396.1 103.4h.01M389.4 77.4h.01M388.1 90.7h.01M392.0 81.4h.01M387.8 99.4h.01M406.0 87.5h.01M395.2 72.7h.01M391.2 90.5h.01M408.9 95.3h.01M399.9 86.9h.01M400.1 85.3h.01M403.8 67.2h.01M393.7 62.5h.01M388.0 74.8h.01M402.2 77.7h.01M397.4 102.4h.01M393.7 62.1h.01M396.4 79.4h.01M391.6 73.2h.01M396.8 110.3h.01M392.8 96.7h.01M391.6 96.0h.01M401.4 85.4h.01M396.2 64.1h.01M394.9 79.0h.01M391.1 107.5h.01M397.2 100.3h.01M395.9 84.3h.01M396.7 92.0h.01M386.4 87.4h.01M399.6 84.5h.01M391.5 107.8h.01M405.4 71.5h.01M394.9 80.0h.01M389.6 93.6h.01M398.8 92.7h.01M394.7 94.6h.01M397.1 76.2h.01M390.1 97.8h.01M388.4 98.8h.01M398.2 79.8h.01M398.3 85.5h.01M393.4 94.3h.01M396.9 76.7h.01M399.3 109.7h.01M391.9 83.2h.01M404.3 100.3h.01M396.4 81.8h.01M386.0 83.1h.01M406.5 90.5h.01M400.1 91.0h.01M398.5 99.2h.01M401.2 74.4h.01M403.0 81.1h.01M382.6 87.8h.01M392.1 97.2h.01M399.3 98.0h.01M400.0 90.9h.01M400.0 101.3h.01M398.2 78.0h.01M387.1 94.2h.01M390.0 109.3h.01M387.1 72.1h.01M401.6 99.5h.01M398.0 72.9h.01M391.5 78.6h.01M403.7 105.5h.01M395.9 81.0h.01M387.4 74.9h.01M402.3 87.0h.01M393.2 76.0h.01M394.3 82.5h.01M400.6 93.1h.01M396.5 89.0h.01M390.6 91.2h.01M397.4 82.3h.01M388.2 84.2h.01M389.1 101.3h.01M387.5 77.6h.01M403.0 93.8h.01M386.2 95.2h.01M403.8 81.5h.01M399.9 93.8h.01M402.0 89.3h.01M392.4 103.1h.01M401.4 85.8h.01M406.5 85.0h.01M383.0 86.1h.01M391.6 101.3h.01M407.2 88.1h.01" stroke="#ff4d27"/><path d="M383.5 102.3h.01M382.7 100.5h.01M379.8 104.3h.01M380.2 94.5h.01M381.6 95.9h.01M378.1 92.1h.01M383.1 111.2h.01M377.8 108.6h.01M382.5 106.3h.01M383.9 109.3h.01M384.0 108.3h.01M378.2 110.8h.01M379.9 94.6h.01M382.9 96.6h.01M382.3 109.4h.01M378.3 93.5h.01M384.2 93.6h.01M382.2 101.7h.01M382.9 92.1h.01M383.9 96.3h.01M381.3 111.7h.01M380.6 110.6h.01M381.9 110.5h.01M378.4 105.5h.01M379.2 110.3h.01M382.6 111.0h.01M378.0 97.2h.01M379.0 92.1h.01M380.9 92.6h.01M377.5 93.0h.01M380.1 108.9h.01M382.6 109.1h.01M379.6 91.5h.01M380.6 111.3h.01M378.0 94.3h.01M382.7 104.3h.01M378.6 94.2h.01M379.0 104.6h.01M382.5 99.5h.01M377.2 110.8h.01" stroke="#67fcc2"/><path d="M380.9 103.0h.01M383.9 101.1h.01M382.3 100.7h.01M381.3 107.0h.01M380.6 107.3h.01M383.8 101.4h.01M381.2 102.1h.01M381.2 102.7h.01M379.5 100.2h.01M378.8 104.2h.01M384.3 97.4h.01M382.7 100.0h.01M377.5 102.2h.01M381.8 102.1h.01M384.0 106.9h.01M382.6 97.3h.01M382.3 97.2h.01M380.4 106.9h.01M380.6 109.4h.01M382.9 100.5h.01M380.8 93.9h.01M383.4 95.9h.01M381.0 100.2h.01M383.9 104.1h.01M381.6 105.9h.01M382.2 96.4h.01M380.0 100.6h.01M378.9 101.5h.01M382.6 101.2h.01M381.5 91.4h.01M382.4 109.8h.01M383.7 99.0h.01M379.5 98.9h.01M379.3 96.4h.01M381.5 101.0h.01M381.9 92.3h.01M381.0 105.1h.01M381.9 99.4h.01M380.3 104.2h.01M382.4 104.6h.01M378.9 93.1h.01M381.6 107.0h.01M380.2 98.9h.01M383.0 102.4h.01M380.7 101.5h.01M382.8 94.5h.01M380.9 110.5h.01M377.8 105.3h.01M382.0 103.9h.01M380.8 102.6h.01M382.5 93.2h.01M377.9 102.0h.01M382.5 105.1h.01M380.3 99.7h.01M379.5 101.5h.01M381.2 102.5h.01M381.6 107.6h.01M378.8 97.9h.01M381.7 104.7h.01M384.3 107.0h.01M380.9 105.6h.01M383.2 90.8h.01M381.0 98.5h.01M381.6 99.4h.01M378.6 109.1h.01M379.5 105.7h.01M379.0 101.5h.01M377.3 102.4h.01M378.7 98.6h.01M379.3 111.1h.01M378.7 103.6h.01M381.3 101.1h.01M381.7 99.2h.01M380.9 102.7h.01M382.0 104.4h.01M380.7 101.7h.01M381.6 98.5h.01M381.3 104.7h.01M380.2 108.4h.01M381.3 102.8h.01M377.0 94.4h.01M381.3 93.9h.01M380.2 103.4h.01M382.6 96.2h.01M378.9 103.2h.01M382.3 105.6h.01M383.3 108.3h.01M381.0 106.2h.01M382.7 104.3h.01M384.3 105.0h.01M379.2 108.3h.01M382.2 93.7h.01M380.6 107.8h.01M380.6 103.3h.01M380.0 98.1h.01M381.9 98.1h.01M378.7 100.7h.01M381.3 95.7h.01M381.7 110.7h.01M377.8 101.5h.01M378.5 99.4h.01M381.5 97.8h.01M381.5 92.1h.01M379.3 108.5h.01M379.5 109.4h.01M384.1 104.1h.01M382.3 106.2h.01M382.1 98.5h.01M377.2 94.3h.01M380.2 97.9h.01M379.0 100.2h.01M383.5 93.8h.01M381.5 101.8h.01M384.5 101.6h.01M382.2 98.7h.01M383.6 99.2h.01M383.2 100.4h.01M384.5 95.2h.01M380.8 99.2h.01M381.4 102.3h.01" stroke="#ff4d27"/><path d="M405.8 85.7 405.5 91.9 404.4 97.7 402.8 102.7 400.6 106.5 398.0 108.9 395.3 109.7 392.6 108.9 390.1 106.5 387.9 102.7 386.2 97.7 385.2 91.9 384.8 85.7 385.2 79.5 386.2 73.8 387.9 68.8 390.1 65.0 392.6 62.6 395.3 61.8 398.0 62.6 400.6 65.0 402.8 68.8 404.4 73.8 405.5 79.5Z" fill="#ff4d27" stroke="none"/><path d="M406.6 81.5h.01M404.2 71.0h.01M405.3 81.2h.01M406.6 80.9h.01M394.8 60.6h.01M383.9 79.9h.01M391.7 107.5h.01M384.1 97.4h.01M385.3 93.8h.01M386.8 102.7h.01M382.3 87.5h.01M401.8 105.4h.01M399.7 107.4h.01M394.8 111.1h.01M395.7 109.1h.01M393.4 60.6h.01M393.4 62.2h.01M383.6 77.4h.01M406.8 79.1h.01M397.6 62.0h.01M401.9 63.5h.01M383.0 72.3h.01M389.3 62.2h.01M383.6 93.0h.01M383.3 91.4h.01M393.5 63.6h.01M405.7 94.7h.01M387.6 99.7h.01M386.0 97.5h.01M394.6 58.2h.01M405.0 96.7h.01M395.5 109.5h.01M406.8 90.4h.01M394.0 59.4h.01M384.8 91.0h.01M405.7 83.0h.01M400.4 64.2h.01M384.0 81.4h.01M387.2 99.1h.01M383.5 91.3h.01M403.1 97.7h.01M390.9 108.0h.01M392.2 64.7h.01M386.4 94.1h.01M403.8 101.5h.01M399.1 108.5h.01M385.5 79.2h.01M397.2 61.4h.01M405.6 93.9h.01M405.2 91.3h.01M396.9 62.3h.01M404.1 101.6h.01M399.6 110.5h.01M405.4 95.5h.01M403.1 103.2h.01M391.6 59.7h.01M387.7 68.0h.01M383.9 82.5h.01M402.9 70.7h.01M405.7 77.2h.01M396.8 60.6h.01M407.1 79.9h.01M384.8 71.5h.01M405.6 67.7h.01M402.4 64.5h.01M391.1 108.6h.01M392.1 112.2h.01M389.1 109.3h.01M383.5 89.7h.01M393.2 61.6h.01M401.1 108.1h.01M401.1 103.8h.01M403.3 101.9h.01M400.1 63.1h.01M384.9 98.2h.01M408.1 71.7h.01M403.7 71.0h.01M383.1 78.5h.01M407.4 84.6h.01M384.8 88.1h.01M388.9 64.2h.01M389.2 65.1h.01M383.7 80.2h.01M398.2 108.6h.01M398.1 62.8h.01M405.5 73.1h.01M406.5 87.1h.01M393.5 109.3h.01M392.2 59.8h.01M399.3 109.0h.01M383.1 99.3h.01M391.5 61.8h.01M385.7 103.5h.01M383.6 97.7h.01M406.0 93.0h.01M402.1 108.2h.01M382.5 78.6h.01M404.9 93.4h.01M384.8 80.0h.01M385.1 67.8h.01M405.7 67.3h.01M383.7 88.6h.01M403.3 101.2h.01M404.4 96.7h.01M394.1 111.7h.01M384.6 89.1h.01M389.3 65.3h.01M391.2 107.6h.01M407.7 94.5h.01M406.5 92.9h.01M391.6 63.6h.01M383.8 83.6h.01M398.0 65.0h.01M387.5 70.5h.01M403.8 107.5h.01M385.4 74.0h.01M404.6 95.3h.01M405.4 96.5h.01M404.8 101.6h.01M402.2 69.1h.01M396.0 109.9h.01M388.7 68.0h.01M399.8 106.6h.01M385.7 75.6h.01M406.4 77.7h.01M382.4 89.7h.01M385.4 101.1h.01M401.4 108.6h.01M396.6 62.9h.01M385.2 79.8h.01M400.0 107.9h.01M399.8 107.8h.01M384.1 83.4h.01M405.4 78.3h.01M405.0 96.0h.01M405.8 98.6h.01M385.4 84.1h.01M402.9 71.8h.01M407.6 81.7h.01M384.8 84.2h.01M386.6 100.9h.01M382.5 84.6h.01M406.4 98.8h.01M390.3 63.7h.01M383.9 76.6h.01M403.2 100.6h.01M404.1 102.6h.01M406.2 90.8h.01M403.6 76.4h.01M402.3 104.3h.01M404.9 71.6h.01M409.1 96.5h.01M398.1 110.0h.01M401.5 102.5h.01M385.9 70.0h.01M388.4 103.7h.01M406.8 91.1h.01M402.6 68.3h.01M391.8 58.6h.01M406.8 88.8h.01M384.5 88.9h.01M402.0 101.7h.01M407.6 77.3h.01M405.9 92.5h.01M403.0 99.9h.01M398.5 110.9h.01M383.1 93.1h.01M387.9 68.0h.01M398.9 64.7h.01M403.6 68.5h.01M405.7 76.3h.01M389.4 66.4h.01M405.8 91.5h.01M405.2 92.4h.01M403.5 66.2h.01M400.9 65.5h.01M408.1 82.1h.01M400.6 64.9h.01M408.0 86.6h.01M403.3 65.9h.01M391.3 62.5h.01M403.4 70.9h.01M400.9 106.8h.01M407.3 81.3h.01M408.7 78.7h.01M391.8 109.6h.01M402.4 66.2h.01M395.2 61.9h.01M404.7 75.0h.01M401.5 101.4h.01M405.6 77.6h.01M404.4 71.3h.01M385.3 93.2h.01M405.1 98.8h.01M384.1 88.4h.01M404.6 72.3h.01M404.8 74.4h.01M384.3 84.2h.01M404.5 102.0h.01M385.5 80.0h.01M393.7 112.1h.01M390.5 63.7h.01M405.0 75.0h.01M406.7 80.1h.01M383.5 85.8h.01M406.5 85.8h.01M386.7 75.4h.01M405.8 74.0h.01M387.9 65.2h.01M386.3 101.5h.01M405.6 96.4h.01M399.6 106.3h.01M401.7 63.0h.01M402.0 73.9h.01M390.6 110.0h.01M395.6 110.0h.01M387.3 67.7h.01M405.6 86.4h.01M405.2 94.8h.01M391.4 61.8h.01M401.7 103.7h.01M403.4 94.5h.01M405.5 78.8h.01M385.2 100.2h.01M403.1 95.0h.01M406.7 87.1h.01M385.2 79.1h.01M384.8 91.6h.01M397.1 110.4h.01M387.4 70.3h.01M394.1 110.8h.01M385.7 69.8h.01M384.0 91.8h.01M405.7 97.2h.01M403.3 80.9h.01M384.1 76.7h.01M392.3 62.9h.01M386.7 101.7h.01M386.3 100.6h.01M406.5 86.3h.01M402.0 104.1h.01M396.7 111.2h.01M405.1 81.9h.01M390.0 109.6h.01M405.7 100.7h.01M406.0 93.8h.01M387.1 94.7h.01M401.8 69.2h.01M406.1 97.6h.01M383.0 89.8h.01M404.5 75.9h.01M398.5 109.9h.01M404.7 73.0h.01M404.4 70.3h.01M398.8 108.4h.01M387.2 68.5h.01M382.9 81.7h.01M403.8 66.0h.01M384.7 89.8h.01M389.4 63.9h.01M406.1 87.0h.01M400.0 59.2h.01M406.2 97.9h.01M403.7 67.5h.01M386.5 67.9h.01M385.5 68.8h.01M385.8 75.8h.01M406.0 83.0h.01M386.5 102.0h.01M388.9 65.0h.01M394.2 110.8h.01M404.5 79.3h.01M402.2 66.5h.01M396.6 64.3h.01M387.5 71.4h.01M387.9 106.5h.01M404.8 75.3h.01M404.4 99.1h.01M405.8 85.7h.01M399.5 59.3h.01M385.7 95.1h.01M405.2 71.0h.01M388.6 67.4h.01M400.5 102.5h.01M406.1 82.4h.01M388.6 100.8h.01M403.1 98.4h.01M389.0 65.4h.01M386.6 72.1h.01M402.4 64.9h.01M407.1 93.0h.01M384.2 96.2h.01M406.5 74.9h.01M406.7 98.7h.01M407.4 92.2h.01M405.8 94.2h.01M391.7 110.9h.01M390.6 110.0h.01M406.8 94.5h.01M388.4 102.7h.01M390.8 65.3h.01M399.3 110.5h.01M404.2 99.2h.01M384.7 79.6h.01M382.3 83.5h.01M399.1 109.9h.01M389.0 67.7h.01M404.1 66.9h.01M406.5 80.2h.01M404.7 75.1h.01M393.1 59.0h.01M386.7 100.7h.01M385.1 79.2h.01M404.8 100.4h.01M387.3 65.1h.01M407.2 85.4h.01M403.1 99.6h.01M385.2 85.3h.01M386.7 104.8h.01M399.9 107.2h.01M404.8 90.5h.01M392.1 111.8h.01M407.4 92.0h.01M392.2 111.2h.01M406.6 71.2h.01M388.5 64.1h.01M392.7 111.3h.01M383.2 83.0h.01M404.7 100.0h.01M388.4 60.0h.01M404.8 101.2h.01M403.8 68.4h.01M401.7 64.3h.01M385.3 79.3h.01M389.7 63.1h.01M386.3 95.1h.01M404.6 82.2h.01M403.9 98.2h.01M401.0 109.3h.01M385.7 88.8h.01M399.5 110.5h.01M406.7 72.9h.01M387.3 103.2h.01M385.3 79.1h.01M396.7 59.4h.01M407.0 79.4h.01M389.4 100.9h.01M385.5 96.2h.01M404.8 101.1h.01M402.8 66.6h.01M385.5 100.0h.01M404.7 73.5h.01M405.8 89.4h.01M396.8 111.1h.01M398.6 108.0h.01M405.5 74.8h.01M405.7 85.0h.01M407.9 89.9h.01M403.3 67.9h.01M393.0 61.1h.01M406.0 93.5h.01M403.2 96.9h.01M405.1 72.3h.01M391.6 110.7h.01M392.7 109.9h.01M406.3 99.9h.01M391.0 60.6h.01M390.7 61.5h.01M407.6 92.5h.01M396.2 61.8h.01M384.1 75.4h.01M390.5 112.6h.01M383.8 91.0h.01M391.2 109.6h.01M388.7 105.9h.01M402.1 68.5h.01M388.5 103.4h.01M403.6 104.2h.01M404.4 98.5h.01M404.3 94.1h.01M393.3 59.6h.01M389.5 64.1h.01M405.7 94.8h.01M382.1 83.6h.01M386.3 69.3h.01M406.8 80.1h.01M393.9 57.9h.01M383.6 81.8h.01M386.8 70.9h.01M405.7 70.2h.01M397.0 109.4h.01M387.0 67.5h.01M388.3 109.2h.01M385.8 98.8h.01M403.4 100.2h.01M383.7 93.4h.01M406.8 90.3h.01M388.5 102.3h.01M386.4 102.5h.01M387.6 67.4h.01M387.1 91.7h.01M385.9 68.0h.01M383.7 88.6h.01M385.1 91.8h.01M407.5 82.4h.01M398.6 110.2h.01M389.9 109.1h.01M385.8 74.3h.01M396.0 60.6h.01M384.8 90.5h.01M406.2 80.7h.01M405.4 97.5h.01M406.5 99.8h.01M394.7 109.4h.01M385.5 74.3h.01M399.7 110.0h.01M401.0 100.8h.01M402.5 105.8h.01M400.0 108.8h.01M407.1 91.8h.01M385.0 96.1h.01M395.2 111.5h.01M406.4 85.4h.01M398.0 63.2h.01M395.9 112.7h.01M390.0 105.6h.01M384.7 83.2h.01M404.7 72.5h.01M407.3 89.1h.01M385.3 99.5h.01M400.0 62.2h.01M388.1 106.1h.01M384.7 74.4h.01M382.5 89.7h.01M383.5 82.7h.01M387.9 101.4h.01M393.0 110.9h.01M390.8 108.5h.01M406.5 92.2h.01M383.8 89.2h.01M388.2 66.8h.01M407.7 90.5h.01M402.9 64.3h.01M387.3 66.5h.01M397.0 59.1h.01M401.7 62.6h.01M408.0 82.8h.01M405.6 87.2h.01M405.6 69.0h.01M384.7 97.0h.01M387.1 62.8h.01M387.3 72.1h.01M404.6 101.1h.01M397.3 61.3h.01M384.7 92.2h.01M387.5 70.0h.01M405.4 97.2h.01M388.7 103.7h.01M385.5 79.2h.01M392.6 61.6h.01M386.9 78.5h.01M384.5 90.2h.01M405.0 100.9h.01M403.4 70.4h.01M401.2 68.3h.01M389.5 63.5h.01M407.7 85.1h.01M383.9 92.2h.01M400.5 107.7h.01M406.4 91.1h.01M390.9 62.7h.01M386.7 91.5h.01M404.9 75.2h.01M385.9 73.6h.01M396.9 110.2h.01M382.9 91.7h.01M391.3 110.6h.01M398.8 64.6h.01M385.9 73.8h.01M384.5 90.3h.01M386.9 99.2h.01M382.9 77.6h.01M384.0 81.8h.01M387.8 65.8h.01M386.3 68.2h.01M400.7 65.1h.01M404.8 90.9h.01M402.1 69.7h.01M391.1 111.5h.01M391.8 62.3h.01M404.8 71.2h.01M387.5 103.9h.01M391.5 107.8h.01M385.7 92.4h.01M404.6 74.4h.01M386.0 100.0h.01M384.9 75.7h.01M386.8 100.4h.01M383.6 99.9h.01M407.4 91.0h.01M401.1 66.0h.01M385.6 94.7h.01M406.0 87.0h.01M396.5 111.7h.01M385.4 72.6h.01M385.5 76.0h.01M406.7 90.8h.01M406.5 81.2h.01M407.7 87.2h.01M389.5 66.8h.01M403.3 103.2h.01M405.5 80.3h.01M401.8 67.5h.01M389.4 106.1h.01M405.9 84.6h.01M405.7 96.9h.01M400.1 109.5h.01M405.0 77.8h.01M403.7 105.2h.01M402.1 66.7h.01M406.2 90.3h.01M384.1 93.6h.01M397.3 111.4h.01M404.0 71.1h.01M404.0 101.1h.01M392.7 62.8h.01M385.3 85.7h.01M384.8 79.1h.01M386.0 74.3h.01M402.7 65.3h.01M385.9 102.0h.01M387.0 71.2h.01M386.6 72.6h.01M385.4 99.1h.01M407.6 90.1h.01M384.9 87.7h.01M403.2 69.8h.01M395.6 62.4h.01M384.4 77.0h.01M399.6 108.9h.01M391.3 59.9h.01M384.7 76.1h.01M385.2 69.4h.01M407.3 102.3h.01M405.8 86.2h.01M404.1 101.6h.01M383.9 77.9h.01M395.7 109.6h.01M386.6 69.9h.01M402.6 65.0h.01M404.8 100.0h.01M382.7 79.5h.01M406.8 76.3h.01M387.4 69.2h.01M404.7 77.0h.01M405.1 85.7h.01M381.7 91.7h.01M383.4 78.1h.01M396.4 108.2h.01M387.6 69.7h.01M385.7 99.0h.01M388.1 101.3h.01M405.5 79.1h.01M399.9 110.4h.01M405.7 85.1h.01M386.0 83.3h.01M384.5 73.4h.01M401.7 110.2h.01M405.3 87.8h.01M406.0 94.8h.01M387.8 70.4h.01M402.5 68.0h.01M386.0 81.5h.01M405.9 85.6h.01M387.9 77.6h.01M403.7 100.5h.01M405.7 74.1h.01M388.4 106.6h.01M391.8 111.0h.01M384.9 93.4h.01M406.3 82.0h.01M402.5 67.1h.01M407.0 84.3h.01M402.2 106.8h.01M399.1 111.4h.01M407.1 82.0h.01M392.3 111.8h.01M402.9 67.8h.01M386.1 74.0h.01M399.8 108.0h.01M405.1 93.5h.01M385.3 73.8h.01M402.8 108.6h.01M385.3 78.3h.01M405.4 74.7h.01M382.8 88.9h.01M396.5 61.2h.01M388.3 103.7h.01M402.1 67.6h.01M386.7 75.0h.01M397.8 62.9h.01M384.3 88.4h.01M388.1 64.0h.01M384.0 76.3h.01M403.5 68.9h.01M385.8 93.8h.01M403.2 101.8h.01M385.1 100.9h.01M401.2 106.5h.01M383.5 90.0h.01M405.8 83.6h.01M403.7 105.2h.01M404.1 67.7h.01M403.8 98.9h.01M403.5 66.7h.01M383.7 77.5h.01M397.5 60.1h.01M397.7 60.6h.01M402.8 69.2h.01M397.2 113.0h.01M385.5 98.4h.01M385.5 83.8h.01M389.6 66.2h.01M383.3 92.3h.01M384.5 97.7h.01M384.0 76.7h.01M387.5 66.0h.01M397.3 110.2h.01M395.4 110.3h.01M401.9 65.5h.01M390.8 63.0h.01M400.7 66.6h.01M401.8 68.0h.01M407.4 92.1h.01M385.7 79.4h.01M404.3 99.4h.01M390.4 107.6h.01M408.3 81.8h.01M406.5 88.2h.01M400.6 104.5h.01M404.7 71.5h.01M398.7 107.4h.01M406.3 94.3h.01M405.7 74.3h.01M406.3 91.5h.01M400.3 61.6h.01M405.3 83.0h.01M384.3 94.2h.01M401.5 109.4h.01M385.9 74.0h.01M386.5 105.3h.01M402.4 64.7h.01M402.3 110.2h.01M385.8 86.6h.01M403.8 75.7h.01M384.2 82.1h.01M383.7 79.0h.01M401.5 63.2h.01M391.9 61.9h.01M384.7 93.2h.01M406.0 82.2h.01M390.8 63.8h.01M403.6 98.0h.01M404.2 88.1h.01M390.4 66.2h.01M388.8 67.3h.01M384.7 80.2h.01M384.8 81.5h.01M386.6 102.4h.01M384.6 94.2h.01M405.1 79.6h.01M382.1 79.5h.01M384.7 91.8h.01M403.9 69.3h.01M402.9 101.4h.01M405.0 98.3h.01M382.5 86.2h.01M402.7 93.8h.01M406.3 82.0h.01M389.0 65.9h.01M385.4 83.1h.01M383.4 85.4h.01M386.5 100.6h.01M384.9 91.9h.01M385.3 73.2h.01M405.0 92.6h.01M384.8 76.6h.01M390.2 106.7h.01M407.1 73.7h.01M386.2 68.5h.01M402.6 67.4h.01M384.3 92.2h.01M397.5 109.9h.01M392.6 108.6h.01M385.4 93.4h.01M394.8 60.7h.01M393.0 108.5h.01M394.2 61.5h.01M406.1 78.5h.01M389.9 106.1h.01" stroke="#ff4d27"/><path d="M392.4 62.5h.01M402.0 63.5h.01M391.5 107.7h.01M399.6 72.7h.01M405.8 97.7h.01M401.9 93.0h.01M388.4 70.6h.01" stroke="#67fcc2"/><path d="M388.0 92.3h.01M399.1 74.5h.01M392.8 78.4h.01M393.7 99.4h.01M387.9 106.8h.01M402.2 67.3h.01M400.0 82.7h.01" stroke="#ff964f"/><path d="M411.4 72.2h.01M410.4 87.3h.01M411.3 99.5h.01M408.9 103.5h.01M410.7 75.8h.01M410.9 93.3h.01M409.4 101.3h.01M410.2 63.4h.01M410.6 88.5h.01M408.9 89.9h.01M409.1 82.7h.01M410.0 93.2h.01M410.5 104.7h.01M409.3 76.9h.01M410.6 87.0h.01M408.5 104.0h.01M410.2 74.8h.01M410.1 73.4h.01M408.6 75.0h.01M411.8 86.2h.01M411.3 71.7h.01M409.7 64.4h.01M410.4 61.5h.01M408.9 68.3h.01M410.6 107.4h.01M409.0 101.9h.01M409.7 88.5h.01M409.1 86.3h.01M410.2 76.3h.01M410.9 88.7h.01M410.6 102.3h.01M409.9 94.6h.01M409.4 89.9h.01M409.6 65.5h.01M411.2 86.7h.01M411.0 70.4h.01M411.0 81.3h.01M410.3 89.3h.01M410.6 80.1h.01M410.4 108.7h.01M409.0 90.9h.01M408.7 88.4h.01M408.1 87.6h.01M408.0 109.8h.01M409.5 87.4h.01M410.0 75.8h.01M409.7 91.0h.01M411.8 70.7h.01M410.6 74.3h.01M411.1 85.2h.01M410.2 95.9h.01M408.9 69.6h.01M409.8 90.6h.01M407.5 77.5h.01M411.8 96.2h.01M409.4 96.0h.01M410.1 74.6h.01M409.6 69.1h.01M408.9 79.9h.01M409.9 93.5h.01M407.7 98.6h.01M410.6 89.5h.01M409.5 60.5h.01M410.3 108.8h.01M409.7 77.6h.01M410.2 91.1h.01M409.5 105.7h.01M409.0 93.3h.01M408.4 96.3h.01M409.7 108.3h.01M408.8 91.9h.01M408.5 66.6h.01M408.6 88.1h.01M411.8 106.7h.01M410.6 68.6h.01M410.4 71.6h.01M409.0 92.8h.01M409.9 97.4h.01M410.1 78.5h.01M411.2 81.6h.01M408.5 93.1h.01M410.9 81.1h.01M410.1 79.4h.01M407.8 77.9h.01M410.6 94.2h.01M410.2 94.6h.01M410.2 74.8h.01M408.2 89.8h.01M409.9 76.6h.01M408.2 102.5h.01" stroke="#ff4d27"/><path d="M415.4 107.1h.01M414.8 107.1h.01M414.5 108.5h.01M414.7 105.7h.01M414.8 108.0h.01M415.6 108.5h.01M416.2 107.4h.01M416.0 103.8h.01M415.4 109.0h.01M415.8 106.3h.01M415.0 109.0h.01M415.2 107.1h.01M415.9 109.0h.01M414.9 106.3h.01" stroke="#8000ff"/><path d="M386.9 113.8h.01M387.2 113.1h.01M387.8 113.9h.01M389.8 113.3h.01M388.9 113.1h.01M391.1 113.2h.01M387.3 113.2h.01M390.8 114.4h.01M388.4 112.6h.01M389.5 114.4h.01M385.5 114.2h.01M390.4 113.0h.01M390.8 113.4h.01M391.4 113.1h.01M387.9 113.7h.01M391.9 113.0h.01M387.7 113.3h.01M389.8 114.6h.01M388.2 113.8h.01M391.0 114.4h.01" stroke="#67fcc2"/><path d="M419.5 66.3h.01M359.3 76.7h.01M403.5 116.7h.01" stroke="#ff4d27"/><path d="M419.7 104.4h.01M423.8 107.1h.01M429.1 106.0h.01M431.3 105.1h.01M422.4 112.4h.01M427.0 111.9h.01M429.1 110.8h.01M355.5 69.2h.01" stroke="#ff964f"/><path d="M371.5 62.3h.01M368.3 75.6h.01M365.7 77.9h.01M371.0 84.7h.01M416.3 114.0h.01" stroke="#18cde4"/><path d="M370.8 56.2h.01M377.9 59.8h.01M401.4 115.6h.01" stroke="#8000ff"/><path d="M373.7 74.0h.01M372.6 79.7h.01" stroke="#4e4dfc"/></g></g>
<g clip-path="url(#cr)"><g fill="none" stroke-width="2.25" stroke-linecap="round"><path d="M834.8 289.3h.01M861.1 293.4h.01M828.8 285.6h.01M850.1 294.9h.01M821.3 299.5h.01M824.7 294.6h.01M806.6 308.8h.01M859.4 293.9h.01M848.5 289.9h.01M846.7 284.7h.01M827.1 284.0h.01M798.9 283.8h.01M833.6 284.0h.01M823.9 295.6h.01M823.4 288.4h.01M842.2 288.4h.01M837.7 299.7h.01M795.6 283.0h.01M812.2 303.1h.01M851.8 313.0h.01M812.7 296.9h.01M806.8 291.7h.01M801.2 288.1h.01M825.6 308.4h.01M838.6 297.8h.01M858.9 302.4h.01M822.3 304.1h.01M804.6 287.8h.01M839.8 298.0h.01M811.0 309.3h.01M858.3 298.1h.01M850.5 306.7h.01M808.1 286.3h.01M823.2 283.2h.01M816.4 288.1h.01M854.6 299.2h.01M818.2 292.1h.01M820.0 287.4h.01M802.8 309.5h.01M825.5 307.3h.01M795.9 292.0h.01M849.5 312.6h.01M824.5 291.8h.01M857.8 310.9h.01M853.0 297.4h.01M844.0 295.3h.01M855.6 306.6h.01M835.6 306.2h.01M847.3 298.3h.01M854.3 311.9h.01M827.5 302.5h.01M826.8 293.3h.01M840.4 293.9h.01M808.1 301.5h.01M835.8 309.1h.01M816.3 288.1h.01M847.9 285.7h.01M847.5 312.8h.01M800.7 308.3h.01M856.8 301.0h.01M859.3 313.1h.01M830.0 299.4h.01M812.4 304.6h.01M843.4 286.5h.01M815.8 309.0h.01M833.6 307.0h.01M841.8 311.8h.01M828.6 301.1h.01M856.5 308.6h.01M852.5 290.1h.01" stroke="#8000ff"/><path d="M804.8 309.6h.01M829.8 306.6h.01M853.8 309.2h.01M808.1 309.7h.01M805.1 290.3h.01M856.6 292.9h.01M847.7 299.4h.01M815.1 300.6h.01M824.3 301.0h.01M856.8 295.8h.01M816.6 297.3h.01M854.7 284.7h.01M856.5 300.6h.01M820.1 296.2h.01M841.4 293.3h.01M798.7 305.1h.01M857.3 299.7h.01M838.1 312.6h.01M821.7 296.5h.01M806.0 310.7h.01M852.7 307.8h.01M823.4 294.6h.01M836.6 312.4h.01M840.5 307.0h.01M844.9 305.2h.01M824.6 287.2h.01M818.7 304.6h.01M837.8 312.1h.01M832.6 299.7h.01M857.0 298.6h.01M821.3 304.8h.01M824.3 308.3h.01M819.1 297.3h.01M801.2 294.9h.01M839.4 305.9h.01M840.7 286.7h.01M824.3 283.0h.01M841.3 288.3h.01M816.7 291.2h.01M840.1 295.2h.01M845.0 294.3h.01M856.6 308.5h.01M812.0 303.6h.01M845.3 305.0h.01M836.0 293.4h.01M817.7 287.2h.01M800.1 290.8h.01M860.3 283.1h.01M824.4 295.6h.01M850.8 313.4h.01M859.5 303.5h.01M859.6 300.0h.01M809.9 309.9h.01M813.1 285.3h.01M829.2 284.5h.01M851.5 307.0h.01M848.2 300.9h.01M814.1 311.3h.01M821.5 304.5h.01M804.3 282.7h.01M837.4 294.9h.01M801.7 295.2h.01M833.8 301.4h.01M833.5 289.7h.01M834.1 290.6h.01M804.0 285.7h.01M801.9 311.1h.01M837.2 290.4h.01M806.3 311.3h.01M834.1 290.5h.01M805.1 284.9h.01M811.8 311.1h.01M860.8 313.3h.01M810.5 293.7h.01M840.5 301.7h.01M820.9 289.7h.01M848.4 303.5h.01M837.0 302.1h.01M824.3 294.9h.01M831.1 305.3h.01" stroke="#4e4dfc"/><path d="M854.7 292.0h.01M829.0 292.0h.01M814.0 306.0h.01M848.1 296.8h.01M846.7 291.3h.01M840.6 305.2h.01M795.6 296.8h.01M809.9 288.5h.01M813.1 297.2h.01M798.6 304.3h.01M837.5 301.9h.01M805.4 300.1h.01M835.6 305.6h.01M824.0 304.9h.01M828.5 282.8h.01M819.4 287.8h.01M828.6 298.4h.01M860.5 297.0h.01M807.9 290.3h.01M809.1 289.5h.01M831.8 307.5h.01M817.9 290.0h.01M850.2 294.6h.01M835.7 304.2h.01M842.7 306.6h.01M855.3 282.7h.01M820.3 285.9h.01M855.3 310.5h.01M795.9 296.9h.01M798.4 283.9h.01M801.6 294.7h.01M822.8 287.9h.01M846.1 298.8h.01M801.2 290.1h.01M834.9 302.8h.01M831.9 309.8h.01M827.3 300.6h.01M854.7 311.6h.01M857.3 299.1h.01M813.8 312.0h.01M861.3 298.9h.01M830.6 301.1h.01M856.9 288.5h.01M844.3 301.1h.01M812.3 282.7h.01M794.7 301.5h.01M812.2 289.9h.01M854.5 285.1h.01M816.8 299.7h.01M830.8 307.9h.01M858.2 286.1h.01M848.3 286.7h.01M858.3 285.1h.01M844.6 306.2h.01M830.0 297.4h.01M840.3 303.2h.01M809.3 300.8h.01M836.4 306.3h.01M858.3 285.2h.01M805.6 283.6h.01M807.7 311.6h.01M798.4 308.9h.01M851.8 298.1h.01M815.8 298.7h.01M820.0 294.8h.01M808.1 312.1h.01M828.4 298.6h.01M847.3 298.3h.01M838.9 306.6h.01M849.2 296.9h.01M801.6 299.4h.01M816.1 291.3h.01M838.9 303.8h.01M829.4 299.0h.01M811.1 305.6h.01M832.5 312.2h.01M803.2 289.3h.01M811.7 307.4h.01M854.3 302.9h.01M802.6 308.5h.01" stroke="#18cde4"/><path d="M855.4 305.9h.01M836.0 311.2h.01M808.0 307.7h.01M816.9 291.0h.01M824.7 307.9h.01M859.3 285.4h.01M840.8 298.9h.01M826.6 307.3h.01M800.1 309.8h.01M856.3 307.9h.01M812.5 287.7h.01M805.3 302.6h.01M816.4 283.4h.01M853.9 297.7h.01M816.1 298.9h.01M797.1 304.5h.01M818.4 304.2h.01M842.4 289.7h.01M815.2 298.7h.01M858.8 312.7h.01M800.3 313.0h.01M857.6 304.5h.01M839.3 313.0h.01M861.1 288.2h.01M819.0 305.7h.01M842.5 287.1h.01M842.4 285.6h.01M815.5 284.8h.01M843.7 303.0h.01M859.5 300.6h.01M814.1 290.8h.01M813.3 310.5h.01M829.6 306.4h.01M801.0 289.7h.01M835.1 311.6h.01M829.4 283.8h.01M858.7 296.7h.01M830.8 304.1h.01M802.9 295.9h.01M832.1 283.9h.01M805.7 299.7h.01M839.1 296.7h.01M811.5 293.1h.01M797.4 297.0h.01M806.2 302.1h.01M841.4 287.9h.01M811.1 281.9h.01M796.6 289.0h.01M811.8 285.7h.01M828.1 291.6h.01M856.9 292.9h.01M825.3 290.5h.01M845.2 303.5h.01M847.5 309.1h.01M802.0 306.6h.01M801.6 295.4h.01M821.1 301.4h.01M845.6 288.6h.01M833.7 301.9h.01M845.2 290.4h.01M857.0 284.1h.01M834.2 288.9h.01M852.0 311.3h.01M859.9 297.7h.01M821.5 296.8h.01M833.5 298.7h.01M827.6 310.4h.01M809.8 306.0h.01M832.8 289.5h.01M853.5 285.5h.01M841.3 297.7h.01M842.1 305.2h.01M824.2 305.4h.01M820.5 308.2h.01M843.3 305.8h.01M810.7 306.1h.01M829.8 282.9h.01M802.1 304.5h.01M806.7 306.0h.01M807.3 292.6h.01M829.6 306.3h.01M856.0 288.1h.01M832.2 282.6h.01M858.0 286.9h.01M819.7 311.1h.01M809.5 296.2h.01M832.0 312.3h.01M843.6 312.3h.01M841.4 289.8h.01M805.7 308.1h.01M818.0 297.1h.01M847.1 301.6h.01M852.1 283.0h.01M836.0 308.2h.01M797.8 308.1h.01M801.8 282.0h.01M851.2 289.6h.01M851.9 311.2h.01M856.7 301.8h.01M820.2 310.3h.01" stroke="#67fcc2"/><path d="M855.3 304.3h.01M858.4 306.6h.01M855.4 314.2h.01M862.0 287.5h.01M851.3 280.5h.01M858.5 311.6h.01M855.4 280.9h.01M852.8 302.8h.01M858.6 304.4h.01M858.8 308.2h.01M858.1 297.5h.01M854.8 302.4h.01M851.5 286.4h.01M854.4 295.5h.01M848.0 301.4h.01M852.3 313.2h.01M852.8 288.8h.01M861.1 290.5h.01M859.0 305.5h.01M857.6 293.1h.01M855.1 303.0h.01M851.5 294.0h.01M854.8 303.1h.01M854.5 309.8h.01M852.3 308.9h.01M852.6 291.4h.01M851.8 312.0h.01M855.1 288.0h.01M860.7 299.6h.01M855.2 301.5h.01M852.3 315.5h.01M853.1 292.1h.01M859.0 307.6h.01M855.5 302.0h.01M852.8 296.2h.01M854.6 305.1h.01M855.9 286.3h.01" stroke="#67fcc2"/><path d="M859.5 301.7h.01M856.9 295.1h.01M850.7 305.4h.01M858.9 287.3h.01M855.6 297.9h.01M854.7 281.0h.01M857.0 308.0h.01M853.8 311.7h.01M854.1 303.0h.01M856.0 297.7h.01M849.2 285.9h.01M856.2 286.7h.01M856.4 297.8h.01M859.6 292.0h.01M859.2 293.7h.01M857.2 307.2h.01M853.3 300.1h.01M857.3 300.3h.01M858.6 285.9h.01M851.6 302.4h.01M851.3 294.5h.01M854.6 288.8h.01M860.1 297.9h.01M858.8 308.2h.01M856.6 292.2h.01M855.4 294.8h.01M857.7 295.7h.01M860.3 302.4h.01" stroke="#18cde4"/><path d="M861.5 307.6h.01M859.0 301.9h.01M856.6 299.8h.01M861.7 301.8h.01M857.4 297.0h.01M860.3 296.3h.01M854.8 298.3h.01M857.0 298.6h.01M861.5 301.4h.01M861.5 291.3h.01M858.6 296.9h.01M860.7 290.0h.01M856.1 295.2h.01M859.4 294.8h.01" stroke="#8000ff"/><path d="M799.2 290.0h.01M805.2 282.0h.01M806.8 289.4h.01M815.7 286.8h.01M818.1 288.1h.01M804.3 288.3h.01M810.9 286.4h.01M801.6 287.8h.01M799.0 284.8h.01M816.8 285.1h.01M819.5 289.4h.01M803.7 285.0h.01M803.8 285.5h.01M804.7 292.5h.01M816.8 288.3h.01M817.1 287.2h.01M803.8 293.3h.01M803.5 282.9h.01M801.3 283.1h.01M797.8 284.2h.01M801.5 283.0h.01M804.6 289.6h.01M808.4 286.6h.01M813.8 283.0h.01M813.6 284.9h.01M809.7 287.9h.01M812.4 284.2h.01M807.8 288.4h.01M815.9 279.6h.01M817.2 287.1h.01M800.2 284.2h.01M797.0 292.5h.01M809.4 285.5h.01M808.9 286.6h.01M806.8 286.8h.01M817.2 281.3h.01M816.3 285.6h.01M806.2 284.7h.01M801.2 289.6h.01M796.4 281.3h.01M811.9 280.7h.01M812.1 292.4h.01M802.7 282.6h.01M810.3 287.8h.01M814.0 286.6h.01M809.4 281.3h.01M814.7 281.9h.01M818.3 283.5h.01M802.2 284.1h.01M792.8 286.6h.01M802.4 285.8h.01M807.5 285.1h.01M807.3 286.7h.01M806.3 289.7h.01M798.4 284.4h.01M805.0 288.5h.01M818.4 289.0h.01M812.0 286.4h.01M822.2 289.0h.01M801.4 279.9h.01M807.0 279.8h.01M811.2 283.0h.01M795.9 286.7h.01M800.3 287.1h.01M809.3 287.9h.01M798.4 287.0h.01M805.8 293.5h.01M802.1 281.2h.01M818.3 288.8h.01M809.0 290.4h.01" stroke="#ff964f"/><path d="M850.6 286.4h.01M841.7 288.2h.01M820.1 290.5h.01M831.9 287.3h.01M861.1 285.7h.01M834.3 288.7h.01M841.3 284.9h.01M823.9 289.4h.01M834.3 292.0h.01M843.4 287.6h.01M838.8 289.2h.01M834.1 290.8h.01M838.0 286.3h.01M837.2 293.1h.01M838.0 290.7h.01M842.4 283.3h.01M850.9 285.1h.01M832.6 290.1h.01M849.4 291.6h.01M828.0 288.0h.01M857.3 287.4h.01M857.3 291.2h.01M840.7 289.4h.01M840.2 287.8h.01M820.7 286.3h.01M837.1 291.8h.01M831.5 292.7h.01M819.3 287.4h.01M827.0 290.7h.01M856.6 288.1h.01M834.3 287.7h.01M842.7 286.0h.01M828.3 289.5h.01M835.4 289.8h.01M832.4 291.6h.01M832.7 289.8h.01M817.8 288.4h.01M834.5 285.8h.01M834.6 284.8h.01M848.0 288.3h.01M835.2 285.1h.01M827.1 292.3h.01M857.5 286.6h.01M841.7 289.1h.01M842.6 287.5h.01M827.7 290.3h.01M841.5 288.9h.01M828.1 291.3h.01M852.9 288.4h.01" stroke="#ff964f"/><path d="M802.8 288.5 804.6 286.2 809.2 284.8 814.7 285.7 820.2 288.0 827.5 288.6 833.0 290.3 838.5 292.1 843.9 293.9 850.3 296.5 854.5 297.8 854.5 303.3 850.3 304.7 845.8 306.3 838.5 307.7 829.3 308.1 820.2 307.8 811.0 307.7 803.7 306.3 802.3 301.3 802.8 294.9Z" fill="#ff4d27" stroke="none"/><path d="M822.0 308.0h.01M835.9 310.9h.01M808.3 283.9h.01M842.6 290.8h.01M848.6 305.3h.01M838.4 288.9h.01M838.1 311.5h.01M797.5 290.4h.01M832.0 308.8h.01M803.4 308.2h.01M825.1 287.0h.01M830.1 291.3h.01M851.4 303.3h.01M820.4 307.5h.01M799.4 291.9h.01M852.7 305.5h.01M829.1 308.1h.01M818.3 288.2h.01M842.1 307.9h.01M827.7 308.0h.01M816.3 310.1h.01M836.1 308.0h.01M800.6 282.9h.01M821.6 286.9h.01M851.8 306.0h.01M854.6 298.6h.01M828.7 311.2h.01M827.0 287.2h.01M799.1 301.5h.01M819.5 287.3h.01M842.8 305.2h.01M844.1 306.2h.01M833.7 309.2h.01M846.8 295.1h.01M837.1 310.8h.01M816.2 310.1h.01M811.0 310.6h.01M809.3 308.0h.01M843.4 308.2h.01M800.3 286.0h.01M807.2 285.5h.01M836.9 292.1h.01M801.1 284.4h.01M850.1 306.9h.01M847.3 304.3h.01M847.4 305.7h.01M808.4 283.4h.01M841.5 309.2h.01M833.7 289.0h.01M840.2 291.2h.01M819.5 307.9h.01M842.0 307.4h.01M826.9 286.8h.01M834.5 310.1h.01M849.7 295.3h.01M847.5 294.1h.01M823.7 308.6h.01M824.9 307.5h.01M837.5 288.1h.01M856.4 298.1h.01M852.3 295.5h.01M844.3 308.3h.01M826.2 308.5h.01M835.1 289.9h.01M838.4 309.9h.01M842.7 308.0h.01M810.2 283.4h.01M815.2 285.2h.01M852.1 296.1h.01M846.1 305.3h.01M851.2 303.7h.01M860.4 304.3h.01M802.8 284.2h.01M842.8 293.7h.01M826.0 308.2h.01M839.8 290.8h.01M837.1 291.4h.01M832.4 288.2h.01M804.4 283.4h.01M850.4 306.7h.01M799.5 299.7h.01M836.4 310.8h.01M835.0 290.2h.01M797.2 286.6h.01M811.0 282.2h.01M851.1 305.3h.01M808.7 283.9h.01M820.0 309.5h.01M844.5 293.9h.01M802.8 305.6h.01M852.0 296.8h.01M814.0 285.2h.01M827.1 307.6h.01M828.4 306.4h.01M819.6 289.6h.01M830.8 310.0h.01M800.4 294.8h.01M847.3 307.8h.01M839.8 291.3h.01M817.7 307.9h.01M804.4 306.6h.01M834.1 309.1h.01M803.2 299.7h.01M843.3 293.9h.01M838.3 291.2h.01M836.0 310.1h.01M803.7 307.8h.01M834.4 287.8h.01M809.9 307.8h.01M822.3 308.0h.01M845.0 294.6h.01M852.0 294.6h.01M830.6 309.8h.01M830.2 310.3h.01M836.9 308.8h.01M837.0 289.5h.01M800.8 296.3h.01M823.9 285.7h.01M852.2 296.6h.01M851.5 309.4h.01M844.0 294.4h.01M833.3 288.7h.01M810.9 309.7h.01M803.3 302.4h.01M802.5 309.2h.01M856.8 301.0h.01M838.6 292.2h.01M803.7 302.5h.01M831.1 308.5h.01M834.5 307.3h.01M837.1 307.5h.01M828.2 288.7h.01M816.0 306.7h.01M810.6 284.3h.01M805.2 308.2h.01M848.1 293.7h.01M835.6 308.7h.01M839.4 293.0h.01M851.1 294.3h.01M842.2 308.4h.01M802.9 287.9h.01M858.8 305.1h.01M814.0 307.9h.01M836.8 310.8h.01M827.8 287.8h.01M824.1 286.3h.01M847.0 310.0h.01M813.5 284.4h.01M839.9 290.9h.01M813.2 284.4h.01M805.4 308.9h.01M817.6 306.4h.01M838.4 291.2h.01M854.0 303.8h.01M802.5 294.1h.01M834.8 291.9h.01M801.7 305.7h.01M833.1 291.2h.01M831.3 308.7h.01M805.2 306.6h.01M823.8 288.0h.01M800.5 292.9h.01M814.7 283.3h.01M845.9 306.4h.01M827.8 288.9h.01M834.9 309.2h.01M827.9 308.1h.01M828.1 308.6h.01M810.6 285.3h.01M838.6 308.1h.01M853.9 295.8h.01M806.3 285.9h.01M799.7 282.7h.01M854.1 298.2h.01M827.4 312.5h.01M835.5 290.6h.01M795.5 304.1h.01M846.4 307.7h.01M806.2 307.2h.01M812.4 285.1h.01M801.0 286.8h.01M830.9 309.5h.01M806.8 284.4h.01M850.5 305.1h.01M833.8 290.2h.01M837.2 289.1h.01M802.2 290.1h.01M826.7 288.5h.01M807.2 285.3h.01M798.3 287.2h.01M859.9 298.9h.01M846.2 307.4h.01M819.9 284.8h.01M828.1 309.4h.01M856.2 294.3h.01M821.7 308.9h.01M848.3 292.9h.01M847.6 305.6h.01M853.5 295.6h.01M799.1 285.1h.01M834.4 306.8h.01M854.4 296.9h.01M817.9 308.9h.01M828.9 286.7h.01M807.2 284.2h.01M816.5 285.5h.01M842.5 306.7h.01M808.2 310.1h.01M840.1 307.6h.01M821.9 289.3h.01M833.9 290.0h.01M854.0 294.8h.01M811.8 284.5h.01M841.9 307.3h.01M807.0 308.5h.01M801.2 287.2h.01M801.5 301.0h.01M804.3 310.6h.01M796.5 294.2h.01M812.2 309.4h.01M849.7 295.5h.01M809.3 284.5h.01M860.6 306.0h.01M852.7 304.2h.01M818.7 288.0h.01M821.9 311.6h.01M795.6 303.0h.01M844.4 311.1h.01M808.6 283.8h.01M833.1 287.3h.01M798.9 294.2h.01M825.0 310.2h.01M851.7 307.7h.01M800.0 302.2h.01M831.4 290.7h.01M813.7 308.6h.01M849.9 295.0h.01M808.0 308.9h.01M810.0 284.9h.01M852.4 306.7h.01M819.5 311.8h.01M817.9 307.6h.01M838.9 307.9h.01M805.5 286.1h.01M801.9 301.5h.01M839.5 308.0h.01M829.8 287.9h.01M855.7 302.2h.01M822.4 308.7h.01M809.0 308.5h.01M808.1 306.7h.01M823.6 310.2h.01M796.9 298.0h.01M801.3 309.5h.01M809.8 307.2h.01M838.3 293.2h.01M832.1 309.1h.01M844.1 293.3h.01M842.0 308.1h.01M800.4 306.3h.01M813.6 308.0h.01M840.2 306.0h.01M806.0 286.7h.01M845.8 309.2h.01M807.0 285.7h.01M834.7 290.8h.01M814.1 309.5h.01M838.2 308.5h.01M814.7 309.5h.01M824.6 307.1h.01M854.8 298.4h.01M814.2 285.7h.01M816.4 285.7h.01M805.2 305.9h.01M809.9 283.3h.01M833.4 310.4h.01M803.6 299.7h.01M811.7 285.3h.01M847.4 296.9h.01M838.8 308.5h.01M841.7 305.6h.01M806.6 286.0h.01M807.0 283.8h.01M827.0 307.8h.01M809.8 307.3h.01M827.7 288.1h.01M856.6 297.0h.01M817.7 308.3h.01M829.3 288.8h.01M854.9 306.1h.01M797.1 283.5h.01M840.4 308.8h.01M838.2 310.5h.01M846.3 307.1h.01M801.1 298.1h.01M846.5 309.6h.01M802.7 296.6h.01M857.4 299.3h.01M815.0 309.5h.01M815.0 285.2h.01M856.1 302.7h.01M798.2 303.4h.01M850.2 304.6h.01M850.0 305.3h.01M821.8 287.7h.01M860.7 302.9h.01M837.3 309.2h.01M841.5 310.0h.01M825.1 285.4h.01M843.3 306.9h.01M806.9 306.3h.01M808.6 283.6h.01M800.2 296.2h.01M823.0 308.7h.01M800.3 286.7h.01M804.6 286.3h.01M849.7 305.6h.01M817.0 285.3h.01M806.6 307.9h.01M838.6 288.5h.01M835.4 289.9h.01M828.8 289.6h.01M820.2 287.2h.01M820.5 307.9h.01M837.3 306.7h.01M822.5 287.1h.01M824.4 288.5h.01M852.1 296.5h.01M798.6 291.4h.01M804.5 307.5h.01M819.6 306.9h.01M831.8 310.5h.01M839.7 290.2h.01M833.8 309.4h.01M842.5 292.0h.01M855.1 305.8h.01M821.5 308.3h.01M835.8 292.2h.01M833.3 289.6h.01M847.3 306.6h.01M817.0 284.6h.01M803.9 282.3h.01M800.9 294.3h.01M828.5 311.3h.01M835.3 290.1h.01M834.0 292.9h.01M798.6 306.9h.01M823.1 286.7h.01M816.4 310.4h.01M801.5 308.0h.01M816.8 310.3h.01M834.5 309.0h.01M848.4 306.5h.01M811.0 305.9h.01M849.7 308.7h.01M849.1 293.6h.01M848.0 306.9h.01M853.2 307.0h.01M833.0 309.2h.01M822.9 290.7h.01M854.6 301.9h.01M801.1 293.1h.01M821.5 311.0h.01M798.8 287.8h.01M819.8 288.9h.01M854.3 305.6h.01M800.3 296.9h.01M853.3 304.9h.01M798.9 302.3h.01M857.2 295.6h.01M799.4 287.0h.01M844.9 310.1h.01M796.8 298.3h.01M826.5 307.3h.01M817.6 287.3h.01M852.8 295.6h.01M815.6 287.1h.01M813.9 308.4h.01M839.8 309.7h.01M842.2 308.2h.01M853.6 304.3h.01M820.9 288.9h.01M798.7 294.1h.01M810.2 284.6h.01M801.3 300.0h.01M820.6 287.9h.01M810.0 309.1h.01M851.5 306.4h.01M817.2 284.9h.01M854.2 302.5h.01M858.1 296.9h.01M836.5 309.0h.01M826.7 310.1h.01M853.4 295.0h.01M831.9 287.8h.01M832.0 286.6h.01M820.4 308.5h.01M854.7 304.6h.01M815.6 308.2h.01M849.5 307.0h.01M816.8 284.7h.01M798.2 293.7h.01M857.2 299.3h.01M848.2 306.2h.01M803.3 304.7h.01M860.4 301.4h.01M855.7 305.7h.01M797.4 298.6h.01M857.4 305.2h.01M857.4 304.8h.01M846.2 308.3h.01M797.5 299.7h.01M800.6 283.7h.01M833.3 287.2h.01M836.8 288.9h.01M826.0 288.3h.01M851.5 297.7h.01M798.4 286.5h.01M822.4 308.4h.01M851.8 295.8h.01M807.3 283.8h.01M844.9 296.5h.01M850.4 304.7h.01M810.5 310.9h.01M811.9 309.9h.01M809.6 283.3h.01M803.5 305.4h.01M846.7 292.7h.01M855.4 304.1h.01M805.4 283.7h.01M799.3 301.8h.01M844.0 307.9h.01M843.4 293.9h.01M837.0 307.4h.01M846.7 291.0h.01M845.7 294.9h.01M845.8 295.0h.01M824.0 288.4h.01M844.5 294.0h.01M818.4 285.2h.01M831.8 310.8h.01M853.3 304.0h.01M837.2 310.1h.01M811.3 284.9h.01M837.0 290.6h.01M855.3 295.6h.01M831.8 311.0h.01M846.4 292.5h.01M805.2 305.7h.01M853.9 303.1h.01M816.2 308.8h.01M808.1 311.1h.01M837.5 291.3h.01M849.2 306.5h.01M802.6 299.9h.01M831.2 290.9h.01M804.0 302.5h.01M846.3 306.9h.01M809.3 307.0h.01M813.4 307.6h.01M807.8 310.7h.01M797.8 292.4h.01M810.2 306.9h.01M823.0 308.9h.01M857.6 297.3h.01M817.2 307.4h.01M812.3 285.4h.01M839.4 310.6h.01M854.5 304.7h.01M814.4 284.7h.01M843.0 292.2h.01M852.4 294.4h.01M804.4 283.4h.01M803.2 287.6h.01M856.0 303.8h.01M850.2 307.1h.01M831.9 311.7h.01M823.4 287.3h.01M804.4 285.7h.01M820.1 285.7h.01M843.4 294.9h.01M844.3 291.1h.01M806.7 309.2h.01M810.9 307.0h.01M821.6 307.9h.01M843.3 308.9h.01M842.7 293.8h.01M818.8 288.1h.01M834.9 289.1h.01M813.1 284.5h.01M853.0 304.6h.01M833.2 288.9h.01M798.5 295.8h.01M853.7 299.0h.01M812.0 310.8h.01M824.0 286.8h.01M831.7 306.1h.01M853.4 299.4h.01M815.1 287.5h.01M821.0 308.1h.01M816.2 311.3h.01M805.4 285.8h.01M839.7 293.8h.01M843.6 291.0h.01M826.9 308.5h.01M849.3 306.3h.01M817.3 285.8h.01M831.3 287.6h.01M808.4 310.7h.01M857.3 302.3h.01M798.8 289.0h.01M846.8 295.2h.01M851.2 296.5h.01M801.2 295.5h.01M841.0 291.0h.01M803.8 286.1h.01M819.9 308.4h.01M800.2 290.7h.01M815.6 285.6h.01M847.6 307.4h.01M810.4 308.0h.01M801.6 288.5h.01M796.9 305.7h.01M850.9 294.9h.01M804.8 307.4h.01M811.9 283.3h.01M813.1 308.7h.01M835.1 309.2h.01M855.1 296.8h.01M816.0 285.8h.01M811.2 308.7h.01M845.1 292.6h.01M835.1 308.5h.01M809.2 307.5h.01M848.1 306.0h.01M841.8 308.3h.01M804.0 304.5h.01M805.4 289.6h.01M803.9 285.7h.01M818.8 309.0h.01M822.6 284.6h.01M799.4 290.4h.01M816.8 285.7h.01M805.8 308.2h.01M799.2 307.7h.01M851.3 302.8h.01M808.9 285.6h.01M841.3 289.8h.01M841.3 290.0h.01M853.0 296.2h.01M856.5 303.6h.01M813.3 284.6h.01M802.0 300.0h.01M798.6 304.1h.01M834.7 308.4h.01M801.7 302.2h.01M796.6 307.8h.01M804.3 290.7h.01M810.7 284.7h.01M823.9 312.4h.01M799.6 298.9h.01M846.0 306.5h.01M858.2 299.1h.01M830.6 287.8h.01M796.5 290.4h.01M853.3 296.0h.01M842.1 292.2h.01M832.7 290.1h.01M802.8 299.8h.01M812.3 308.4h.01M843.1 306.3h.01M842.2 292.3h.01M846.3 295.2h.01M846.0 304.8h.01M830.1 289.9h.01M814.4 309.1h.01M805.8 285.1h.01M814.3 308.2h.01M808.7 286.4h.01M822.8 287.3h.01M851.8 297.4h.01M800.9 296.0h.01M805.2 283.4h.01M802.2 289.8h.01M831.3 288.5h.01M849.7 307.2h.01M850.0 296.8h.01M859.1 301.8h.01M841.9 309.3h.01M797.7 289.7h.01M847.4 293.9h.01M802.4 285.1h.01M831.0 309.5h.01M855.7 305.6h.01M827.9 307.3h.01M816.0 310.2h.01M850.5 296.6h.01M803.1 289.5h.01M857.0 300.9h.01M803.9 305.1h.01M829.2 307.9h.01M815.7 288.2h.01M833.8 289.4h.01M828.9 287.8h.01M857.7 298.3h.01M861.5 302.7h.01M852.9 295.0h.01M846.7 307.6h.01M815.9 306.8h.01M827.9 287.6h.01M797.6 297.8h.01M843.7 292.3h.01M847.0 308.3h.01M849.6 295.7h.01M798.6 284.2h.01M797.6 297.6h.01M805.2 309.0h.01M797.3 296.5h.01M857.3 297.7h.01M812.3 283.4h.01M827.9 310.1h.01M823.9 308.9h.01M826.5 309.4h.01M806.5 309.9h.01M850.8 294.3h.01M808.7 284.1h.01M841.4 291.8h.01M852.1 299.0h.01M816.1 286.1h.01M848.6 295.7h.01M829.8 286.3h.01M816.7 310.1h.01M858.3 303.6h.01M806.2 308.3h.01M853.3 300.3h.01M834.4 308.5h.01M840.0 310.9h.01M851.9 308.8h.01M850.4 305.2h.01M811.7 308.5h.01M844.8 292.2h.01M805.9 284.5h.01M809.8 286.0h.01M848.2 310.5h.01M830.9 288.4h.01M794.6 303.1h.01M847.9 295.7h.01M799.4 295.3h.01M813.4 309.3h.01M853.9 302.1h.01M801.8 292.9h.01M806.2 306.8h.01M828.2 306.8h.01M830.7 289.1h.01M799.6 305.0h.01M845.6 307.1h.01M803.2 286.1h.01M824.1 287.8h.01M851.4 305.9h.01M829.7 309.9h.01M855.6 298.9h.01M799.8 301.0h.01M801.2 301.9h.01M807.9 310.8h.01M811.9 311.3h.01M803.1 309.8h.01M837.3 293.1h.01M799.3 297.8h.01M817.2 307.8h.01M807.4 309.3h.01M851.1 305.6h.01M805.6 283.6h.01M806.2 284.7h.01M827.0 285.8h.01M806.3 285.7h.01M853.2 296.0h.01M828.8 288.2h.01M835.5 310.6h.01M825.0 310.5h.01M842.1 292.8h.01M844.8 307.9h.01M822.5 286.9h.01M843.9 293.6h.01M801.0 299.8h.01M822.4 311.6h.01M849.9 294.6h.01M803.8 306.7h.01M829.0 289.2h.01M800.5 292.0h.01M802.9 307.9h.01M800.8 305.1h.01M801.3 290.6h.01M803.8 295.5h.01M801.1 309.1h.01M816.5 285.3h.01M816.4 284.5h.01M840.5 290.9h.01M801.4 296.8h.01M795.5 302.0h.01M851.1 310.4h.01M857.3 297.1h.01M801.2 308.6h.01M805.4 286.9h.01M804.6 307.2h.01M849.9 296.2h.01M808.8 284.4h.01M813.0 284.5h.01M856.2 297.0h.01M830.6 290.1h.01M849.4 303.7h.01M837.3 291.1h.01M809.4 283.0h.01M812.6 285.4h.01M821.1 308.5h.01M850.9 308.7h.01M798.4 288.0h.01M817.2 309.9h.01M839.6 308.2h.01M854.2 296.3h.01M860.5 303.8h.01M838.3 308.5h.01M798.1 298.2h.01M854.0 296.3h.01M823.6 287.4h.01M814.4 309.7h.01M830.7 310.2h.01M834.3 309.1h.01M808.3 307.8h.01M797.6 287.0h.01M802.2 303.9h.01M831.0 309.5h.01M841.5 293.6h.01M803.2 305.6h.01M837.7 291.4h.01M839.6 308.9h.01M826.2 308.4h.01M846.2 292.9h.01M849.7 305.5h.01M799.5 295.3h.01M800.0 293.3h.01M797.2 298.7h.01M818.0 311.3h.01M816.2 286.9h.01M834.9 310.0h.01M856.1 296.3h.01M823.8 309.0h.01M817.3 308.3h.01M798.6 287.9h.01M808.4 284.7h.01M849.8 307.0h.01M846.2 306.8h.01M854.1 296.7h.01M855.0 296.7h.01M821.1 287.6h.01M835.5 309.6h.01M801.8 294.6h.01M826.5 286.6h.01M811.2 311.2h.01M805.5 308.5h.01M841.9 292.5h.01M829.3 288.9h.01M840.6 308.8h.01M858.2 301.0h.01M836.0 292.9h.01M830.6 290.3h.01M798.9 283.5h.01M820.6 286.5h.01M808.5 310.9h.01M836.4 308.8h.01M824.8 285.0h.01M819.9 286.2h.01M800.7 308.4h.01M826.1 288.2h.01M816.4 309.3h.01M832.8 308.1h.01M828.5 309.3h.01M828.8 289.1h.01M854.1 295.6h.01M798.5 295.0h.01M814.0 285.4h.01M807.8 308.4h.01M850.5 294.0h.01M802.2 302.6h.01M831.1 306.8h.01M802.3 308.2h.01M852.2 306.8h.01M803.4 290.1h.01M804.0 309.6h.01M805.1 285.3h.01M805.6 310.8h.01M800.8 295.6h.01M850.9 304.5h.01M809.1 283.6h.01M817.8 285.7h.01M833.2 288.6h.01M822.9 308.8h.01M809.1 283.7h.01M830.9 289.9h.01M819.1 287.8h.01M851.4 295.8h.01M802.5 291.6h.01M816.9 285.1h.01M841.3 290.8h.01M807.0 308.0h.01M803.9 307.8h.01M840.2 291.6h.01M853.2 295.6h.01M851.1 304.5h.01M806.9 285.2h.01M856.3 306.4h.01M856.6 302.8h.01M854.9 305.8h.01M820.6 307.0h.01M819.4 308.6h.01M824.2 286.7h.01M797.2 300.3h.01M807.7 282.3h.01M843.9 292.4h.01M816.6 286.6h.01M840.0 292.7h.01M796.5 306.1h.01M804.8 284.6h.01M845.0 292.3h.01M805.8 283.0h.01M803.8 305.7h.01M800.4 294.7h.01M813.9 286.1h.01M826.3 288.4h.01M824.3 308.7h.01M798.9 294.0h.01M837.8 305.7h.01M806.9 283.4h.01M810.0 284.7h.01M853.5 305.4h.01M821.0 287.5h.01M802.8 302.5h.01M843.3 291.7h.01M840.0 306.8h.01M836.2 308.7h.01M802.6 306.3h.01M807.5 309.1h.01M809.5 309.6h.01M858.8 304.4h.01M801.7 307.2h.01M804.7 283.0h.01M831.3 310.1h.01M820.6 307.7h.01M855.7 303.2h.01M810.2 285.2h.01M833.6 292.5h.01M808.0 283.0h.01M812.7 309.3h.01M828.9 286.7h.01M857.1 300.6h.01M806.2 310.6h.01M844.1 307.4h.01M825.2 285.0h.01M837.9 308.6h.01M802.9 283.5h.01M839.4 291.5h.01M845.6 294.3h.01M799.9 295.3h.01M800.2 300.1h.01M841.6 308.7h.01M815.8 307.0h.01M807.1 282.5h.01M856.1 298.3h.01M824.0 285.4h.01M838.7 309.4h.01M803.0 308.7h.01M800.7 295.8h.01M849.5 304.3h.01M808.5 306.5h.01M835.1 289.4h.01M827.6 286.7h.01M806.1 283.5h.01M840.2 307.3h.01M805.2 284.4h.01M842.8 290.5h.01M856.6 298.8h.01M845.7 308.6h.01M835.1 308.6h.01M836.9 291.5h.01M851.2 297.0h.01M815.1 284.9h.01M821.2 307.9h.01M825.1 307.4h.01M836.9 292.9h.01M804.7 287.4h.01M827.5 309.1h.01M814.1 281.7h.01M800.3 304.0h.01M840.0 292.6h.01M846.4 294.8h.01M815.1 285.0h.01M833.9 291.7h.01M798.2 303.2h.01M837.3 309.7h.01M798.6 297.7h.01M826.8 288.9h.01M833.7 290.0h.01M797.9 286.8h.01M831.8 287.9h.01M818.3 311.1h.01M811.0 309.1h.01M812.1 308.1h.01M847.0 310.0h.01M847.4 309.0h.01M852.8 298.3h.01M803.8 285.8h.01M860.2 299.7h.01M836.0 307.9h.01M814.1 285.4h.01M834.5 292.6h.01M852.4 304.9h.01M817.2 285.1h.01M823.1 287.0h.01M837.1 290.1h.01M801.2 285.1h.01M830.2 308.1h.01M810.0 308.2h.01M801.1 293.7h.01M818.2 310.4h.01M801.1 292.5h.01M852.8 307.9h.01M800.7 305.6h.01M801.6 284.8h.01M841.8 306.4h.01M806.0 309.1h.01M840.2 292.1h.01M837.9 309.3h.01M820.4 306.5h.01M802.3 309.3h.01M805.8 307.0h.01M850.9 297.3h.01M850.3 306.9h.01M852.4 297.3h.01M861.6 299.9h.01M854.2 301.3h.01M840.5 308.4h.01M835.7 308.0h.01M817.5 307.0h.01M853.9 300.1h.01M798.2 300.9h.01M840.2 290.7h.01M795.7 291.9h.01M803.5 310.7h.01M800.5 303.5h.01M832.2 288.1h.01M848.7 308.9h.01M833.6 290.8h.01M829.2 289.1h.01M802.7 299.5h.01M810.8 310.9h.01M802.1 308.2h.01M812.4 285.3h.01M849.3 292.4h.01M809.0 284.6h.01M825.3 311.2h.01M847.5 297.0h.01M800.2 308.9h.01M848.6 294.0h.01M843.8 291.3h.01M804.0 287.3h.01M835.7 290.4h.01M816.6 284.4h.01M815.6 308.7h.01M822.1 310.0h.01M799.5 307.0h.01M834.3 311.7h.01M820.2 309.8h.01M844.8 292.6h.01M820.7 285.7h.01M837.7 309.4h.01M834.8 309.2h.01M841.1 308.3h.01M798.6 285.7h.01M797.5 291.9h.01M836.9 289.1h.01M810.3 282.4h.01M835.7 290.4h.01M812.4 282.9h.01M817.4 306.4h.01M819.0 310.3h.01M836.4 290.5h.01M801.3 309.6h.01M833.1 309.3h.01M845.4 294.4h.01M845.4 294.7h.01M852.8 307.0h.01M813.8 285.7h.01M830.2 287.0h.01M806.2 283.7h.01M844.0 294.1h.01M842.0 309.3h.01M810.0 282.3h.01M808.9 283.9h.01M801.9 295.6h.01M814.6 283.6h.01M802.0 299.3h.01M841.0 309.3h.01M831.1 287.6h.01M842.3 295.4h.01M831.7 290.0h.01M829.6 308.1h.01M817.2 286.6h.01M808.4 283.0h.01M810.5 310.8h.01M827.5 309.7h.01M840.0 307.9h.01M815.0 307.5h.01M856.5 295.9h.01M837.1 290.9h.01M824.6 288.2h.01M804.7 283.8h.01M844.8 295.5h.01M824.1 309.5h.01M799.5 303.3h.01M839.8 292.2h.01M819.4 288.5h.01M829.5 285.9h.01M839.7 307.3h.01M811.6 308.0h.01M801.0 293.0h.01M803.6 282.8h.01M848.0 296.2h.01M830.0 311.7h.01M831.6 307.9h.01M849.0 295.8h.01M857.8 299.0h.01M861.1 306.0h.01M804.9 308.2h.01M828.0 308.0h.01M827.9 291.3h.01M841.6 291.7h.01M848.2 293.7h.01M830.8 289.4h.01M846.5 306.0h.01M801.9 306.8h.01M843.8 306.5h.01M833.7 308.7h.01M858.6 305.4h.01M844.0 294.1h.01M834.4 289.6h.01M825.6 307.2h.01M844.7 310.5h.01M858.5 305.4h.01M827.1 309.9h.01M822.9 287.0h.01M800.6 300.3h.01M809.9 281.1h.01M802.4 290.3h.01M830.4 287.5h.01M825.5 289.7h.01M835.9 292.2h.01M802.3 307.9h.01M798.7 301.3h.01M854.8 297.2h.01M800.0 306.3h.01M801.4 301.6h.01M860.8 299.5h.01M821.0 286.5h.01M801.7 289.7h.01M821.0 286.3h.01M853.7 299.6h.01M800.3 288.3h.01M860.2 301.5h.01M817.5 308.0h.01M799.0 282.6h.01M812.4 306.4h.01M796.0 286.9h.01M838.9 308.9h.01M857.5 303.0h.01M854.7 299.2h.01M820.3 310.3h.01M824.8 288.9h.01M841.7 306.8h.01M798.0 285.9h.01M841.6 292.0h.01M797.5 296.9h.01M857.6 304.6h.01M826.3 288.1h.01M800.7 303.9h.01M831.0 289.5h.01M816.9 309.7h.01M844.3 306.7h.01M812.8 308.3h.01M818.2 285.4h.01M831.7 309.3h.01M798.1 289.8h.01M820.0 309.3h.01M845.7 294.1h.01M857.7 298.2h.01M805.0 284.0h.01M815.2 286.5h.01M854.0 299.1h.01M847.3 309.1h.01M827.7 286.9h.01M841.4 291.9h.01M843.6 306.1h.01M846.1 306.5h.01M829.1 289.6h.01M824.3 287.0h.01M838.1 291.9h.01M849.9 305.9h.01M845.7 293.6h.01M844.5 292.0h.01M849.9 305.5h.01M819.0 308.9h.01M845.9 305.8h.01M849.0 296.1h.01M799.8 285.8h.01M855.7 304.9h.01M798.7 295.6h.01M838.4 291.8h.01M803.9 292.7h.01M850.5 304.0h.01M803.3 303.9h.01M834.9 309.3h.01M841.2 292.0h.01M810.6 310.8h.01M807.4 285.0h.01M838.0 288.6h.01M834.6 290.7h.01M826.1 308.7h.01M812.4 310.1h.01M803.3 305.7h.01M803.2 301.3h.01M844.1 293.0h.01M809.7 286.9h.01M841.4 308.8h.01M824.9 307.9h.01M818.3 308.6h.01M825.4 287.4h.01M848.7 296.2h.01M802.7 283.5h.01M816.6 307.4h.01M854.7 296.5h.01M857.3 304.3h.01M801.3 290.8h.01M821.1 287.3h.01M841.9 291.7h.01M803.2 304.8h.01M834.9 309.9h.01M850.5 296.2h.01M855.2 298.4h.01M845.9 305.3h.01M831.9 290.0h.01M803.5 301.8h.01M811.6 282.4h.01M854.3 305.2h.01M805.6 291.7h.01M821.6 286.0h.01M802.5 308.9h.01M824.4 307.4h.01M832.1 289.1h.01M809.5 283.9h.01M840.7 307.3h.01M823.3 286.0h.01M825.7 287.1h.01M850.9 304.9h.01M816.4 284.4h.01M834.2 290.8h.01M812.5 308.3h.01M812.4 283.3h.01M841.6 308.2h.01M823.4 285.3h.01M848.6 294.9h.01M807.2 284.5h.01M824.1 307.6h.01M858.5 296.9h.01M849.8 307.1h.01M848.1 294.5h.01M833.8 308.7h.01M829.9 289.3h.01M799.2 295.5h.01M830.9 309.6h.01M809.5 283.9h.01M854.0 296.7h.01M801.3 306.3h.01M842.2 308.1h.01M830.4 307.8h.01M796.7 299.4h.01M835.9 309.1h.01M825.4 307.5h.01M803.6 292.0h.01M835.7 290.0h.01M799.7 306.7h.01M842.0 305.6h.01M844.1 293.7h.01M809.0 308.8h.01M844.3 292.9h.01M833.3 289.0h.01M844.0 293.6h.01M854.9 295.3h.01M810.1 308.9h.01M800.2 286.0h.01M841.5 291.1h.01M851.6 303.2h.01M834.1 308.8h.01M848.3 296.8h.01M839.3 292.5h.01M801.3 282.8h.01M821.0 306.5h.01M823.9 289.4h.01M819.1 310.5h.01M813.5 310.8h.01M807.8 285.5h.01M798.0 299.9h.01M844.4 292.9h.01M859.0 298.5h.01M813.4 283.1h.01M819.2 287.3h.01M799.2 300.3h.01M797.4 289.0h.01M822.6 309.1h.01M801.0 303.9h.01M853.7 297.4h.01M855.9 302.2h.01M815.7 308.8h.01M836.5 310.2h.01M831.9 307.4h.01M817.0 288.0h.01M848.4 294.6h.01M800.6 295.7h.01M829.9 310.3h.01M795.9 300.3h.01M813.9 308.1h.01M851.4 304.4h.01M814.5 310.3h.01M816.3 285.0h.01M857.3 297.1h.01M833.1 308.4h.01M813.1 285.4h.01M841.8 309.2h.01M816.7 307.4h.01M828.9 288.4h.01M837.6 290.9h.01M800.9 287.6h.01M800.1 285.3h.01M840.1 308.1h.01M825.4 310.6h.01M846.2 308.9h.01M861.8 297.7h.01M805.2 284.4h.01M805.7 287.4h.01M835.9 288.7h.01M801.5 308.4h.01M843.1 293.3h.01M814.7 287.0h.01M833.4 309.2h.01M802.6 291.8h.01M803.1 286.5h.01M814.6 310.4h.01M839.0 291.5h.01M798.3 295.7h.01M820.8 309.7h.01M827.7 288.3h.01M804.7 284.1h.01M853.9 299.5h.01M829.1 307.3h.01M845.4 294.9h.01M829.5 288.7h.01M841.1 305.5h.01M800.6 283.3h.01M839.4 292.3h.01M799.4 287.4h.01M815.4 309.3h.01M816.5 310.9h.01M797.6 292.3h.01M858.8 304.1h.01M852.5 306.0h.01M844.8 308.5h.01M804.2 307.9h.01M811.7 311.1h.01M813.6 283.6h.01M804.8 284.2h.01M804.1 282.6h.01M834.1 309.9h.01M845.9 308.4h.01M846.8 293.1h.01M799.8 303.4h.01M803.8 298.7h.01M807.4 307.9h.01M805.1 281.5h.01M817.7 285.7h.01M830.4 287.2h.01M838.6 310.2h.01M839.8 310.1h.01M829.1 310.9h.01M797.6 306.1h.01M838.2 308.2h.01M851.8 303.0h.01M826.2 287.2h.01M820.7 287.0h.01M854.2 298.0h.01M859.6 306.5h.01M830.8 289.9h.01M849.8 297.9h.01M801.7 283.4h.01" stroke="#ff4d27"/><path d="M860.7 300.5h.01M803.7 294.7h.01M809.1 284.4h.01M853.3 298.8h.01M800.8 290.1h.01M806.6 283.1h.01" stroke="#ff964f"/><path d="M803.9 302.8h.01M818.7 289.3h.01M844.7 298.4h.01M826.7 306.0h.01M835.5 291.5h.01M833.3 292.8h.01" stroke="#67fcc2"/><path d="M808.7 304.8h.01M828.7 301.8h.01M814.8 288.0h.01M804.0 297.5h.01M799.7 289.4h.01M845.3 301.6h.01" stroke="#ff964f"/><path d="M846.0 298.4h.01M854.7 304.1h.01M854.2 294.7h.01M857.0 299.1h.01M856.4 311.6h.01M855.0 299.9h.01M846.7 307.4h.01M852.1 299.1h.01M848.7 300.4h.01M854.8 302.8h.01M852.4 298.2h.01M858.1 298.0h.01M857.9 300.7h.01M853.9 301.0h.01M857.3 299.2h.01M838.9 296.3h.01M850.1 293.2h.01M847.1 296.5h.01M854.3 300.0h.01M854.5 288.6h.01M849.3 299.7h.01M845.9 295.4h.01" stroke="#ff964f"/><path d="M806.0 306.8h.01M800.7 289.4h.01M804.9 293.4h.01M808.3 291.6h.01M803.7 287.7h.01M813.1 289.4h.01M797.3 288.2h.01M808.7 285.3h.01M804.1 286.6h.01M798.9 299.0h.01M809.8 292.7h.01M806.9 288.5h.01M809.7 289.6h.01M801.0 296.9h.01M806.8 282.5h.01M802.3 288.0h.01M805.4 299.2h.01M799.3 294.8h.01M809.8 284.5h.01M803.2 298.9h.01M801.0 285.6h.01M809.8 284.9h.01M803.2 294.3h.01M811.9 293.5h.01" stroke="#ff964f"/><path d="M808.9 286.3h.01M800.0 295.6h.01M804.1 286.9h.01M797.6 283.7h.01M804.8 300.6h.01M802.9 309.4h.01M808.5 289.3h.01M798.1 296.5h.01M812.7 297.7h.01M797.3 304.7h.01M796.4 283.7h.01M808.0 299.9h.01M801.1 296.1h.01M799.6 297.6h.01" stroke="#67fcc2"/><path d="M827.0 311.4h.01M848.6 312.5h.01M797.0 311.5h.01M827.7 310.0h.01M803.6 309.8h.01M797.4 310.9h.01M826.1 311.9h.01M804.2 310.4h.01M818.4 310.5h.01M807.9 310.2h.01M809.7 310.7h.01M828.1 310.2h.01M835.4 310.0h.01M815.4 312.7h.01M814.3 310.8h.01M824.3 310.0h.01M832.7 310.7h.01M852.3 309.7h.01M846.1 312.7h.01M799.2 312.1h.01M798.6 312.7h.01M832.5 310.5h.01" stroke="#18cde4"/><path d="M815.6 310.6h.01M803.1 311.1h.01M836.5 312.4h.01M825.7 312.1h.01M797.0 312.0h.01M843.2 311.7h.01M800.9 311.7h.01M848.6 310.8h.01M835.2 311.8h.01M797.4 313.4h.01M826.9 311.6h.01M796.6 312.7h.01M841.4 311.0h.01M839.1 311.9h.01" stroke="#4e4dfc"/><path d="M841.3 310.8h.01M829.9 311.7h.01M799.3 311.4h.01M810.4 312.4h.01M832.0 312.5h.01M810.0 311.8h.01M833.3 311.8h.01M850.5 312.7h.01M839.3 311.4h.01M807.2 312.2h.01M827.2 312.2h.01M840.4 310.7h.01M803.7 312.6h.01M816.8 310.5h.01M830.9 310.4h.01M803.9 312.0h.01M851.6 312.7h.01M818.9 311.0h.01" stroke="#67fcc2"/><path d="M815.8 278.1h.01M830.0 281.7h.01M835.9 284.0h.01M812.3 314.6h.01M859.9 286.1h.01M806.8 280.3h.01" stroke="#ff964f"/><path d="M829.8 278.9h.01M819.9 281.5h.01M828.6 283.4h.01M843.1 284.6h.01M847.1 284.6h.01M794.0 308.0h.01M847.1 316.0h.01M838.6 312.8h.01" stroke="#ff4d27"/><path d="M845.8 280.6h.01M850.2 285.4h.01M812.9 317.9h.01M794.0 314.9h.01M854.0 313.7h.01M832.9 286.9h.01" stroke="#18cde4"/><path d="M860.1 278.3h.01M828.3 316.3h.01M802.8 314.3h.01" stroke="#99fca6"/><path d="M840.3 284.2h.01M800.6 315.4h.01M795.5 310.9h.01" stroke="#4e4dfc"/><path d="M820.6 315.1h.01M834.3 315.7h.01M807.1 313.7h.01M843.9 315.1h.01" stroke="#8000ff"/><path d="M792.9 439.3h.01M787.6 438.7h.01M783.6 433.8h.01M779.0 433.8h.01M785.1 432.0h.01M782.6 434.5h.01M782.6 436.9h.01M792.3 439.9h.01M786.3 439.2h.01M787.8 436.3h.01M784.4 438.1h.01M783.9 434.1h.01M786.1 441.6h.01M786.3 437.1h.01M788.9 435.2h.01M794.5 436.3h.01M785.1 435.1h.01M784.9 438.8h.01M789.7 439.0h.01M793.4 436.6h.01M788.4 437.9h.01M789.6 434.2h.01M788.1 438.3h.01M788.0 435.7h.01M786.2 435.1h.01M785.6 442.3h.01M785.4 435.3h.01M791.5 434.6h.01M782.4 431.4h.01M788.9 434.2h.01M790.8 436.5h.01M787.0 433.8h.01M789.8 435.6h.01M782.3 439.5h.01M787.0 442.3h.01M789.1 433.9h.01M792.2 439.8h.01M788.9 440.6h.01M789.9 432.9h.01M786.7 438.4h.01M789.0 438.3h.01M784.0 436.9h.01M783.8 439.1h.01M785.1 437.1h.01M787.7 437.1h.01M786.2 436.2h.01M792.5 437.6h.01M781.0 434.5h.01M789.4 433.6h.01M784.8 439.0h.01M784.0 436.6h.01M789.0 439.8h.01M789.9 441.9h.01M788.2 436.7h.01M791.6 434.6h.01M785.9 436.8h.01M786.0 436.5h.01M793.9 436.4h.01M787.5 434.9h.01M786.8 442.4h.01" stroke="#1996f3"/><path d="M790.1 437.5h.01M786.4 435.0h.01M788.5 435.2h.01M782.4 440.5h.01M789.2 435.4h.01M784.3 439.6h.01M784.2 436.7h.01M785.3 432.3h.01M784.3 438.5h.01M780.2 435.5h.01M784.5 436.9h.01M784.4 439.2h.01M788.8 438.4h.01M790.7 435.0h.01M787.8 439.0h.01" stroke="#18cde4"/><path d="M800.5 423.9h.01M794.1 421.2h.01M796.3 422.1h.01M799.1 422.2h.01M795.6 427.6h.01M808.5 422.3h.01M809.4 426.0h.01M801.5 423.9h.01M792.9 425.7h.01M810.4 423.9h.01M802.0 422.6h.01M792.7 425.6h.01M817.2 426.8h.01M808.5 422.9h.01M801.7 423.9h.01M805.2 426.8h.01M809.0 424.6h.01M796.9 427.1h.01M795.5 424.6h.01M793.8 428.5h.01M802.2 423.1h.01M799.3 420.7h.01M796.9 427.7h.01M815.3 424.6h.01M793.2 422.9h.01M800.9 429.1h.01M817.3 427.5h.01M799.7 427.9h.01M817.2 426.9h.01M811.1 421.1h.01M810.0 421.1h.01M814.3 426.2h.01M816.9 425.5h.01M812.4 429.0h.01M805.4 426.2h.01M811.6 428.4h.01M799.1 421.1h.01M806.8 422.4h.01M795.2 423.3h.01M816.9 420.6h.01M809.7 424.8h.01M803.0 425.9h.01M796.3 421.1h.01M799.0 427.0h.01M804.7 421.7h.01M809.5 421.2h.01M813.3 426.6h.01M800.5 428.3h.01M802.8 428.5h.01M798.0 423.3h.01M811.7 427.3h.01M798.4 423.5h.01M813.7 428.8h.01M796.0 428.5h.01M793.3 424.4h.01M804.4 429.1h.01M808.2 423.5h.01M814.6 422.3h.01M804.9 424.7h.01M808.3 422.6h.01M814.9 421.5h.01M797.1 426.0h.01M799.4 428.1h.01M801.3 421.9h.01M801.3 426.4h.01M814.8 424.4h.01M796.0 424.6h.01M814.6 425.6h.01M817.2 428.3h.01M816.9 425.4h.01M816.3 420.5h.01M808.9 421.1h.01M800.5 420.7h.01M804.6 429.0h.01M815.0 429.2h.01" stroke="#67fcc2"/><path d="M806.0 436.6h.01M813.6 433.9h.01M802.9 437.9h.01M809.2 432.3h.01M798.0 433.7h.01M792.4 439.2h.01M810.3 439.2h.01M804.5 434.1h.01M801.4 434.6h.01M796.9 433.4h.01M811.0 428.0h.01M807.9 434.4h.01M810.5 428.9h.01M800.4 435.1h.01M789.4 433.0h.01M814.5 428.6h.01M810.5 431.1h.01M799.4 433.9h.01M804.5 434.6h.01M802.5 434.7h.01M798.7 438.2h.01M795.7 435.3h.01M813.7 438.5h.01M812.8 434.2h.01M800.7 428.5h.01M792.7 437.4h.01M790.2 434.5h.01M809.5 428.2h.01M800.1 436.9h.01M807.0 433.7h.01M802.7 434.9h.01M803.5 431.1h.01M798.6 436.0h.01M805.3 427.9h.01M810.2 436.9h.01M800.9 433.6h.01M791.1 434.7h.01M811.4 432.5h.01M796.7 434.8h.01M810.3 433.6h.01M790.5 434.5h.01M794.4 432.8h.01M791.8 430.5h.01M799.0 433.8h.01M796.1 435.8h.01M811.5 429.7h.01M810.3 437.5h.01M796.2 433.1h.01M810.4 429.8h.01M791.4 428.5h.01M815.1 431.7h.01M798.8 427.7h.01M806.0 430.7h.01M794.1 428.6h.01M799.6 433.1h.01M810.0 435.8h.01M806.9 439.4h.01M795.3 435.3h.01M790.5 430.6h.01M803.9 429.5h.01M797.4 431.5h.01M815.2 429.5h.01M813.5 432.6h.01M805.7 435.1h.01M810.3 430.9h.01M798.1 434.4h.01M803.1 433.8h.01M799.5 434.0h.01M813.2 431.1h.01M796.0 428.2h.01M790.7 437.1h.01M793.4 439.2h.01M796.5 439.3h.01M805.9 431.6h.01M795.7 433.9h.01M807.1 438.9h.01M814.4 432.7h.01M793.8 433.9h.01M805.6 435.7h.01M801.9 434.7h.01M798.4 436.9h.01M803.0 437.0h.01M795.9 438.1h.01M806.6 438.6h.01M809.5 438.4h.01M794.7 431.2h.01M799.5 434.9h.01M792.0 436.8h.01M791.0 431.1h.01M806.6 428.0h.01M790.4 439.5h.01M807.2 430.5h.01M815.2 430.8h.01M808.1 429.9h.01M813.0 438.5h.01M807.2 438.1h.01M795.9 431.3h.01M796.1 433.8h.01M792.3 431.7h.01M811.4 427.9h.01M807.4 437.2h.01M808.2 428.6h.01M799.5 437.0h.01M790.3 435.5h.01M789.8 437.4h.01M799.8 428.9h.01M790.9 437.7h.01M807.5 439.2h.01M805.0 428.5h.01M791.7 436.4h.01M803.4 432.1h.01M790.4 435.5h.01M792.1 439.2h.01M805.1 430.9h.01M792.2 428.9h.01M798.8 433.8h.01M814.9 431.6h.01M791.4 439.9h.01M800.8 427.9h.01M795.4 437.5h.01M803.8 435.3h.01M806.7 429.7h.01M807.4 438.4h.01M806.6 437.2h.01M800.0 430.7h.01M800.7 431.2h.01M805.1 432.0h.01M812.6 436.4h.01M803.2 439.6h.01M806.2 439.3h.01M815.3 433.5h.01M802.6 432.4h.01M803.5 438.9h.01M797.1 438.4h.01M790.8 436.6h.01M790.7 439.6h.01M800.3 430.2h.01M795.4 439.3h.01M809.5 433.7h.01M795.1 432.6h.01M809.3 432.3h.01M799.4 436.5h.01M789.2 437.2h.01M804.0 439.3h.01M802.1 438.5h.01M806.4 431.1h.01M815.7 430.8h.01M797.0 432.0h.01M812.9 432.2h.01M799.9 432.1h.01M802.3 430.8h.01M789.1 433.5h.01M803.7 433.1h.01M813.2 438.0h.01M802.5 431.8h.01M814.3 436.0h.01M793.2 433.1h.01M802.9 428.5h.01M807.0 434.9h.01M794.7 439.3h.01M804.7 438.8h.01M793.4 435.8h.01M797.6 433.6h.01M789.6 439.4h.01M811.2 431.6h.01M803.4 439.4h.01M806.5 427.9h.01M811.3 430.7h.01M814.3 430.0h.01M789.5 428.7h.01M792.1 429.6h.01M789.3 432.2h.01M805.3 435.7h.01M815.6 431.9h.01M801.7 432.6h.01M812.4 439.3h.01M804.4 429.1h.01M814.7 437.8h.01M814.3 429.0h.01M794.4 428.6h.01M811.8 433.2h.01M804.4 438.2h.01M801.2 434.5h.01M796.1 438.0h.01M812.2 427.9h.01M791.5 432.3h.01M791.5 432.1h.01M797.3 432.0h.01M815.0 432.1h.01M812.7 439.7h.01" stroke="#32e3da"/><path d="M793.6 430.5h.01M808.3 430.0h.01M799.3 434.9h.01M793.6 434.1h.01M793.3 431.8h.01M807.3 434.3h.01M791.6 430.8h.01M805.2 428.7h.01M807.0 432.8h.01M812.6 432.5h.01M797.9 435.3h.01M796.4 431.8h.01M792.8 430.4h.01M803.0 433.5h.01M794.9 435.4h.01M793.7 435.1h.01M797.9 437.5h.01M801.2 429.0h.01M810.1 430.7h.01M803.1 430.6h.01M797.0 438.9h.01M800.4 431.7h.01M791.4 434.8h.01M799.2 436.3h.01M814.8 428.8h.01M806.8 432.7h.01M790.1 429.5h.01M809.6 437.8h.01M812.2 432.7h.01M801.2 438.8h.01M802.5 436.6h.01M800.9 432.3h.01M794.6 434.1h.01M808.6 435.6h.01M804.4 435.3h.01M804.2 435.2h.01M802.2 434.1h.01M809.8 430.9h.01M790.9 435.2h.01M798.8 430.7h.01M809.1 433.4h.01M811.1 428.9h.01M806.0 433.0h.01M809.8 436.3h.01M797.5 435.5h.01M809.2 429.7h.01M799.8 438.9h.01M798.6 431.3h.01M802.6 430.6h.01M810.1 434.4h.01M801.6 438.7h.01M795.7 431.3h.01M801.8 433.2h.01M794.3 431.8h.01M802.1 434.2h.01M793.3 433.5h.01M811.5 438.0h.01M792.4 434.1h.01M798.2 431.5h.01M813.8 435.5h.01" stroke="#67fcc2"/><path d="M795.1 427.0h.01M791.2 429.1h.01M807.2 430.9h.01M813.7 432.0h.01M800.5 428.5h.01M792.8 431.0h.01M798.8 429.2h.01M821.4 427.3h.01M817.3 431.6h.01M795.5 430.5h.01M821.7 432.3h.01M811.9 428.1h.01M815.1 431.2h.01M794.4 429.5h.01M807.7 431.2h.01M799.6 431.0h.01M795.7 428.9h.01M796.0 431.6h.01M816.6 427.6h.01M797.9 428.6h.01M810.7 427.2h.01M819.1 427.5h.01M799.8 431.1h.01M803.4 430.0h.01M805.2 431.2h.01M817.6 432.3h.01M821.2 432.7h.01M816.0 427.7h.01M812.4 429.6h.01M808.5 430.7h.01M809.7 431.1h.01M798.4 430.8h.01M795.0 429.7h.01M789.1 431.9h.01M819.4 428.9h.01M818.7 427.2h.01" stroke="#4e4dfc"/><path d="M798.6 429.8h.01M803.0 435.5h.01M806.8 436.7h.01M805.7 435.2h.01M791.4 431.7h.01M792.7 437.4h.01M792.1 430.1h.01M797.5 434.2h.01M805.2 436.2h.01M805.2 430.0h.01M806.9 432.0h.01M809.3 437.9h.01M792.7 437.4h.01M806.2 434.3h.01M800.0 436.6h.01M804.2 436.1h.01M807.8 432.5h.01M804.0 433.4h.01M801.0 433.5h.01M803.0 435.1h.01" stroke="#1996f3"/><path d="M802.8 431.7h.01M805.1 436.1h.01M805.4 432.0h.01M816.6 432.2h.01M802.1 432.4h.01M794.7 426.7h.01M818.7 428.7h.01M816.0 430.1h.01M812.8 429.4h.01M798.2 436.3h.01M821.1 431.3h.01M805.0 433.6h.01M802.6 435.6h.01M815.6 428.6h.01M801.9 432.8h.01M822.5 431.1h.01M802.4 436.0h.01M794.0 429.7h.01M794.3 430.3h.01M815.8 436.1h.01M811.6 429.5h.01M812.6 436.5h.01M813.4 426.9h.01M806.6 434.5h.01M798.4 430.7h.01M815.8 431.9h.01M815.5 436.8h.01M798.3 436.1h.01M803.8 432.4h.01M810.6 432.8h.01M808.0 435.1h.01M821.2 437.0h.01M821.9 436.9h.01M811.2 433.3h.01M808.0 435.4h.01M793.9 428.4h.01M817.2 436.6h.01M802.1 433.3h.01M795.7 427.9h.01M810.4 431.8h.01M796.1 427.2h.01M810.2 428.5h.01M818.7 432.6h.01M816.3 434.9h.01M802.8 434.3h.01" stroke="#ff964f"/><path d="M835.1 435.3h.01M830.8 438.1h.01M833.5 438.5h.01M827.0 437.3h.01M832.1 439.4h.01M827.3 439.3h.01M829.1 437.1h.01M820.7 437.8h.01M835.6 438.7h.01M823.2 437.5h.01M829.5 437.7h.01M816.6 439.4h.01M828.6 437.8h.01M834.0 437.0h.01M825.8 437.4h.01M826.2 437.0h.01M820.2 438.0h.01M830.0 438.8h.01M829.3 437.7h.01M827.5 437.0h.01M835.5 436.6h.01M834.5 438.3h.01M817.1 436.0h.01M821.7 438.3h.01M823.6 436.3h.01M828.2 438.2h.01M832.0 437.9h.01M820.2 436.2h.01M823.0 438.0h.01M831.4 437.5h.01" stroke="#8000ff"/><path d="M824.6 429.3h.01M825.2 428.7h.01M817.6 428.5h.01M817.1 429.4h.01M825.1 429.0h.01M824.5 427.6h.01M816.4 427.6h.01M823.2 428.7h.01M821.0 427.8h.01M824.4 429.4h.01M824.6 428.6h.01M822.5 428.7h.01M816.6 428.2h.01M816.8 429.2h.01" stroke="#1996f3"/><path d="M809.7 413.1h.01M813.0 414.1h.01M804.6 415.3h.01M797.5 410.9h.01M798.4 416.1h.01M804.9 417.8h.01M801.8 415.0h.01M808.2 416.5h.01M805.4 413.0h.01M812.4 414.8h.01M806.1 414.6h.01M805.7 415.0h.01M804.4 411.2h.01M805.4 418.4h.01M813.8 415.8h.01M805.5 417.3h.01M808.6 416.5h.01M809.3 416.0h.01M799.3 416.8h.01M811.1 417.9h.01M808.4 413.8h.01M813.7 418.0h.01M803.4 416.2h.01M801.4 416.8h.01M814.4 415.5h.01M808.3 417.3h.01M810.0 419.7h.01M798.1 416.9h.01M813.0 412.9h.01M802.4 409.9h.01M808.7 418.7h.01M807.6 417.0h.01M807.3 416.0h.01M810.4 411.2h.01M799.8 416.1h.01M810.3 416.5h.01M812.9 419.7h.01M805.4 414.7h.01M813.1 411.2h.01M805.1 411.8h.01M809.0 416.0h.01M806.0 418.7h.01M810.5 415.8h.01M815.4 416.4h.01M815.9 414.7h.01" stroke="#ff4d27"/><path d="M802.4 414.9h.01M819.7 420.2h.01M827.2 421.4h.01M823.3 416.5h.01M823.3 413.6h.01M804.0 420.5h.01M794.7 422.1h.01M812.6 415.2h.01M809.0 416.4h.01M796.2 416.3h.01M801.2 419.4h.01M796.0 414.6h.01M793.5 412.2h.01M805.4 417.7h.01M822.8 422.1h.01M801.2 417.7h.01M827.2 417.0h.01M820.0 417.8h.01M805.4 416.7h.01M804.6 417.2h.01M825.0 413.7h.01M819.7 413.2h.01M805.7 419.0h.01M810.5 418.4h.01M810.3 415.4h.01M804.5 413.1h.01M813.4 420.9h.01M824.7 417.4h.01M806.5 421.1h.01M794.2 420.3h.01" stroke="#ff4d27"/><path d="M816.7 420.5h.01M817.4 419.5h.01M821.7 421.2h.01M816.2 421.3h.01M816.6 419.9h.01M811.9 419.6h.01M816.3 421.3h.01M811.1 420.0h.01M809.2 421.2h.01M817.0 421.0h.01M819.8 420.0h.01M824.4 421.4h.01M814.8 420.9h.01M808.5 420.8h.01M812.7 419.6h.01M809.3 421.3h.01M811.4 419.6h.01M817.7 419.7h.01M820.5 421.3h.01M820.5 421.4h.01M811.3 420.7h.01M817.6 419.8h.01M809.1 419.9h.01M809.9 420.8h.01M823.9 420.9h.01" stroke="#ff4d27"/><path d="M789.5 428.1h.01M852.7 433.6h.01M848.9 437.4h.01M839.0 438.8h.01M828.9 427.9h.01M798.6 429.5h.01M804.3 429.0h.01" stroke="#8000ff"/><path d="M844.3 422.4h.01M836.7 431.9h.01M794.8 414.3h.01M813.8 413.5h.01M827.1 420.5h.01" stroke="#ff964f"/><path d="M847.0 425.2h.01M781.9 432.2h.01M788.8 422.4h.01M824.8 425.7h.01M829.5 432.4h.01" stroke="#18cde4"/><path d="M835.2 428.3h.01M838.1 435.7h.01" stroke="#1996f3"/><path d="M835.9 414.6h.01M791.0 421.0h.01M829.5 412.9h.01M827.1 412.4h.01" stroke="#ff4d27"/><path d="M796.4 484.5h.01M807.0 478.0h.01M806.4 486.4h.01M800.5 482.8h.01M808.3 483.6h.01M805.3 478.8h.01M803.1 487.0h.01M803.9 477.9h.01M805.1 480.5h.01M804.4 479.4h.01M802.8 481.1h.01M797.8 483.7h.01M795.9 480.6h.01M802.3 478.5h.01M796.2 482.9h.01M803.3 480.1h.01M804.7 482.0h.01M805.8 478.3h.01M797.3 480.3h.01M795.9 485.9h.01M805.5 481.9h.01M809.7 484.8h.01M796.8 484.0h.01M806.1 487.3h.01M802.3 479.8h.01" stroke="#4e4dfc"/><path d="M802.4 486.0h.01M804.3 482.6h.01M804.1 486.3h.01M806.1 477.9h.01M807.0 481.5h.01M798.8 483.9h.01M806.0 484.4h.01M798.2 485.3h.01M798.2 480.1h.01M802.5 478.2h.01M801.9 484.1h.01M802.5 478.9h.01M806.1 479.5h.01M807.4 483.3h.01" stroke="#18cde4"/><path d="M796.7 482.0h.01M803.6 481.6h.01M800.2 483.0h.01M802.8 481.0h.01M797.0 479.4h.01M800.3 478.2h.01M796.8 480.4h.01M795.6 478.0h.01M800.0 478.8h.01M800.0 477.1h.01M804.2 477.7h.01M801.2 482.2h.01M796.7 478.3h.01M803.8 478.9h.01M801.6 476.6h.01M804.8 482.8h.01M801.4 483.2h.01M801.2 482.9h.01M798.1 474.4h.01M800.4 481.6h.01M802.6 477.2h.01M803.2 474.1h.01M803.4 473.1h.01M803.5 476.9h.01M794.4 476.2h.01M797.2 472.5h.01M800.7 474.7h.01M798.1 484.1h.01M798.6 479.6h.01M804.9 479.9h.01M802.9 476.5h.01M802.5 481.5h.01M804.9 477.5h.01M794.8 483.1h.01M793.1 475.1h.01M805.2 481.4h.01M803.8 479.8h.01M802.0 476.9h.01M800.2 478.8h.01M805.8 476.1h.01M798.3 481.0h.01M803.5 480.8h.01M804.7 479.0h.01M798.5 476.6h.01M801.3 479.3h.01M801.2 476.9h.01M802.7 479.7h.01M797.9 472.7h.01M801.2 482.2h.01M804.4 478.2h.01M795.9 481.0h.01M794.3 478.0h.01M799.3 477.7h.01M801.2 478.1h.01M799.9 477.4h.01M797.2 478.5h.01M795.7 479.5h.01M797.0 480.5h.01M802.9 483.9h.01M799.8 482.3h.01M802.1 474.4h.01M798.0 479.7h.01M801.9 482.3h.01M798.4 477.4h.01M798.8 479.3h.01M800.3 481.3h.01M798.0 473.4h.01M803.3 474.4h.01M800.9 483.8h.01M797.4 475.5h.01M794.8 473.0h.01M793.6 484.0h.01M797.1 480.3h.01M796.4 485.0h.01M794.7 482.9h.01M799.1 478.3h.01M795.9 474.8h.01M802.1 475.3h.01M797.4 479.6h.01M794.6 473.5h.01M793.6 473.3h.01M795.6 484.9h.01M795.8 473.5h.01M800.6 482.1h.01M800.3 483.1h.01M801.1 474.4h.01M794.8 474.6h.01M796.5 484.1h.01M797.9 479.1h.01M798.6 473.1h.01M800.1 478.8h.01M801.6 478.8h.01M801.8 479.1h.01M800.1 475.4h.01M803.0 474.1h.01M794.0 478.0h.01M796.2 481.4h.01M800.8 476.2h.01M795.6 475.8h.01M804.3 480.5h.01" stroke="#ff4d27"/><path d="M809.1 481.8h.01M801.7 478.5h.01M803.3 482.8h.01M808.0 483.4h.01M804.4 480.5h.01M807.5 483.0h.01M802.7 479.2h.01M805.3 478.7h.01" stroke="#ff964f"/><path d="M799.8 482.5h.01M800.8 484.5h.01M808.0 483.4h.01M797.0 484.4h.01M797.2 484.0h.01M805.9 485.1h.01M806.2 481.5h.01M803.4 480.9h.01M797.6 481.0h.01M797.7 484.7h.01M800.6 480.9h.01M804.3 484.7h.01M807.1 484.1h.01M808.1 484.8h.01" stroke="#4e4dfc"/><path d="M807.2 484.3h.01M805.9 481.8h.01M807.3 480.1h.01M798.1 481.6h.01M800.5 482.6h.01M804.4 482.8h.01M802.1 483.5h.01M806.4 486.1h.01" stroke="#18cde4"/><path d="M802.7 490.4h.01M804.9 490.4h.01M805.3 489.8h.01M810.5 490.7h.01M808.4 490.1h.01M810.3 488.7h.01M810.4 490.4h.01M801.0 490.3h.01M801.5 488.7h.01M806.9 489.4h.01M804.4 489.1h.01M810.1 488.8h.01M804.8 490.9h.01M806.5 488.9h.01M801.5 490.8h.01M800.0 490.5h.01" stroke="#ff4d27"/><path d="M822.3 501.8h.01M805.3 505.7h.01M828.8 504.7h.01M820.6 504.5h.01M805.7 505.5h.01M845.5 504.7h.01M819.2 504.5h.01M810.1 499.8h.01M830.7 502.5h.01M804.2 504.2h.01M815.5 502.9h.01M798.5 501.6h.01M839.7 501.7h.01M809.1 504.9h.01M805.6 506.3h.01M799.6 501.9h.01M817.2 504.3h.01M837.6 503.7h.01M801.9 504.3h.01M802.7 502.2h.01M803.4 503.1h.01M803.0 504.6h.01M812.4 505.0h.01M826.0 500.9h.01M805.3 502.0h.01M837.9 504.5h.01M825.8 503.6h.01M828.8 502.8h.01M841.7 502.7h.01M833.9 505.2h.01M841.7 502.3h.01M827.9 500.0h.01M818.5 506.2h.01M828.4 501.3h.01M822.0 503.5h.01M813.8 503.1h.01M832.7 501.5h.01M823.7 505.0h.01M842.4 499.9h.01M839.7 506.0h.01M834.6 501.9h.01M814.3 505.3h.01M845.4 502.2h.01M797.8 501.9h.01M830.7 503.8h.01M832.4 505.3h.01M808.2 505.2h.01M843.7 500.4h.01M806.8 499.9h.01M839.7 501.6h.01M801.7 503.3h.01M799.7 504.7h.01M816.0 505.5h.01M799.6 504.9h.01M829.3 499.8h.01M842.5 501.0h.01M801.4 503.4h.01M832.3 501.0h.01M819.7 503.3h.01M827.5 502.3h.01M834.7 501.7h.01M816.8 502.0h.01M822.8 503.0h.01M801.1 503.9h.01M837.6 501.9h.01M805.9 502.5h.01M806.3 504.6h.01M818.8 500.8h.01M814.8 505.7h.01M803.9 503.6h.01M810.5 500.4h.01M814.0 500.0h.01M828.6 504.8h.01M807.6 505.5h.01M821.1 499.9h.01M805.6 500.5h.01M815.6 502.8h.01M845.2 502.6h.01M834.3 505.5h.01M826.9 505.6h.01M843.7 505.7h.01M833.5 504.5h.01M804.8 505.6h.01M808.9 502.6h.01M800.5 500.1h.01M810.5 503.2h.01M818.8 504.8h.01M833.0 504.8h.01M797.8 503.3h.01M810.4 506.4h.01M832.9 502.7h.01M839.4 505.5h.01M833.6 502.4h.01M808.3 503.2h.01M840.3 505.6h.01M827.1 502.5h.01M844.3 502.4h.01M833.3 504.8h.01M807.8 501.6h.01M803.1 501.9h.01M842.4 506.3h.01M830.6 504.2h.01M827.5 502.1h.01M844.5 500.3h.01M797.8 500.2h.01M824.6 502.5h.01M804.8 500.7h.01M844.4 503.5h.01M835.0 505.9h.01M811.1 504.2h.01M799.4 504.5h.01M833.6 501.3h.01M816.9 504.3h.01M807.3 501.3h.01M844.1 505.0h.01M817.1 503.7h.01M833.9 504.0h.01M804.0 500.5h.01M804.6 501.9h.01M806.1 506.3h.01M844.6 501.3h.01M832.6 505.9h.01M808.8 500.3h.01M811.4 500.4h.01M808.1 501.4h.01M832.9 502.3h.01M839.3 502.7h.01M809.7 504.4h.01M802.6 499.8h.01M820.7 500.2h.01M831.6 504.6h.01M828.0 501.5h.01M840.4 505.8h.01M844.1 504.3h.01M818.7 503.6h.01M805.3 505.2h.01M809.6 502.8h.01M811.4 504.1h.01M822.3 500.3h.01M801.5 500.1h.01M815.5 499.9h.01M837.9 504.7h.01M815.5 505.1h.01M830.9 500.9h.01M820.9 499.9h.01M815.4 501.8h.01M808.9 503.5h.01M830.5 503.9h.01M809.8 502.4h.01M838.8 504.4h.01" stroke="#67fcc2"/><path d="M812.2 505.8h.01M825.6 506.2h.01M830.7 505.4h.01M799.6 505.5h.01M804.7 504.8h.01M825.9 504.4h.01M803.9 504.5h.01M823.3 505.2h.01M829.2 506.2h.01M816.9 505.8h.01M831.3 505.6h.01M826.1 506.9h.01M806.7 506.4h.01M831.5 506.0h.01M806.2 505.1h.01M803.7 506.0h.01M827.9 506.5h.01M814.0 506.4h.01M824.5 504.5h.01M821.0 504.3h.01M818.1 506.5h.01M800.1 506.8h.01M833.1 504.1h.01M813.6 505.3h.01M816.4 505.2h.01M833.4 506.0h.01M806.7 506.6h.01M801.5 505.8h.01M811.3 504.4h.01M818.2 504.1h.01M829.0 504.3h.01M836.5 504.1h.01M822.4 505.6h.01M836.7 506.3h.01M828.3 505.1h.01M812.0 505.1h.01M817.6 504.1h.01M827.0 506.3h.01M807.1 505.2h.01M825.7 505.1h.01M814.1 506.5h.01M831.9 506.5h.01M799.3 505.0h.01M803.7 505.4h.01M836.4 505.3h.01M810.5 505.3h.01M812.3 506.6h.01M810.0 504.8h.01M800.2 505.5h.01M823.6 506.0h.01" stroke="#18cde4"/><path d="M807.9 505.4h.01M826.4 505.5h.01M807.7 506.5h.01M820.5 506.4h.01M806.3 506.4h.01M814.8 506.7h.01M808.6 505.8h.01M819.8 505.8h.01M807.6 506.3h.01M821.6 505.6h.01M802.8 506.7h.01M827.0 506.0h.01" stroke="#1996f3"/><path d="M802.2 494.1 806.3 493.0 815.2 493.0 824.8 493.4 833.0 494.1 836.7 494.9 841.2 494.5 844.9 495.6 845.6 497.1 841.2 498.6 836.7 500.1 833.7 501.6 827.8 501.6 821.9 501.6 820.4 502.3 815.2 500.8 810.0 501.2 805.5 501.6 803.3 500.1 802.5 497.1Z" fill="#ff4d27" stroke="none"/><path d="M844.2 495.3h.01M817.7 502.1h.01M804.2 492.4h.01M840.9 495.7h.01M805.5 501.8h.01M802.5 497.6h.01M837.2 493.3h.01M831.3 494.2h.01M828.3 494.0h.01M820.2 501.7h.01M829.2 491.6h.01M813.8 492.5h.01M801.9 496.2h.01M829.5 493.1h.01M798.9 499.9h.01M812.0 493.1h.01M826.4 502.5h.01M801.3 499.8h.01M847.1 498.2h.01M810.7 493.5h.01M845.4 493.3h.01M835.7 499.7h.01M801.2 494.1h.01M803.9 492.6h.01M807.5 493.3h.01M797.0 497.1h.01M830.1 501.4h.01M811.8 492.5h.01M807.0 491.5h.01M805.2 501.6h.01M837.7 494.1h.01M804.9 501.5h.01M840.4 501.4h.01M802.8 501.2h.01M837.8 495.3h.01M821.5 501.1h.01M812.0 493.3h.01M812.2 492.9h.01M824.6 493.2h.01M826.1 493.4h.01M829.8 501.8h.01M825.4 492.6h.01M834.8 501.8h.01M817.7 501.4h.01M809.4 492.4h.01M817.6 492.7h.01M801.6 501.5h.01M803.1 500.2h.01M812.5 492.1h.01M844.4 496.9h.01M834.9 501.6h.01M804.4 493.6h.01M836.2 502.5h.01M799.5 492.3h.01M808.5 501.1h.01M831.7 492.4h.01M839.1 498.7h.01M825.8 500.7h.01M801.9 501.9h.01M819.2 493.3h.01M825.3 502.4h.01M814.7 500.7h.01M846.6 496.5h.01M808.4 492.7h.01M805.9 490.8h.01M845.2 497.9h.01M826.5 491.8h.01M828.7 491.6h.01M816.9 501.0h.01M827.0 492.7h.01M822.1 503.4h.01M842.8 498.6h.01M819.4 503.6h.01M799.4 500.5h.01M845.5 493.9h.01M803.3 493.5h.01M837.6 493.6h.01M799.8 497.9h.01M809.0 502.2h.01M828.8 501.1h.01M815.0 502.1h.01M803.8 492.5h.01M829.0 502.1h.01M800.7 495.2h.01M827.0 493.0h.01M831.8 493.8h.01M835.2 502.2h.01M799.8 493.3h.01M806.4 501.9h.01M809.3 501.2h.01M826.3 494.0h.01M801.7 499.4h.01M815.7 502.0h.01M808.3 493.2h.01M845.2 492.3h.01M811.2 500.9h.01M832.2 494.2h.01M837.4 493.6h.01M841.8 494.0h.01M799.9 494.1h.01M826.9 492.2h.01M832.1 502.1h.01M813.4 501.1h.01M839.5 499.6h.01M845.7 495.9h.01M801.6 492.1h.01M848.5 498.2h.01M822.9 503.1h.01M846.9 497.5h.01M833.9 501.8h.01M846.6 499.7h.01M830.3 493.1h.01M809.7 501.3h.01M801.4 498.4h.01M840.3 498.9h.01M807.0 492.5h.01M803.3 501.2h.01M820.4 503.6h.01M823.9 501.1h.01M837.4 501.7h.01M832.1 503.6h.01M841.5 494.2h.01M841.6 494.5h.01M843.9 495.6h.01M832.0 494.5h.01M819.7 503.4h.01M808.1 491.1h.01M808.7 503.2h.01M848.3 495.6h.01M828.7 492.7h.01M806.3 491.1h.01M822.0 501.6h.01M836.3 495.3h.01M845.4 493.4h.01M824.7 500.9h.01M836.8 500.7h.01M826.9 501.9h.01M817.2 503.1h.01M830.8 493.7h.01M829.6 502.4h.01M800.8 501.4h.01M806.7 502.9h.01M799.8 492.0h.01M824.1 502.1h.01M803.5 501.8h.01M837.0 500.9h.01M816.5 502.4h.01M821.7 502.3h.01M827.8 503.0h.01M842.4 493.5h.01M842.9 498.6h.01M831.1 493.7h.01M825.1 502.4h.01M801.2 500.1h.01M846.1 495.4h.01M804.1 502.7h.01M837.3 500.8h.01M807.3 493.8h.01M835.7 500.8h.01M833.6 503.2h.01M800.4 496.0h.01M824.6 492.8h.01M807.2 493.6h.01M803.5 502.0h.01M825.6 501.4h.01M803.6 491.7h.01M797.4 493.0h.01M820.8 492.3h.01M806.1 502.1h.01M804.3 501.1h.01M824.5 501.5h.01M816.1 501.8h.01M807.6 502.0h.01M796.9 496.6h.01M800.5 492.6h.01M810.6 500.7h.01M818.8 504.2h.01M820.2 502.5h.01M803.1 493.9h.01M816.7 500.4h.01M828.7 502.3h.01M824.4 493.6h.01M844.9 495.1h.01M829.7 501.4h.01M801.9 492.3h.01M840.9 493.3h.01M806.8 501.6h.01M832.0 502.7h.01M831.4 493.5h.01M837.1 492.9h.01M821.2 492.8h.01M810.4 501.7h.01M820.6 502.2h.01M842.1 492.8h.01M826.6 492.8h.01M799.8 499.9h.01M843.5 493.9h.01M827.5 501.4h.01M844.8 498.1h.01M834.1 494.2h.01M832.2 502.5h.01M829.8 500.9h.01M839.0 494.9h.01M816.7 501.2h.01M806.7 501.9h.01M808.4 491.3h.01M797.4 500.1h.01M821.7 501.8h.01M832.6 493.8h.01M820.0 493.2h.01M801.5 493.2h.01M821.2 503.1h.01M805.4 492.7h.01M830.4 493.5h.01M799.4 492.3h.01M844.5 497.2h.01M829.2 492.3h.01M845.3 498.7h.01M828.5 502.3h.01M806.6 492.0h.01M803.5 492.6h.01M844.4 497.9h.01M834.5 493.3h.01M843.0 498.6h.01M807.4 492.4h.01M810.1 493.4h.01M830.8 493.5h.01M828.8 492.7h.01M847.2 494.1h.01M818.0 492.2h.01M800.8 494.4h.01M830.3 502.1h.01M830.7 500.1h.01M801.8 493.2h.01M802.2 502.3h.01M808.6 492.2h.01M838.9 494.2h.01M835.4 501.3h.01M810.0 492.4h.01M818.4 502.9h.01M806.6 490.3h.01M800.8 492.3h.01M800.4 493.3h.01M813.1 492.5h.01M817.6 502.2h.01M819.3 502.0h.01M813.9 500.1h.01M800.3 496.2h.01M806.6 493.7h.01M803.8 491.8h.01M841.8 498.7h.01M819.4 503.8h.01M842.8 494.1h.01M801.4 495.0h.01M817.6 502.6h.01M849.0 493.8h.01M825.3 492.8h.01M802.8 492.5h.01M835.9 495.0h.01M838.9 494.5h.01M842.9 498.6h.01M834.2 493.0h.01M821.5 493.4h.01M810.0 491.7h.01M843.0 494.6h.01M809.4 501.8h.01M822.1 494.2h.01M811.6 492.8h.01M802.3 498.6h.01M823.4 500.6h.01M849.2 497.1h.01M820.2 492.8h.01M841.4 499.3h.01M839.7 500.0h.01M826.0 502.2h.01M808.3 501.8h.01M830.3 501.7h.01M834.4 501.1h.01M806.8 500.7h.01M832.4 503.0h.01M831.2 494.5h.01M802.3 501.6h.01M810.3 501.5h.01M846.1 494.5h.01M826.7 491.4h.01M800.9 495.1h.01M807.5 501.7h.01M822.5 493.1h.01M843.6 498.7h.01M843.6 493.0h.01M835.9 502.3h.01M817.9 501.4h.01M820.8 503.2h.01M812.2 501.9h.01M819.7 492.9h.01M803.7 492.8h.01M833.8 502.3h.01M801.0 502.0h.01M825.3 501.8h.01M806.4 502.6h.01M840.1 495.0h.01M803.1 493.2h.01M826.6 493.8h.01M824.1 501.6h.01M822.6 502.0h.01M808.7 500.1h.01M818.3 502.0h.01M803.3 491.5h.01M825.7 493.5h.01M836.1 494.6h.01M849.4 495.2h.01M818.3 491.5h.01M823.0 491.9h.01M807.7 500.8h.01M849.3 495.4h.01M814.7 491.8h.01M811.4 492.3h.01M836.0 494.9h.01M811.6 492.7h.01M813.6 501.0h.01M803.0 496.8h.01M810.8 501.4h.01M807.5 500.8h.01M819.2 492.1h.01M846.8 497.1h.01M829.9 492.9h.01M799.7 494.7h.01M800.6 493.7h.01M822.3 493.3h.01M807.2 494.2h.01M839.3 500.4h.01M845.9 493.3h.01M838.5 498.9h.01M798.6 494.3h.01M817.3 493.0h.01M833.9 492.4h.01M850.9 494.8h.01M832.1 494.0h.01M797.7 498.7h.01M819.3 493.0h.01M832.5 492.8h.01M809.9 491.9h.01M846.2 494.1h.01M842.5 498.4h.01M826.4 492.7h.01M818.0 492.3h.01M839.2 494.0h.01M802.0 499.3h.01M839.3 493.1h.01M843.1 493.6h.01M822.0 503.5h.01M822.0 493.7h.01M828.5 502.0h.01M813.7 500.8h.01M830.4 503.0h.01M803.8 493.3h.01M803.0 492.4h.01M843.2 494.4h.01M841.7 498.3h.01M827.4 501.2h.01M801.1 493.8h.01M815.4 493.0h.01M810.8 503.2h.01M817.9 501.4h.01M811.5 501.3h.01M816.3 501.1h.01M827.7 493.9h.01M834.5 502.7h.01M823.8 493.2h.01M831.2 501.9h.01M837.2 501.1h.01M824.0 502.3h.01M838.2 501.6h.01M812.2 492.3h.01M836.4 493.2h.01M814.5 502.8h.01M835.7 501.0h.01M798.4 499.2h.01M812.5 493.0h.01M830.4 493.7h.01M827.5 501.0h.01M800.0 500.4h.01M835.6 493.7h.01M802.6 492.3h.01M800.7 501.5h.01M796.8 492.9h.01M802.9 491.4h.01M823.9 502.1h.01M801.5 498.8h.01M802.6 502.0h.01M819.9 502.2h.01M813.5 491.2h.01M813.9 492.7h.01M824.1 493.4h.01M841.7 493.6h.01M817.9 492.0h.01M798.1 496.3h.01M837.9 500.5h.01M811.9 492.1h.01M829.1 502.5h.01M811.2 492.5h.01M834.2 492.7h.01M819.9 493.9h.01M802.2 494.8h.01M814.2 501.6h.01M826.0 502.4h.01M804.9 501.2h.01M819.9 493.6h.01M822.9 492.7h.01M802.1 500.1h.01M808.4 491.7h.01M818.1 493.0h.01M844.4 498.6h.01M813.7 502.4h.01M843.0 498.2h.01M802.7 494.9h.01M841.2 494.0h.01M830.0 493.3h.01M825.2 501.7h.01M845.3 494.3h.01" stroke="#ff4d27"/><path d="M822.8 496.8h.01M843.0 497.4h.01M820.3 495.1h.01M799.9 494.0h.01M838.1 495.8h.01M803.8 493.2h.01M849.8 497.1h.01M839.4 496.9h.01M802.7 498.4h.01M806.8 500.6h.01" stroke="#ff964f"/><path d="M818.8 496.5h.01M821.6 496.7h.01M836.0 493.4h.01M819.7 502.0h.01M824.5 496.1h.01M818.9 503.0h.01M804.9 495.9h.01M837.1 494.1h.01M800.7 501.4h.01M842.0 494.2h.01" stroke="#67fcc2"/><path d="M798.7 500.6h.01M822.7 499.9h.01M809.3 502.6h.01M837.5 499.6h.01M815.8 499.8h.01M842.4 501.6h.01M836.7 502.5h.01M833.9 499.8h.01M821.1 501.6h.01M820.7 498.5h.01M811.7 498.7h.01M799.7 498.5h.01M813.0 501.5h.01M819.8 499.1h.01M809.1 498.5h.01M817.5 501.5h.01M820.6 501.1h.01M840.7 498.7h.01M802.1 502.2h.01M808.1 499.1h.01M806.2 499.2h.01M829.8 497.8h.01M807.0 500.4h.01M812.3 501.4h.01M817.0 501.9h.01M818.1 501.0h.01M842.5 497.7h.01M825.7 499.1h.01M819.5 502.4h.01M818.5 498.2h.01" stroke="#ff964f"/><path d="M827.9 502.7h.01M804.1 501.2h.01M813.2 502.6h.01M835.8 504.0h.01M830.9 501.5h.01M818.5 504.6h.01M807.9 504.0h.01M815.2 503.6h.01M814.3 502.3h.01M835.0 502.5h.01M832.5 504.3h.01M827.1 500.9h.01M805.9 502.2h.01M830.5 501.3h.01M838.1 505.0h.01M828.3 503.2h.01M828.9 504.2h.01M819.2 503.7h.01M833.5 503.8h.01M833.7 504.6h.01M822.1 503.1h.01M810.9 501.3h.01M833.1 501.4h.01M829.4 501.1h.01M831.5 502.8h.01M804.4 502.2h.01M802.1 503.7h.01M808.0 502.4h.01M804.4 501.8h.01M820.1 500.9h.01M821.1 503.3h.01M838.2 502.3h.01M830.7 501.3h.01M834.8 503.4h.01M816.2 503.1h.01M835.0 501.7h.01M807.1 502.7h.01M815.5 500.8h.01M836.1 501.8h.01M807.5 504.5h.01M814.9 503.3h.01M804.6 502.7h.01M804.4 503.9h.01M822.2 504.2h.01M806.6 504.1h.01" stroke="#67fcc2"/><path d="M796.0 462.8h.01M835.2 471.2h.01M820.2 482.3h.01M827.0 482.9h.01M828.9 482.6h.01M810.0 485.0h.01" stroke="#18cde4"/><path d="M791.1 467.1h.01M798.1 470.2h.01M803.8 471.7h.01M821.2 470.4h.01M834.1 476.9h.01M837.6 490.0h.01M861.0 493.9h.01M853.8 500.7h.01M848.6 499.8h.01" stroke="#ff4d27"/><path d="M801.4 468.3h.01M805.9 467.9h.01M811.9 477.4h.01M815.7 478.8h.01M819.0 486.7h.01M797.1 487.9h.01M853.8 503.9h.01" stroke="#1996f3"/><path d="M796.2 470.9h.01M811.0 479.6h.01M817.6 483.1h.01M822.1 485.7h.01M842.9 506.0h.01M851.1 503.1h.01M858.6 497.4h.01" stroke="#4e4dfc"/><path d="M821.9 469.3h.01M836.4 475.0h.01M816.0 480.9h.01M820.0 480.2h.01M841.2 482.0h.01M797.0 490.0h.01" stroke="#ff964f"/><path d="M825.0 482.6h.01M831.9 506.4h.01M845.7 499.8h.01" stroke="#8000ff"/><path d="M842.9 483.9h.01M812.4 486.0h.01" stroke="#67fcc2"/><path d="M844.8 492.1h.01M851.0 493.1h.01M855.2 496.0h.01M859.5 502.1h.01M854.3 499.6h.01" stroke="#99fca6"/></g></g>
<g fill="none" stroke="#000">
<path d="M241.5 157V653.6M241 653.1H752" stroke-width="1.2"/>
<rect x="242" y="54" width="620" height="103.5" stroke-width="2.1"/>
<path d="M862 157V653H752.5" stroke-width="2.1"/>
<path d="M752.5 53V654" stroke-width="3"/>
<path d="M241 157.5H863" stroke-width="3"/>
</g>
<rect x="158.4" y="690.4" width="787" height="38.2" fill="url(#rb)" stroke="#000" stroke-width="0.85"/>
<g stroke="#000" stroke-width="0.85">
<path d="M158.4 729V732.6"/>
<path d="M315.8 729V732.6"/>
<path d="M473.2 729V732.6"/>
<path d="M630.6 729V732.6"/>
<path d="M788.0 729V732.6"/>
<path d="M945.4 729V732.6"/>
</g>
<g class="t" text-anchor="middle">
<text x="158.4" y="742.9">0</text>
<text x="315.8" y="742.9">2</text>
<text x="473.2" y="742.9">4</text>
<text x="630.6" y="742.9">6</text>
<text x="788.0" y="742.9">8</text>
<text x="945.4" y="742.9">10</text>
</g>
<text x="557.3" y="719" text-anchor="middle" style="font-size:18.9px">from 19:00:00 to 19:09:59</text>
<text x="551.2" y="46.3" text-anchor="middle" style="font-size:23.03px">SAETTA Lightning Mapping Array - 15/10/03</text>
<g class="t">
<text x="219.2" y="52.1">15</text>
<text x="219.2" y="87.2">10</text>
<text x="219.2" y="122.7">5</text>
<text x="219.2" y="157.4">0</text>
</g>
<g class="t" text-anchor="end">
<text x="234" y="655.7">40°N</text>
<text x="234" y="607.9">40.5°N</text>
<text x="234" y="559.7">41°N</text>
<text x="234" y="511.1">41.5°N</text>
<text x="234" y="462.2">42°N</text>
<text x="234" y="412.9">42.5°N</text>
<text x="234" y="363.2">43°N</text>
<text x="234" y="313.1">43.5°N</text>
<text x="234" y="262.6">44°N</text>
<text x="234" y="211.6">44.5°N</text>
</g>
<g class="t" text-anchor="middle">
<text x="241.6" y="667">5°E</text>
<text x="278.1" y="667">5.5°E</text>
<text x="314.6" y="667">6°E</text>
<text x="351.1" y="667">6.5°E</text>
<text x="387.6" y="667">7°E</text>
<text x="424.1" y="667">7.5°E</text>
<text x="460.6" y="667">8°E</text>
<text x="497.1" y="667">8.5°E</text>
<text x="533.6" y="667">9°E</text>
<text x="570.1" y="667">9.5°E</text>
<text x="606.6" y="667">10°E</text>
<text x="643.1" y="667">10.5°E</text>
<text x="679.6" y="667">11°E</text>
<text x="716.1" y="667">11.5°E</text>
</g>
<g class="t">
<text x="753.3" y="667">0</text>
<text x="789.3" y="667">5</text>
<text x="825.6" y="667">10</text>
<text x="862.3" y="667">15</text>
</g>
<text class="k" x="195.5" y="104.8" text-anchor="middle">Km</text>
<text class="k" x="816.6" y="675.7" text-anchor="middle">Km</text>
<g class="i">
<text y="83.6"><tspan x="769.6">6</tspan><tspan x="782.4">:</tspan><tspan x="799.6">24477</tspan></text>
<text y="94.0" fill="#ff0000" style="fill:#ff0000"><tspan x="769.6">7</tspan><tspan x="782.4">:</tspan><tspan x="799.6">10171</tspan></text>
<text y="104.4"><tspan x="769.6">8</tspan><tspan x="782.4">:</tspan><tspan x="802.9">2571</tspan></text>
<text y="114.8"><tspan x="769.6">9</tspan><tspan x="782.4">:</tspan><tspan x="806.2">368</tspan></text>
<text y="125.2"><tspan x="766.4">10</tspan><tspan x="785.9">:</tspan><tspan x="812.8">58</tspan></text>
<text y="135.6"><tspan x="766.4">11</tspan><tspan x="785.9">:</tspan><tspan x="815.6">0</tspan></text>
<text y="146.0"><tspan x="766.4">12</tspan><tspan x="785.9">:</tspan><tspan x="815.6">0</tspan></text>
</g>
</svg></body></html>
